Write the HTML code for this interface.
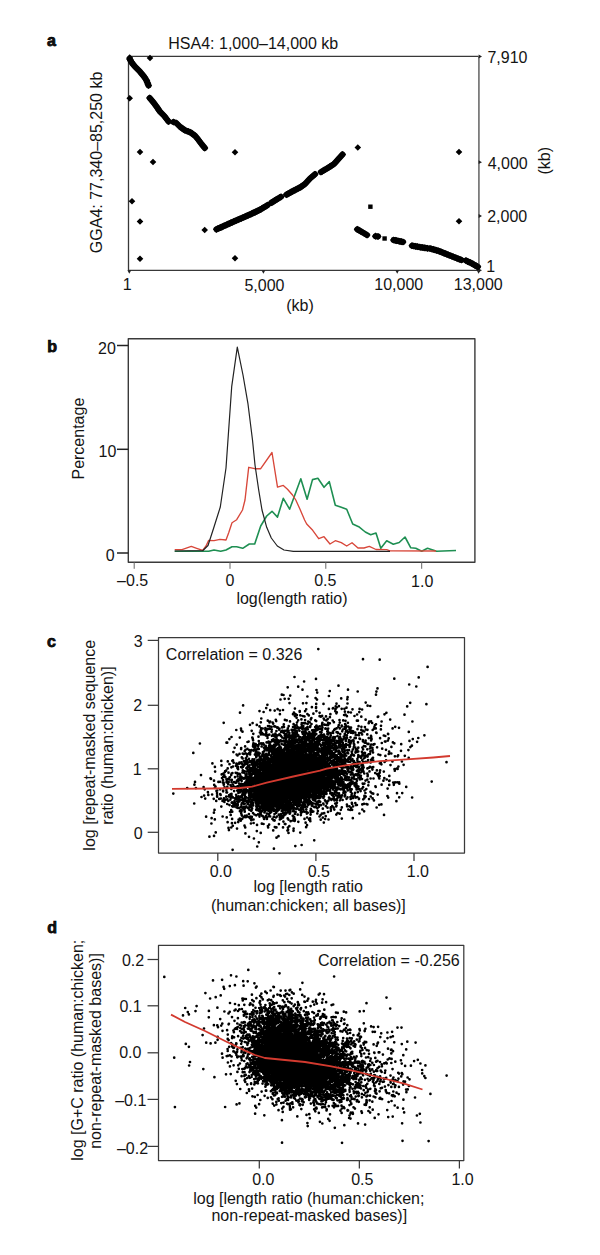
<!DOCTYPE html>
<html><head><meta charset="utf-8"><style>
html,body{margin:0;padding:0;background:#fff;}
svg{display:block}
text{font-family:"Liberation Sans", sans-serif;font-size:16px;fill:#141414}
</style></head><body>
<svg width="600" height="1255" viewBox="0 0 600 1255">
<path d="M478.6 56.4H128.5V270.3H478.6" fill="none" stroke="#383838" stroke-width="1.3" stroke-linejoin="round"/>
<line x1="478.9" y1="56.4" x2="478.9" y2="270.3" stroke="#7c7c7c" stroke-width="1.8"/>
<path d="M478.6 54.6L482 56.5L478.6 58.4z" fill="#222"/>
<path d="M478.6 160.3L482 162.2L478.6 164.1z" fill="#222"/>
<path d="M478.6 214.1L482 216.0L478.6 217.9z" fill="#222"/>
<path d="M478.6 268.4L482 270.3L478.6 272.2z" fill="#222"/>
<path d="M127.4 270.3L129.3 273.8L131.2 270.3z" fill="#222"/>
<path d="M261.5 270.3L263.4 273.8L265.3 270.3z" fill="#222"/>
<path d="M395.3 270.3L397.2 273.8L399.1 270.3z" fill="#222"/>
<path d="M476.7 270.3L478.6 273.8L480.5 270.3z" fill="#222"/>
<path d="M126.4 57.5l3.3 -3.3l3.3 3.3l-3.3 3.3zM146.7 58.0l3.3 -3.3l3.3 3.3l-3.3 3.3zM126.4 98.3l3.3 -3.3l3.3 3.3l-3.3 3.3zM136.7 152.0l3.3 -3.3l3.3 3.3l-3.3 3.3zM149.7 162.0l3.3 -3.3l3.3 3.3l-3.3 3.3zM128.7 201.2l3.3 -3.3l3.3 3.3l-3.3 3.3zM136.7 221.5l3.3 -3.3l3.3 3.3l-3.3 3.3zM136.7 258.7l3.3 -3.3l3.3 3.3l-3.3 3.3zM201.4 230.0l3.3 -3.3l3.3 3.3l-3.3 3.3zM231.7 152.3l3.3 -3.3l3.3 3.3l-3.3 3.3zM231.7 258.3l3.3 -3.3l3.3 3.3l-3.3 3.3zM354.5 147.5l3.3 -3.3l3.3 3.3l-3.3 3.3zM455.7 152.0l3.3 -3.3l3.3 3.3l-3.3 3.3zM455.7 221.3l3.3 -3.3l3.3 3.3l-3.3 3.3zM126.1 59.0l3.6 -3.6l3.6 3.6l-3.6 3.6zM126.9 60.3l3.6 -3.6l3.6 3.6l-3.6 3.6zM127.6 61.7l3.6 -3.6l3.6 3.6l-3.6 3.6zM128.4 63.0l3.6 -3.6l3.6 3.6l-3.6 3.6zM129.4 64.2l3.6 -3.6l3.6 3.6l-3.6 3.6zM130.4 65.5l3.6 -3.6l3.6 3.6l-3.6 3.6zM131.4 66.7l3.6 -3.6l3.6 3.6l-3.6 3.6zM132.7 68.0l3.6 -3.6l3.6 3.6l-3.6 3.6zM133.9 69.2l3.6 -3.6l3.6 3.6l-3.6 3.6zM135.2 70.5l3.6 -3.6l3.6 3.6l-3.6 3.6zM136.4 71.7l3.6 -3.6l3.6 3.6l-3.6 3.6zM137.5 73.0l3.6 -3.6l3.6 3.6l-3.6 3.6zM138.5 74.2l3.6 -3.6l3.6 3.6l-3.6 3.6zM139.5 75.5l3.6 -3.6l3.6 3.6l-3.6 3.6zM140.6 76.7l3.6 -3.6l3.6 3.6l-3.6 3.6zM141.4 78.1l3.6 -3.6l3.6 3.6l-3.6 3.6zM142.3 79.4l3.6 -3.6l3.6 3.6l-3.6 3.6zM143.1 80.8l3.6 -3.6l3.6 3.6l-3.6 3.6zM143.7 82.4l3.6 -3.6l3.6 3.6l-3.6 3.6zM144.3 83.9l3.6 -3.6l3.6 3.6l-3.6 3.6zM144.9 85.5l3.6 -3.6l3.6 3.6l-3.6 3.6zM146.1 98.0l3.6 -3.6l3.6 3.6l-3.6 3.6zM147.1 99.2l3.6 -3.6l3.6 3.6l-3.6 3.6zM148.1 100.3l3.6 -3.6l3.6 3.6l-3.6 3.6zM149.1 101.5l3.6 -3.6l3.6 3.6l-3.6 3.6zM150.1 102.7l3.6 -3.6l3.6 3.6l-3.6 3.6zM151.2 104.2l3.6 -3.6l3.6 3.6l-3.6 3.6zM152.3 105.8l3.6 -3.6l3.6 3.6l-3.6 3.6zM153.4 107.3l3.6 -3.6l3.6 3.6l-3.6 3.6zM154.3 108.6l3.6 -3.6l3.6 3.6l-3.6 3.6zM155.2 110.0l3.6 -3.6l3.6 3.6l-3.6 3.6zM156.1 111.3l3.6 -3.6l3.6 3.6l-3.6 3.6zM157.2 112.5l3.6 -3.6l3.6 3.6l-3.6 3.6zM158.4 113.7l3.6 -3.6l3.6 3.6l-3.6 3.6zM159.6 114.8l3.6 -3.6l3.6 3.6l-3.6 3.6zM160.7 116.0l3.6 -3.6l3.6 3.6l-3.6 3.6zM161.8 117.4l3.6 -3.6l3.6 3.6l-3.6 3.6zM162.8 118.8l3.6 -3.6l3.6 3.6l-3.6 3.6zM163.8 120.1l3.6 -3.6l3.6 3.6l-3.6 3.6zM164.9 121.5l3.6 -3.6l3.6 3.6l-3.6 3.6zM169.9 122.0l3.6 -3.6l3.6 3.6l-3.6 3.6zM172.7 123.0l3.6 -3.6l3.6 3.6l-3.6 3.6zM174.0 124.3l3.6 -3.6l3.6 3.6l-3.6 3.6zM175.4 125.7l3.6 -3.6l3.6 3.6l-3.6 3.6zM176.7 127.0l3.6 -3.6l3.6 3.6l-3.6 3.6zM178.3 128.1l3.6 -3.6l3.6 3.6l-3.6 3.6zM179.8 129.2l3.6 -3.6l3.6 3.6l-3.6 3.6zM181.4 130.3l3.6 -3.6l3.6 3.6l-3.6 3.6zM183.2 131.0l3.6 -3.6l3.6 3.6l-3.6 3.6zM184.9 131.6l3.6 -3.6l3.6 3.6l-3.6 3.6zM186.7 132.3l3.6 -3.6l3.6 3.6l-3.6 3.6zM188.3 133.4l3.6 -3.6l3.6 3.6l-3.6 3.6zM189.8 134.6l3.6 -3.6l3.6 3.6l-3.6 3.6zM191.4 135.7l3.6 -3.6l3.6 3.6l-3.6 3.6zM192.5 137.0l3.6 -3.6l3.6 3.6l-3.6 3.6zM193.6 138.4l3.6 -3.6l3.6 3.6l-3.6 3.6zM194.7 139.7l3.6 -3.6l3.6 3.6l-3.6 3.6zM195.8 141.2l3.6 -3.6l3.6 3.6l-3.6 3.6zM197.0 142.8l3.6 -3.6l3.6 3.6l-3.6 3.6zM198.1 144.3l3.6 -3.6l3.6 3.6l-3.6 3.6zM199.1 145.5l3.6 -3.6l3.6 3.6l-3.6 3.6zM200.2 146.8l3.6 -3.6l3.6 3.6l-3.6 3.6zM201.2 148.0l3.6 -3.6l3.6 3.6l-3.6 3.6zM212.9 229.3l3.6 -3.6l3.6 3.6l-3.6 3.6zM214.3 228.7l3.6 -3.6l3.6 3.6l-3.6 3.6zM215.7 228.0l3.6 -3.6l3.6 3.6l-3.6 3.6zM217.2 227.4l3.6 -3.6l3.6 3.6l-3.6 3.6zM218.6 226.8l3.6 -3.6l3.6 3.6l-3.6 3.6zM220.0 226.1l3.6 -3.6l3.6 3.6l-3.6 3.6zM221.4 225.5l3.6 -3.6l3.6 3.6l-3.6 3.6zM222.8 224.9l3.6 -3.6l3.6 3.6l-3.6 3.6zM224.3 224.2l3.6 -3.6l3.6 3.6l-3.6 3.6zM225.7 223.6l3.6 -3.6l3.6 3.6l-3.6 3.6zM227.1 222.9l3.6 -3.6l3.6 3.6l-3.6 3.6zM228.5 222.3l3.6 -3.6l3.6 3.6l-3.6 3.6zM230.0 221.6l3.6 -3.6l3.6 3.6l-3.6 3.6zM231.4 221.0l3.6 -3.6l3.6 3.6l-3.6 3.6zM233.0 220.3l3.6 -3.6l3.6 3.6l-3.6 3.6zM234.6 219.6l3.6 -3.6l3.6 3.6l-3.6 3.6zM236.2 219.0l3.6 -3.6l3.6 3.6l-3.6 3.6zM237.8 218.3l3.6 -3.6l3.6 3.6l-3.6 3.6zM239.4 217.6l3.6 -3.6l3.6 3.6l-3.6 3.6zM240.8 217.0l3.6 -3.6l3.6 3.6l-3.6 3.6zM242.2 216.4l3.6 -3.6l3.6 3.6l-3.6 3.6zM243.6 215.7l3.6 -3.6l3.6 3.6l-3.6 3.6zM245.0 215.1l3.6 -3.6l3.6 3.6l-3.6 3.6zM246.4 214.5l3.6 -3.6l3.6 3.6l-3.6 3.6zM247.8 213.8l3.6 -3.6l3.6 3.6l-3.6 3.6zM249.3 213.1l3.6 -3.6l3.6 3.6l-3.6 3.6zM250.7 212.4l3.6 -3.6l3.6 3.6l-3.6 3.6zM252.1 211.8l3.6 -3.6l3.6 3.6l-3.6 3.6zM253.5 211.1l3.6 -3.6l3.6 3.6l-3.6 3.6zM255.0 210.4l3.6 -3.6l3.6 3.6l-3.6 3.6zM256.4 209.7l3.6 -3.6l3.6 3.6l-3.6 3.6zM257.9 208.8l3.6 -3.6l3.6 3.6l-3.6 3.6zM259.4 207.9l3.6 -3.6l3.6 3.6l-3.6 3.6zM260.9 207.0l3.6 -3.6l3.6 3.6l-3.6 3.6zM262.4 206.1l3.6 -3.6l3.6 3.6l-3.6 3.6zM263.9 205.2l3.6 -3.6l3.6 3.6l-3.6 3.6zM267.9 202.6l3.6 -3.6l3.6 3.6l-3.6 3.6zM269.3 201.8l3.6 -3.6l3.6 3.6l-3.6 3.6zM270.6 200.9l3.6 -3.6l3.6 3.6l-3.6 3.6zM272.0 200.1l3.6 -3.6l3.6 3.6l-3.6 3.6zM273.3 199.3l3.6 -3.6l3.6 3.6l-3.6 3.6zM274.7 198.5l3.6 -3.6l3.6 3.6l-3.6 3.6zM276.0 197.6l3.6 -3.6l3.6 3.6l-3.6 3.6zM277.4 196.8l3.6 -3.6l3.6 3.6l-3.6 3.6zM282.9 194.6l3.6 -3.6l3.6 3.6l-3.6 3.6zM284.4 193.8l3.6 -3.6l3.6 3.6l-3.6 3.6zM285.9 193.0l3.6 -3.6l3.6 3.6l-3.6 3.6zM287.4 192.1l3.6 -3.6l3.6 3.6l-3.6 3.6zM288.9 191.3l3.6 -3.6l3.6 3.6l-3.6 3.6zM290.4 190.5l3.6 -3.6l3.6 3.6l-3.6 3.6zM291.9 189.8l3.6 -3.6l3.6 3.6l-3.6 3.6zM293.4 189.0l3.6 -3.6l3.6 3.6l-3.6 3.6zM294.9 188.2l3.6 -3.6l3.6 3.6l-3.6 3.6zM296.4 187.5l3.6 -3.6l3.6 3.6l-3.6 3.6zM297.6 186.6l3.6 -3.6l3.6 3.6l-3.6 3.6zM298.9 185.8l3.6 -3.6l3.6 3.6l-3.6 3.6zM300.1 184.9l3.6 -3.6l3.6 3.6l-3.6 3.6zM301.4 184.0l3.6 -3.6l3.6 3.6l-3.6 3.6zM302.6 182.6l3.6 -3.6l3.6 3.6l-3.6 3.6zM303.9 181.2l3.6 -3.6l3.6 3.6l-3.6 3.6zM305.1 179.9l3.6 -3.6l3.6 3.6l-3.6 3.6zM306.4 178.5l3.6 -3.6l3.6 3.6l-3.6 3.6zM307.6 177.4l3.6 -3.6l3.6 3.6l-3.6 3.6zM308.9 176.4l3.6 -3.6l3.6 3.6l-3.6 3.6zM310.1 175.4l3.6 -3.6l3.6 3.6l-3.6 3.6zM311.4 174.3l3.6 -3.6l3.6 3.6l-3.6 3.6zM317.4 172.0l3.6 -3.6l3.6 3.6l-3.6 3.6zM318.9 171.1l3.6 -3.6l3.6 3.6l-3.6 3.6zM320.4 170.2l3.6 -3.6l3.6 3.6l-3.6 3.6zM321.9 169.4l3.6 -3.6l3.6 3.6l-3.6 3.6zM323.4 168.5l3.6 -3.6l3.6 3.6l-3.6 3.6zM324.8 167.6l3.6 -3.6l3.6 3.6l-3.6 3.6zM326.2 166.7l3.6 -3.6l3.6 3.6l-3.6 3.6zM327.6 165.8l3.6 -3.6l3.6 3.6l-3.6 3.6zM329.0 164.9l3.6 -3.6l3.6 3.6l-3.6 3.6zM330.4 164.0l3.6 -3.6l3.6 3.6l-3.6 3.6zM331.4 162.9l3.6 -3.6l3.6 3.6l-3.6 3.6zM332.4 161.8l3.6 -3.6l3.6 3.6l-3.6 3.6zM333.4 160.6l3.6 -3.6l3.6 3.6l-3.6 3.6zM334.4 159.5l3.6 -3.6l3.6 3.6l-3.6 3.6zM335.5 158.2l3.6 -3.6l3.6 3.6l-3.6 3.6zM336.6 157.0l3.6 -3.6l3.6 3.6l-3.6 3.6zM337.8 155.8l3.6 -3.6l3.6 3.6l-3.6 3.6zM338.9 154.5l3.6 -3.6l3.6 3.6l-3.6 3.6zM353.7 229.3l3.6 -3.6l3.6 3.6l-3.6 3.6zM355.3 230.2l3.6 -3.6l3.6 3.6l-3.6 3.6zM356.8 231.1l3.6 -3.6l3.6 3.6l-3.6 3.6zM358.4 232.0l3.6 -3.6l3.6 3.6l-3.6 3.6zM360.1 233.0l3.6 -3.6l3.6 3.6l-3.6 3.6zM361.7 234.0l3.6 -3.6l3.6 3.6l-3.6 3.6zM363.4 235.0l3.6 -3.6l3.6 3.6l-3.6 3.6zM371.9 236.2l3.6 -3.6l3.6 3.6l-3.6 3.6zM374.4 236.5l3.6 -3.6l3.6 3.6l-3.6 3.6zM390.0 240.0l3.6 -3.6l3.6 3.6l-3.6 3.6zM391.6 240.3l3.6 -3.6l3.6 3.6l-3.6 3.6zM393.1 240.7l3.6 -3.6l3.6 3.6l-3.6 3.6zM394.7 241.0l3.6 -3.6l3.6 3.6l-3.6 3.6zM396.3 241.3l3.6 -3.6l3.6 3.6l-3.6 3.6zM397.8 241.7l3.6 -3.6l3.6 3.6l-3.6 3.6zM399.4 242.0l3.6 -3.6l3.6 3.6l-3.6 3.6zM408.4 245.7l3.6 -3.6l3.6 3.6l-3.6 3.6zM410.2 246.0l3.6 -3.6l3.6 3.6l-3.6 3.6zM412.0 246.3l3.6 -3.6l3.6 3.6l-3.6 3.6zM413.8 246.7l3.6 -3.6l3.6 3.6l-3.6 3.6zM415.6 247.0l3.6 -3.6l3.6 3.6l-3.6 3.6zM417.3 247.3l3.6 -3.6l3.6 3.6l-3.6 3.6zM418.9 247.5l3.6 -3.6l3.6 3.6l-3.6 3.6zM420.6 247.8l3.6 -3.6l3.6 3.6l-3.6 3.6zM422.2 248.0l3.6 -3.6l3.6 3.6l-3.6 3.6zM423.9 248.3l3.6 -3.6l3.6 3.6l-3.6 3.6zM426.4 248.5l3.6 -3.6l3.6 3.6l-3.6 3.6zM428.1 249.0l3.6 -3.6l3.6 3.6l-3.6 3.6zM429.7 249.4l3.6 -3.6l3.6 3.6l-3.6 3.6zM431.4 249.9l3.6 -3.6l3.6 3.6l-3.6 3.6zM433.0 250.3l3.6 -3.6l3.6 3.6l-3.6 3.6zM434.7 250.8l3.6 -3.6l3.6 3.6l-3.6 3.6zM436.1 251.4l3.6 -3.6l3.6 3.6l-3.6 3.6zM437.5 251.9l3.6 -3.6l3.6 3.6l-3.6 3.6zM438.9 252.5l3.6 -3.6l3.6 3.6l-3.6 3.6zM440.3 253.1l3.6 -3.6l3.6 3.6l-3.6 3.6zM441.7 253.6l3.6 -3.6l3.6 3.6l-3.6 3.6zM443.1 254.2l3.6 -3.6l3.6 3.6l-3.6 3.6zM444.8 254.9l3.6 -3.6l3.6 3.6l-3.6 3.6zM446.4 255.5l3.6 -3.6l3.6 3.6l-3.6 3.6zM448.1 256.2l3.6 -3.6l3.6 3.6l-3.6 3.6zM449.7 256.8l3.6 -3.6l3.6 3.6l-3.6 3.6zM451.4 257.5l3.6 -3.6l3.6 3.6l-3.6 3.6zM453.0 258.1l3.6 -3.6l3.6 3.6l-3.6 3.6zM454.6 258.8l3.6 -3.6l3.6 3.6l-3.6 3.6zM456.3 259.4l3.6 -3.6l3.6 3.6l-3.6 3.6zM457.9 260.0l3.6 -3.6l3.6 3.6l-3.6 3.6zM462.4 260.6l3.6 -3.6l3.6 3.6l-3.6 3.6zM463.8 261.3l3.6 -3.6l3.6 3.6l-3.6 3.6zM465.2 262.0l3.6 -3.6l3.6 3.6l-3.6 3.6zM466.7 262.6l3.6 -3.6l3.6 3.6l-3.6 3.6zM468.1 263.3l3.6 -3.6l3.6 3.6l-3.6 3.6zM469.6 264.2l3.6 -3.6l3.6 3.6l-3.6 3.6zM471.1 265.1l3.6 -3.6l3.6 3.6l-3.6 3.6zM472.7 265.9l3.6 -3.6l3.6 3.6l-3.6 3.6zM474.2 266.8l3.6 -3.6l3.6 3.6l-3.6 3.6z" fill="#000"/>
<polyline points="129.7,59 132,63 135,66.7 140,71.7 144.2,76.7 146.7,80.8 148.5,85.5" fill="none" stroke="#000" stroke-width="6" stroke-linejoin="round" stroke-linecap="round"/>
<polyline points="149.7,98 153.7,102.7 157,107.3 159.7,111.3 164.3,116 168.5,121.5" fill="none" stroke="#000" stroke-width="6" stroke-linejoin="round" stroke-linecap="round"/>
<polyline points="173.5,122 176.3,123 180.3,127 185,130.3 190.3,132.3 195,135.7 198.3,139.7 201.7,144.3 204.8,148" fill="none" stroke="#000" stroke-width="6" stroke-linejoin="round" stroke-linecap="round"/>
<polyline points="216.5,229.3 225,225.5 235,221 243,217.6 250,214.5 260,209.7 267.5,205.2" fill="none" stroke="#000" stroke-width="6" stroke-linejoin="round" stroke-linecap="round"/>
<polyline points="271.5,202.6 281,196.8" fill="none" stroke="#000" stroke-width="6" stroke-linejoin="round" stroke-linecap="round"/>
<polyline points="286.5,194.6 294,190.5 300,187.5 305,184 310,178.5 315,174.3" fill="none" stroke="#000" stroke-width="6" stroke-linejoin="round" stroke-linecap="round"/>
<polyline points="321,172 327,168.5 334,164 338,159.5 342.5,154.5" fill="none" stroke="#000" stroke-width="6" stroke-linejoin="round" stroke-linecap="round"/>
<polyline points="357.3,229.3 362,232 367,235" fill="none" stroke="#000" stroke-width="6" stroke-linejoin="round" stroke-linecap="round"/>
<polyline points="375.5,236.2 378,236.5" fill="none" stroke="#000" stroke-width="6" stroke-linejoin="round" stroke-linecap="round"/>
<polyline points="393.6,240 403,242" fill="none" stroke="#000" stroke-width="6" stroke-linejoin="round" stroke-linecap="round"/>
<polyline points="412,245.7 419.2,247 427.5,248.3 430,248.5 438.3,250.8 446.7,254.2 455,257.5 461.5,260" fill="none" stroke="#000" stroke-width="6" stroke-linejoin="round" stroke-linecap="round"/>
<polyline points="466,260.6 471.7,263.3 477.8,266.8" fill="none" stroke="#000" stroke-width="6" stroke-linejoin="round" stroke-linecap="round"/>
<rect x="368.2" y="204.5" width="4.4" height="4.4" fill="#000"/>
<rect x="382.40000000000003" y="236.3" width="4.4" height="4.4" fill="#000"/>
<rect stroke-linejoin="round" x="128.3" y="338.7" width="346.59999999999997" height="223.50000000000006" fill="none" stroke="#3a3a3a" stroke-width="1.4"/>
<line x1="117" y1="345.5" x2="128.3" y2="345.5" stroke="#222" stroke-width="1.5"/>
<line x1="117" y1="449.3" x2="128.3" y2="449.3" stroke="#222" stroke-width="1.5"/>
<line x1="117" y1="553" x2="128.3" y2="553" stroke="#222" stroke-width="1.5"/>
<line x1="134.2" y1="562.2" x2="134.2" y2="568.8" stroke="#666" stroke-width="1.0"/>
<line x1="230" y1="562.2" x2="230" y2="568.8" stroke="#666" stroke-width="1.0"/>
<line x1="325.8" y1="562.2" x2="325.8" y2="568.8" stroke="#666" stroke-width="1.0"/>
<line x1="421.7" y1="562.2" x2="421.7" y2="568.8" stroke="#666" stroke-width="1.0"/>
<polyline points="174.7,551.3 208.7,551.3 214.0,550.0 220.7,551.3 226.0,550.0 232.0,546.7 236.7,546.7 242.7,548.3 249.3,544.0 254.7,544.0 260.7,526.0 266.7,516.0 272.0,511.3 277.5,517.1 283.3,498.3 289.6,509.2 300.8,478.8 307.1,499.2 312.5,479.6 317.9,478.3 324.0,487.3 329.3,481.6 335.3,505.3 341.3,507.3 346.7,509.3 352.7,524.0 358.7,526.7 365.3,532.0 370.7,534.7 376.0,533.0 380.8,548.3 386.7,540.8 393.3,544.2 399.2,542.5 405.0,537.0 410.8,547.8 415.8,548.3 421.7,551.2 427.5,548.3 436.7,551.2 456.0,550.5" fill="none" stroke="#1e8f52" stroke-width="1.6" stroke-linejoin="round"/>
<polyline points="174.7,549.6 182.0,549.6 191.3,546.4 196.7,548.3 202.7,550.4 206.0,546.0 208.7,540.4 214.0,540.7 220.0,539.3 226.0,540.0 228.7,532.7 232.0,522.7 236.7,519.7 242.5,510.0 245.0,500.0 248.7,467.3 254.7,468.7 260.7,468.7 272.0,452.5 277.5,487.1 283.3,485.4 287.5,489.2 292.5,495.0 295.8,500.0 300.0,509.2 304.6,520.0 306.7,524.0 312.7,530.3 318.7,538.7 324.0,536.7 330.0,544.0 335.3,540.7 341.3,542.7 346.7,546.0 352.0,542.7 358.0,548.0 364.0,548.0 369.3,546.4 376.0,549.5 386.7,549.7 390.0,550.8 436.0,551.0" fill="none" stroke="#d8473a" stroke-width="1.35" stroke-linejoin="round"/>
<polyline points="174.7,551.0 202.7,550.7 208.0,545.5 214.0,527.0 220.3,507.0 226.0,468.0 231.7,386.7 237.3,347.1 243.0,375.0 247.9,403.3 252.5,440.0 255.0,465.0 258.7,490.0 262.0,510.0 266.7,527.3 271.3,538.0 277.3,546.0 284.0,550.0 293.3,551.3 390.0,551.3" fill="none" stroke="#222" stroke-width="1.2" stroke-linejoin="round"/>
<rect stroke-linejoin="round" x="158.5" y="637.5" width="306.0" height="215.5" fill="none" stroke="#3a3a3a" stroke-width="1.25"/>
<line x1="147.7" y1="640.4" x2="158.5" y2="640.4" stroke="#3a3a3a" stroke-width="1.25"/>
<line x1="147.7" y1="705.3" x2="158.5" y2="705.3" stroke="#3a3a3a" stroke-width="1.25"/>
<line x1="147.7" y1="768.8" x2="158.5" y2="768.8" stroke="#3a3a3a" stroke-width="1.25"/>
<line x1="147.7" y1="832.3" x2="158.5" y2="832.3" stroke="#3a3a3a" stroke-width="1.25"/>
<line x1="217.8" y1="853" x2="217.8" y2="861" stroke="#3a3a3a" stroke-width="1.25"/>
<line x1="315.9" y1="853" x2="315.9" y2="861" stroke="#3a3a3a" stroke-width="1.25"/>
<line x1="414.0" y1="853" x2="414.0" y2="861" stroke="#3a3a3a" stroke-width="1.25"/>
<path d="M318.3 649.1h0m44.7 10.1h0m16.7 0.5h0m47.9 7.2h0m-133.1 10.1h0m21.5 1.9h0m78.3-0.2h0m24.4-1.3h0m-120.5 9.3h0m5.9-5.2h0m34.4 4.2h0m70.7-1.2h0m7.1 2h0m-128.6 0.8h0m14.8 2.4h0m14 0.3h0m0.7 2.6h0m12.6-1.5h0m18.2-1.4h0m9.7 1.8h0m18.7 0.1h0m1.1-3.2h0m-95.7 6.3h0m1.7 0.3h0m1.2 3.8h0m4 0h0m1.5-3.2h0m17.2 0.9h0m8.2 1.6h0m13.3-2.1h0m12.3 2.4h0m6.4-1.2h0m28.4-2.5h0m-108.6 10.1h0m13.1-5.3h0m9 3.6h0m13.5 0.2h0m3.4-0.2h0m9.8 0.8h0m0.8-4.3h0m6.5 4.3h0m13-0.2h0m10.8-4.4h0m0.2 4.2h0m18.2-0.9h0m44.5 0.2h0m16.2 1.4h0m-183.3 1.2h0m23.1 2.7h0m4 2.1h0m4.5 0.4h0m2.9-1.4h0m2.3 1.3h0m3.1-0.5h0m11.9-1.4h0m11.3 0.7h0m5.7-2.1h0m4.1 0.7h0m0.1-0.7h0m12.8 1.7h0m3.9-0.4h0m0.4-0.3h0m2.3 1.2h0m0.2-3h0m1 1h0m2.2-1.2h0m2.8 2.6h0m2.7 0h0m2.1-1.1h0m6 1.6h0m7.1-0.4h0m2.5 0.6h0m5.5-3.8h0m2.6 0.3h0m37 0.4h0m-167.2 6.3h0m19.5-1.6h0m4.1 0.9h0m16.3 2.2h0m13.1 0h0m0.9-1.6h0m1 3.5h0m0.5-2h0m1.5 1h0m2.8-4h0m0 0.7h0m0.6 3.5h0m2.4 0.7h0m1.7 0.5h0m0.1 0h0m0.6-5.3h0m2.3 2.9h0m1.4 1.3h0m4.6-1.7h0m3-2.6h0m3.2 5.1h0m0-3.4h0m1.2 3.9h0m1.3-0.8h0m3.9 0.5h0m4.4-2.2h0m4.9-3h0m1.1 2.1h0m0.4-1h0m7.3 2.7h0m0.5 0.1h0m0.3-3.4h0m0.5 2.9h0m1.5 1.6h0m1.4-4h0m2.6 0.3h0m3.6 3.5h0m2.6-1.5h0m2.2-2.4h0m2 4.6h0m16.5 0.2h0m0.4-0.3h0m6.3-2.3h0m1.9-1.5h0m18.1 1.9h0m-180.8 8.1h0m37.1-0.5h0m0.5-3.8h0m6.5 2.2h0m1.7 1.7h0m0.6-0.9h0m2.5 1.1h0m3.2-2.8h0m0.4 1.3h0m8.7-1.2h0m1.8 0.5h0m3.3 1h0m6.6-3.6h0m0.4 4.7h0m1.2-2.2h0m3.2-0.9h0m3.7 0.7h0m3.1 1.6h0m1.5 0.6h0m1.1-2.9h0m0.6-1.4h0m3.9 2.4h0m0.9 0.7h0m6.2 1.7h0m1.3-4.3h0m0.4 1.1h0m2.2 0.9h0m1.4-1.4h0m0.4 3.8h0m1.8-5.7h0m2.8 3.3h0m1.2 1.7h0m5.6-2.1h0m0.3 2.5h0m3.4-2.2h0m2.3 0.4h0m2.4 2h0m9-2.1h0m1 0h0m7.7-1h0m3.6 2h0m1.9-0.3h0m10.5 0.1h0m8.6-1.9h0m22.2 1.9h0m-171.4 7.2h0m9-3.9h0m2.6-1.7h0m4.2 1.8h0m2.7 1.5h0m1.7 2h0m1.5 0.1h0m2.7-0.4h0m2.6-2h0m1.4 0.1h0m0.4 2.6h0m1.8-2h0m1.6-3.1h0m1.1 2.7h0m1 0.2h0m2 0.7h0m0 0.5h0m0.7-0.1h0m1.5 1.1h0m2.6-1.4h0m1.5-0.9h0m0.2-2.1h0m0.2 2.6h0m3.8 1.3h0m0.9-2.1h0m4.3 0.9h0m0.6-2.9h0m1.2 3.4h0m0.1 0.2h0m0.1-2h0m1.5-0.7h0m0.2 3.1h0m0-0.4h0m0.9-0.6h0m0.4 0.6h0m0.6 0.8h0m1-0.8h0m0.8-0.1h0m1.2-3.1h0m0.1 2.7h0m0.1-4.2h0m0.4 2.7h0m1.1 0.3h0m0.7 2.4h0m0-5.4h0m0.8 0.2h0m0.5-0.1h0m0.3 5.3h0m0.7-0.4h0m0.8-0.1h0m0.5-0.8h0m0-3.2h0m2.5 3.1h0m0.3-1.2h0m1.1-1.9h0m3.7 3h0m0.2 0.3h0m0.5 1.5h0m0.3 0.2h0m0.3-3.5h0m0.1 1.5h0m1.5 0.1h0m1.5-0.7h0m1.2 2.5h0m1.2-3.2h0m0.1 0h0m0-1.5h0m0.4 3.4h0m2.1-2.9h0m0.8 4h0m0.3-0.1h0m0.8-3.6h0m1.1-0.5h0m0.5 0.6h0m0.1 3.4h0m1.6-5.2h0m6.8 5.1h0m1.8-1.8h0m0.4-1.6h0m0.9 3.4h0m2-1.9h0m0-1h0m2.8 3.2h0m0.1-1.9h0m0.5-2.7h0m0.7 1.2h0m0.1 2.5h0m0.1-1.5h0m2.2 0.2h0m1.1 0.8h0m1 0.7h0m0.7-0.3h0m7.6-1.5h0m2.8 0.6h0m3.5 0.3h0m3.8-3.9h0m3.4-0.2h0m1.7 5.8h0m0.6-1.7h0m0.5-1.9h0m0.9 3.2h0m0.2-4.1h0m5 1.5h0m11.6 2.6h0m2.6-1.6h0m3.8 1h0m-162.7 2.2h0m5 0.5h0m1.2 1.2h0m9.2-0.9h0m1.6 3h0m6.6-1.3h0m0.8-2.1h0m0.2 4.1h0m0.1-4h0m0 1.6h0m1.1 0.8h0m0.8 1.4h0m0.8 0.1h0m1.6-5.1h0m0.3 1.1h0m0.6 3.4h0m0.1-0.9h0m0-2.3h0m0.2-1.3h0m1.1-0.1h0m1.7 5.4h0m2.3-2.8h0m0.2-2.2h0m1.2 4.9h0m2.4-0.8h0m1-2.7h0m2.8-1.3h0m0.2 4.6h0m0.6 0.5h0m1-2.8h0m0.4-0.7h0m0.4 0.1h0m0.3-0.6h0m0.2 1.1h0m0.4-0.1h0m0.1-0.9h0m1 2h0m1-2h0m0.2 3.9h0m0 0h0m1-0.4h0m0.1-0.6h0m0.5-3.2h0m1.1 0.6h0m0.1 0.6h0m0 0.5h0m0.7-0.3h0m0.1-1.5h0m0.8 2.5h0m2.2-3.1h0m0.9 2.4h0m0.2 1.5h0m0.4-0.4h0m0.1-0.3h0m0.2 0.7h0m0.3-3.6h0m0.1 4.5h0m0.8-5.1h0m0.5 4h0m0.3-1.7h0m0.1-0.8h0m0.7 2.8h0m0.6-2.8h0m0.1 1.9h0m0.7 1.8h0m0.1 0.2h0m1.7-4.3h0m2.8 1.4h0m0.2-2.9h0m0.3 4.6h0m0.1-0.7h0m0.5 0.2h0m0.1-0.6h0m0.3 1.9h0m0.1-3.1h0m1.1 2.5h0m0.3 0.7h0m0.3-3.1h0m0.1-1.7h0m0.9 2.9h0m1.3-3.5h0m0.2 5.1h0m1.3-2.3h0m0.1 2.5h0m0.4-0.6h0m0.4-0.4h0m1.5 1.1h0m0 0.1h0m0.1 0h0m0.3-1.3h0m0-3.2h0m0.8 1.4h0m0.5 0.5h0m0.2 0.4h0m0.1-2.5h0m0.4 1.7h0m0.1 0h0m0.1 1.3h0m0.1-0.6h0m0.7 1.7h0m0.4-2.9h0m0.1-1.6h0m0 4.6h0m0.7-0.2h0m0.1-4.8h0m0.9-0.2h0m0.1 0.9h0m0.8-0.8h0m0.7-0.2h0m1.2 3.2h0m1.3 0.6h0m0.1-0.4h0m0.4-3.2h0m0.1 0.9h0m2 4.5h0m3.3-3.2h0m0.1 2.5h0m0.3-2.8h0m0.1-1.7h0m0.3 5h0m1.4-1.6h0m1.4 0.5h0m2-1.6h0m0.2 1.3h0m1.1-3.1h0m0.7-0.7h0m1.7 3h0m1.3 0.9h0m0.1-0.6h0m2.2 1.6h0m2-2.8h0m0.6-1.7h0m2 4.3h0m1.1-2.4h0m0.3-0.9h0m1 0h0m0.7 2.2h0m0.1-1h0m1.5-2.7h0m0.6 2.5h0m0.2-2.1h0m0.5 3.2h0m1.2-1.7h0m0.9 2.1h0m0.3-1.7h0m2.1 1.3h0m2.2-3.5h0m1.6 3.8h0m2.2-0.2h0m0-2.9h0m0.8 4.5h0m1.1-3.5h0m1 0.6h0m1.7-2h0m1.4 4.9h0m0.2-4.6h0m5.2 0.2h0m3.5 2.7h0m0.3 0.2h0m4.4-3.5h0m7.1 4.5h0m0.2 0.2h0m20.6-2.2h0m-179.4 7.2h0m2.1-2.1h0m8.3 0.6h0m12.5 0h0m0.4 0.9h0m0 0.3h0m0.4 1.5h0m5.4-3.6h0m7.4-1.2h0m1.4 0.4h0m0.2 2h0m0.9-2.9h0m3.5 0.8h0m0.1 4.4h0m1-4.7h0m0.1 4.7h0m0.3-0.9h0m0.3 0.1h0m0 0.5h0m0.6-3.7h0m1 0.6h0m0.9 0.5h0m0 2.4h0m0.1-2.2h0m0.3 1.3h0m0-2h0m0.1-1.5h0m1.3 5h0m0.7-5.2h0m1.7 5.6h0m0.3-0.4h0m0.3-4.4h0m1.1 1.5h0m1.8 1h0m0.6 2.6h0m0.3-5.5h0m0.2 1.4h0m0.9-1.9h0m0.2 0.1h0m0.1 3.8h0m0.1 1.7h0m0.8-4h0m0.7 0.3h0m0.7-1.7h0m0.4 1.2h0m0.1-1h0m0.1 0.6h0m0 1.4h0m0.2 1.9h0m0.3-0.7h0m0.3-2.7h0m0.5-0.3h0m0.4 2.5h0m1.1-2.4h0m0.2 3.5h0m0.2 1.1h0m0-0.5h0m0.1-4.4h0m0.2 2.4h0m0.4-1.7h0m0.7 1.4h0m0 0.4h0m0.2-1.4h0m0.3 4h0m0.2-3.7h0m0.3 0.8h0m0.1 2.3h0m0.3-4.9h0m0.7 2.1h0m0.2-0.4h0m0 3.4h0m0.8-0.6h0m0.4 0.9h0m0.1 0.5h0m0.5-4.8h0m0.5-0.7h0m0.5 3.9h0m0.5-2.5h0m0 1.8h0m0.1 1.1h0m0-0.5h0m0.2-2h0m0.1 3h0m0 0.4h0m0.4-3.5h0m1.4 2.9h0m0.3-0.9h0m0.4 1.8h0m0.4-3.5h0m0.4 0.8h0m1.1-2.9h0m0.1 3.5h0m0.3-3.4h0m0.4 2.5h0m0.2-2.4h0m0.1 4.9h0m0.4 0.5h0m0.5-0.2h0m0.2-3.3h0m0 1.9h0m0.7 0.1h0m0.2-1h0m0.7 0.8h0m0.2-3.7h0m0-0.3h0m0.2 4.7h0m0.2-2.4h0m0.1 3h0m0.3-0.5h0m0.3-0.7h0m0.2 0h0m0.1-2.5h0m0.2-0.2h0m0.9 4.3h0m0.3-3.7h0m0.3-2h0m0.3 3.1h0m0-2.8h0m0.2 1.2h0m0.2 4.2h0m0.1-4.3h0m0.3-0.9h0m0.3 1h0m0.1 2.4h0m0 0.8h0m0-4.7h0m0.6 2.5h0m0.8 2.9h0m0.3-4.7h0m0.5 2.8h0m0.1-3.6h0m1.9 4.6h0m0.3-1.8h0m0.5 1.2h0m0.6-0.8h0m0.1-0.6h0m0.2-1.4h0m0.2-0.2h0m0.2 2.6h0m0.3 0.6h0m0.5-0.1h0m0.5-2h0m0.1-1h0m0.2-1h0m0.3 1.5h0m0.3 0h0m0.4 3h0m0.4-4.6h0m0.3 1.8h0m1.1 3.2h0m0.1-4h0m0.3 0.1h0m0-1h0m0.4 3.3h0m0 0.7h0m0.1 0.2h0m0.7 0.5h0m0.2-3.4h0m0.4 4h0m0-3.3h0m0.3 2.3h0m0.6-1.9h0m0.2 1.8h0m0.2-2.4h0m0.1 3.4h0m0.7-2.5h0m0.1-0.3h0m0 3.2h0m0.9-3h0m0.6 2h0m0.2-0.4h0m0.9-2.3h0m0.2 2.4h0m0.2-3.9h0m0.2 4.3h0m1.9 0.3h0m0-1.9h0m0.3 1.1h0m0.2-2.3h0m0.3 3.7h0m0.1-0.1h0m0.6-1.3h0m0.5-1.6h0m0.2-0.7h0m1.5 3.8h0m0.9-4.9h0m1.2 4.8h0m0.3-2.6h0m0.1 2.7h0m0.9-0.7h0m0-3.4h0m0.2 2.4h0m0.1 0h0m0.2 1h0m0.5-1.7h0m0.2 1.1h0m2.2-0.3h0m0.4-2.6h0m1 0.9h0m0.1-2.5h0m0.9 5.9h0m0.2-1.7h0m0.9-3.9h0m0.1 2.4h0m1.9 2.2h0m1.6-2.7h0m0.4 3.5h0m1.8-0.3h0m0.6-0.3h0m0.3 0.8h0m1.1-3.1h0m1-2.9h0m0.1 3.1h0m0.9-3h0m2.3 0.1h0m0.5 3.4h0m0.5 0.3h0m2.9 1.1h0m2.7 0.7h0m3.1-2.6h0m2.3 0.6h0m0-2.8h0m0.1 4.6h0m0.2-3.5h0m0.3 2.1h0m8.5-0.9h0m3.7-2.7h0m1.5 0.5h0m2.6 4.6h0m0.8-2.2h0m20.8 2.5h0m3.3-1.8h0m5.5-1.1h0m6.1-2.7h0m-224.5 8.2h0m26.6-0.8h0m0.7 0h0m9.5 1.9h0m8.4 1.8h0m2.4-4.4h0m1.1-0.4h0m4.4 4.6h0m0.2-1.3h0m0.2-1.6h0m0.1 3.6h0m0.2-0.8h0m1.1-1.9h0m0.9 0h0m0.5 1h0m0.6-0.2h0m1.4 1.4h0m0.3-1.3h0m0.3-4h0m0.5 2.6h0m1.8-0.3h0m0.5 3.1h0m0-3h0m0.3 0.5h0m1.2-0.6h0m0.3 0.5h0m0.3 0.7h0m2 1.3h0m0.9-3.5h0m1.1-0.1h0m0.7 0.2h0m0.2-0.9h0m0.5 5.3h0m0-1.4h0m0.3-2.2h0m0.4-1h0m0 2.3h0m0.5-2.2h0m0.9 4.4h0m0.1 0.2h0m0.6-1.1h0m0.1-4.7h0m0.4 5.8h0m1.3-6h0m0.4 4.6h0m0.2-1h0m0.3 0.6h0m0.1-3.8h0m0.1 0.7h0m0 2.5h0m0.6 1.5h0m0-2.1h0m0.4-0.1h0m0.1 1.3h0m0.2-3.4h0m0.1 0.4h0m0 0.9h0m0.1 0.9h0m0.8 0.5h0m0.2-1.8h0m1 0.2h0m0.4 1.7h0m0.5-2.6h0m0 0.2h0m0.2 4.6h0m0.6-5.6h0m0.1 5.4h0m0.1-5.3h0m1-0.1h0m0.4 2.8h0m1-2.8h0m0.8 3.4h0m0.4-3.1h0m1.3 2.6h0m0 1.7h0m0.3-3.4h0m0.1 3.1h0m0.3-3.3h0m0.6 2.8h0m0.1-3h0m0 0.2h0m0.4 3.1h0m0.5 0.4h0m0.7-1h0m0.2 2.2h0m0.1-5.5h0m0.1 2.4h0m0.4 3.1h0m0.1 0.1h0m0.1-4.6h0m0.1-0.6h0m0.3 0.5h0m0.3 0.9h0m0.2-2.1h0m0.1 4.6h0m0.3 0.9h0m0.2-0.8h0m0.4-3.8h0m0.1 1.6h0m0.9 0.7h0m0.5 1.7h0m0.3-4.8h0m0.3 2.2h0m0.1 1.1h0m0.7 1.3h0m0.3-3.1h0m0.2 2.7h0m0.5 1h0m0.1-0.1h0m0.2-4.2h0m0.2 1h0m0.3-1.7h0m0.6 0.6h0m0 0.1h0m0.1 4.6h0m0.5-1.3h0m0.2 1.1h0m0.9-1.3h0m0.5-2.2h0m0.6 2.2h0m0-0.5h0m1-3.1h0m0.3 0.5h0m0-0.2h0m0.4 3h0m0.3 0.7h0m0.6-2.5h0m0 1.9h0m0.1-1.6h0m0.2-0.9h0m0 2.6h0m0.3-1.5h0m0.1-0.8h0m0 1.8h0m0.4-3.2h0m0.1 0.5h0m0 4.8h0m0-1.1h0m0.1-4h0m0.6 1.6h0m0.6-1.4h0m0.1-0.3h0m0.4 2.8h0m0-1.2h0m0.3-0.5h0m0 1.4h0m0.2-1.7h0m0.1 0.7h0m0.4 1.5h0m0.3 0.7h0m0.3-2.5h0m0.1 0.8h0m0.7 1.1h0m0-0.2h0m0 0.6h0m0.3 0.1h0m0.2-0.1h0m0-0.6h0m0.1 2.6h0m0.1-2.1h0m0.2 2h0m0.5-1.7h0m0.1-1.2h0m0.2 2.1h0m0.4-1.8h0m0.1 2.7h0m0.3-4.4h0m0.7 3.2h0m0.7-2h0m0-1.2h0m0.3 3.2h0m0.2-1.7h0m0.1 2.8h0m0.2-3h0m0.3 0.9h0m0.1-3.5h0m0.3 1.7h0m0.1 0.2h0m0.4 2.6h0m0.7-1.4h0m0.4 1.2h0m0.8-0.8h0m0.1 1.5h0m0.1-3.4h0m0.2 0.4h0m0.1 2.4h0m0.3-2.8h0m0.3-0.5h0m0.1 1.6h0m0-1.9h0m0.6 2.1h0m0.3 2.1h0m0.5 0.6h0m0.1-0.5h0m0.1-3.8h0m0-1.2h0m0.2 4h0m0.1-2.5h0m0.1-1.8h0m0.1 0.3h0m0 3.7h0m1.4-1.4h0m0.1-2.6h0m1.2 4.7h0m0.3-0.5h0m1.5-1.1h0m0.1-1.4h0m0 1.4h0m0.1-1.3h0m0.3 1.5h0m0.4 1.4h0m0.1-2.4h0m0.5 2.1h0m0.2-2.5h0m0.7-0.5h0m0.1 3.9h0m0.1-0.6h0m0.1-1.6h0m0.9-2.1h0m0.6 4.8h0m0-4.2h0m0.2 1.3h0m0.6-0.1h0m0.1 0.1h0m0.3 1.8h0m0.7-4.7h0m0.1 5.4h0m0-5.2h0m0.2 1h0m0.2 2.1h0m1.1 0.1h0m0.3-3.1h0m0.7 4.4h0m0-2.5h0m0.1-1.3h0m0.5 4h0m1.2-1h0m0.1-0.1h0m0.5-1.3h0m0.3 1.3h0m0.8-2h0m0.6 2.6h0m0.2-2.1h0m0.1 3.6h0m0.6-1.1h0m0.2-4.3h0m1.4 1.2h0m0.7 0.1h0m0.5 2.4h0m0.6-0.5h0m0 1h0m0.2 0.4h0m0-4.8h0m0.3 0.9h0m0.5 2.6h0m1 0.8h0m0.3-4.4h0m0.2 4h0m0.5-2.4h0m0.5 2.9h0m0.7-0.6h0m1.1 1.3h0m0.7-1.4h0m0.2-1.1h0m0.7 0.8h0m2-2.7h0m0 0.1h0m0.1 3.1h0m1.2 1h0m0.2-2.4h0m0.7-1.2h0m2.6-1.3h0m0.3 2.3h0m0.4 1.2h0m0-0.5h0m3.8-2.1h0m4.9-1h0m1 4.7h0m0.7-3.4h0m0.8 3.8h0m0.2-3.7h0m1.8 1.1h0m1.1 0.1h0m1.9 2.4h0m0.8-1.8h0m2.2 0.2h0m1.1-0.6h0m7.3-1.1h0m3.1-1.5h0m0.6 0.1h0m5.9 5.3h0m1.5-4.5h0m1.4 0.9h0m6.9 0.9h0m10.7 1.5h0m5.2-3.9h0m-223.8 11.1h0m40.1-0.8h0m1.2-4.3h0m6.5 1.3h0m0.1-1.1h0m3.5 3.2h0m0.8-1.4h0m1.9-0.9h0m1.9 1.3h0m1.1 1.8h0m1.2-1.8h0m2.1 0.4h0m0.6-1.1h0m1.1-2.3h0m0.4 5.5h0m0.3-1.2h0m0.3-0.2h0m0.2-1.8h0m1.4-0.6h0m0.6 3.6h0m0.2-3.4h0m4.1 3.1h0m1.1-4.5h0m0.2 3.7h0m0.2-2.8h0m0.4-1.3h0m0.5-0.1h0m0.6 0.2h0m0 2.1h0m0.9 0.8h0m0.5-2h0m0.4-0.3h0m0.9 1.1h0m0.1 1.6h0m0.2 2.3h0m0.5-4.3h0m0.5-0.3h0m0.5 2.4h0m0.2-0.5h0m0-2.2h0m1 0h0m0.1 4h0m0.1-4h0m0 2.4h0m0.1-2h0m0.4 2.3h0m0.2 0.5h0m0.1 1.4h0m0-0.1h0m0.7-2.1h0m0.3 2.3h0m0-1.8h0m0.1 1.4h0m0.2-4h0m0 2.4h0m0.2 0h0m0 0.1h0m0.2-1.1h0m0.2 0.2h0m0.1 1.4h0m0-4.2h0m0.4 4.9h0m0.7 0.8h0m0.8-0.8h0m0.2-3h0m0.1 2.4h0m0.2-1.4h0m0.3-0.3h0m0.1 3h0m0.1-2.9h0m0.3-1.7h0m0 3.7h0m0-2.2h0m0.1 2.4h0m0-2.2h0m0.3-0.3h0m0.3 0.4h0m0.2-2.3h0m0 5.2h0m0.1-1.1h0m0.4 0h0m0.4-0.8h0m0-3.9h0m0.3 1.8h0m0.3 3.9h0m0.1-4.5h0m0.5 1.4h0m0.1 2.6h0m0-4.4h0m0-0.3h0m0.4 5h0m0.2-0.7h0m0.5-0.8h0m0.8 0.8h0m0 0.6h0m0.4-2.7h0m0.2-0.2h0m0.6 0h0m0 0.7h0m0.6 2.5h0m0.2-4.7h0m0 0.7h0m0.7-0.1h0m0.1-1.7h0m0 2.1h0m0.1-0.9h0m0 1.4h0m0.2 3h0m0.2-4.5h0m0.1 0.4h0m0.5 3.4h0m0.5-3.2h0m0 1.8h0m0.1-1.6h0m0.8-0.1h0m0.1 1.6h0m0.1 1.6h0m0.4-4.8h0m0.1 2.5h0m0.2 0.8h0m0.1 0.6h0m0.3 0.7h0m0.3-1.9h0m0.3-2.7h0m0.9 5.4h0m0.2-2.1h0m0.3-1.1h0m0.1 0.2h0m0.5 1.3h0m0.2-2.1h0m0.1 2h0m0-2.5h0m0.2 2h0m0-0.2h0m0.2-0.6h0m0.3-1.2h0m0.2 1.4h0m0.3-1.8h0m0.2 4.7h0m0.2-0.8h0m0.1-0.9h0m0.3-2.9h0m0.3-0.6h0m0.1-0.2h0m0.3 4.8h0m0.1-3.4h0m0.1-1.2h0m0 1.3h0m0.2 3.1h0m0.2 0.3h0m0.3 0.8h0m0-0.5h0m0.3-4.1h0m0.5 4.2h0m0-1.7h0m0.1-1.8h0m0.1 2.6h0m0.4 0.3h0m0.1-2.7h0m0.1 0.4h0m0.5-0.8h0m0.1 3.4h0m0.2-1.5h0m0.1 1.2h0m0.1-3.4h0m0.3 0.1h0m0.2-1.6h0m0.1 3.9h0m0.4-2.7h0m0 3.6h0m0.2-2.1h0m0.1 2.4h0m0.1-3.7h0m0.2-1.3h0m0.1 3.4h0m0.1-2.7h0m0.3 0.5h0m0.4-1h0m0 3.3h0m0.1 2.3h0m0-1.4h0m0-1.6h0m0.1 0.4h0m1.2 2h0m0.5-2.2h0m0.1-2.1h0m0 3.2h0m0.4-2.8h0m0.1 0.2h0m0 1.6h0m0.3 0.2h0m0.6-3.2h0m0.4 0.3h0m0.2 0.6h0m0.1 4.2h0m0.1-5.3h0m0.4 5.9h0m0-1.2h0m0.1-2.6h0m0 2.3h0m0.5 0.1h0m0.2 0h0m0.5-1.2h0m0.5 0.1h0m0.2-2.2h0m0.2-0.8h0m0.1 2.3h0m0.4-2.6h0m0.1 2.6h0m0.1 1h0m0.5 1h0m0-2.9h0m0.1 1.1h0m0.5 2h0m0.1-1.2h0m0.3-3.3h0m0.1 1h0m0 4.4h0m0.1-1.5h0m0.1 1.1h0m0.2-0.4h0m0.1-1.6h0m0.6 0.5h0m0-0.4h0m0.1 2.3h0m0.5-3h0m0.5-2h0m0.3-0.1h0m0.1 1.2h0m0.7 2.6h0m0.3-2h0m0.4 3.3h0m0-5.5h0m0.4 2.8h0m0.1-2h0m0.3-0.6h0m0.8 1.2h0m0.2 0.1h0m0.2-1.5h0m0.4 1.5h0m0 0.8h0m0.5 0.9h0m0.1-3.1h0m0.1 1.2h0m0.2 2.5h0m0.4-1.1h0m0.3 2.5h0m0.3 0h0m0.2-2.1h0m0-1.5h0m0.2 2.7h0m0.1 0.2h0m0.2-0.5h0m0-1.2h0m0.1-1.4h0m0.1 2.7h0m0.1-1.3h0m0.5 0.6h0m0.5-0.3h0m0.1 0.3h0m0.1 0.2h0m0.3 0.1h0m0.3-0.1h0m0.3 1.4h0m0.1 0.6h0m0.1-4.9h0m0.3 1.1h0m0 2.6h0m0.2 1h0m0.5-0.5h0m0.2 0.6h0m0-2.4h0m0.6-3.2h0m0.5 5.6h0m0-3.4h0m0.1 1.2h0m0-2.4h0m0.1 0.1h0m0 2.8h0m0.2-0.3h0m0 0.2h0m0-1.6h0m0.1 2.3h0m0.3-3.5h0m0.8 3.6h0m0.2-0.9h0m0.1-1.5h0m0-0.2h0m0.3-1.1h0m0 3.9h0m0.1-4.1h0m0.4 4.4h0m0.1-3.9h0m0.6 3.8h0m0.2-4.9h0m0 3.7h0m0.4-0.4h0m0.1 1.4h0m0.1 0.8h0m0.5-5h0m0.1 2.2h0m0.2 1.5h0m0.2-4.2h0m0.1 5.5h0m0.4-1.2h0m0.1-4.3h0m0.1 3.9h0m0.2-2.7h0m0.1 3.4h0m0-2h0m0.8 1.7h0m0.2-3.6h0m0 2.8h0m0.3-2.8h0m0.3 3.7h0m0.1-4.7h0m0.5 0.6h0m0.3 0.1h0m0.2 0h0m0.8 1.9h0m0.1 3.4h0m0.1-4.6h0m0 0.5h0m0.1-0.6h0m0.1-0.7h0m0.8 0.3h0m0.5-0.4h0m0.2 4.2h0m0.4-2h0m0.6-2.6h0m0.3 1.1h0m0.7-0.6h0m0.3 0h0m0.1 3.8h0m0.5-4h0m0.3 3.1h0m0.3 1.7h0m0.2-0.2h0m0.3-0.1h0m0.4 0.9h0m0.2-5.3h0m1.7 2.2h0m0.1-1h0m0.4 2.7h0m0.6-4h0m0.1 4.7h0m0.2 0h0m0.4-3.9h0m0.6 4.4h0m0.1-3h0m0.7 1.1h0m0.7-3.5h0m1.6 5.4h0m0-2.6h0m0.3 2.8h0m1.3-2.6h0m0.6-3.2h0m2.1 4.8h0m0.3-0.1h0m0.8-2.3h0m1-2.2h0m1.4 0.1h0m0.3 5.3h0m0.2-1.2h0m0.2-2.5h0m0.9 2.3h0m0.4-1.6h0m0.1 2.3h0m1-0.4h0m0-3.8h0m3.6 4.1h0m0.5-4.2h0m0.7 1.7h0m1.5 3.5h0m2.7-3.5h0m2.7-0.8h0m0.4 2.9h0m2-3.6h0m0.2 2.1h0m0.4 2.5h0m4.1-5.1h0m5.1 1.4h0m3.8 1.1h0m3.1 1.7h0m11.9-0.7h0m7.4-0.7h0m2-3h0m-173.8 7.5h0m0.9 0.8h0m2-1.5h0m2.3 3.5h0m0.8 1h0m0.1-4.8h0m1 0.4h0m2-0.6h0m0.1 4.9h0m1.2-2h0m0.3-1.9h0m1.6-1.1h0m0 5.5h0m1-5h0m0.2-0.2h0m0 0.9h0m4.8 0h0m0 0.1h0m0.7-0.8h0m0.7 2.6h0m0 0.8h0m0.1-3.5h0m0.3 2.3h0m0.2-2h0m0.1-0.7h0m0.7 1.4h0m0.6-1.3h0m0.7 0.5h0m0.5 2.6h0m0.2-3.1h0m0.3 3.1h0m0 0.6h0m0.7 1.2h0m1.5-2.2h0m0.2-1.7h0m1.5 0h0m0.1 2.8h0m0-0.2h0m0-2h0m0.2 3h0m1.4 0.8h0m0.1-2.2h0m0.1 1.9h0m0.2-1.1h0m0.2-3.3h0m0 1.2h0m0.2-1.1h0m0.4 1.7h0m0.3 3h0m0.6-1.4h0m0.1-2.1h0m0.5-0.4h0m0.1 3.9h0m0.4-4.4h0m1.5 3.9h0m0.5-2.6h0m0.1 3.1h0m0.5-4h0m0.4 2.6h0m0.6-0.6h0m0.2 0.7h0m0-0.3h0m0.3-3.5h0m0.3-0.8h0m0.4 5.2h0m0.1-1.4h0m0.1 2h0m0-4.2h0m0.1 3.1h0m0.2 0.5h0m0 0.2h0m0.5-1.4h0m0.1 0.9h0m0.3-3.2h0m0.3-0.3h0m0.1-0.2h0m0.1 1.8h0m0.2 2h0m0.6-1.8h0m0.1 1.8h0m0 0.9h0m0.1-4.5h0m0-1h0m0.1 3.2h0m0.4-0.2h0m0.1 0.4h0m0.6-0.8h0m0.3-2.2h0m0.2 1.2h0m0.1 2.6h0m0.5-1.8h0m0.1-2.7h0m0.1 2.3h0m0.1 3h0m0.1-1.7h0m0.3 2h0m0.4-0.8h0m0.2-1.4h0m0.1 0.9h0m0.1-2.4h0m0.1 1.8h0m0.2-0.8h0m0.3-2.2h0m0.1 3.1h0m0.1 0h0m0 0.2h0m0.3 1.5h0m0.1-1.9h0m0.2-0.6h0m0 2.4h0m0.1 0.5h0m0-4.9h0m0.2 2h0m0.1-1.1h0m0-2h0m0.1 3.3h0m0.2-2h0m0.3-0.8h0m0.2 1.1h0m0.1 2.8h0m0 1.4h0m0.1-0.5h0m0.2-1.5h0m0 0.9h0m0.2-1.6h0m0.1-0.1h0m0.1-0.2h0m0.4 2.6h0m0.1-4.3h0m0.2-0.7h0m0.1 3.4h0m0.2 1.9h0m0-0.1h0m0.3-1.4h0m0-1h0m0.1-3h0m0.2 5.7h0m0-3.2h0m0.2-2.6h0m0.5 1.9h0m0 2.3h0m0.1 1h0m0.1-3.7h0m0.1 1.3h0m0.3 0.2h0m0 2.9h0m0.1-5.1h0m0.5 3h0m0-3.7h0m0.1 4.5h0m0.1-0.2h0m0.2-4.5h0m0.1 0.7h0m0.1 4.7h0m0.1-2.3h0m0.1-2.9h0m0.1 3.1h0m0.1-2.1h0m0.1 4.3h0m0-0.2h0m0-4.5h0m0.3 3.7h0m0.3-1.6h0m0.2 1.2h0m0-3.8h0m0.2 0.4h0m0-0.2h0m0.2 0h0m0 3.9h0m0.3 0.1h0m0.3 0.8h0m0.2-5h0m0.2 5.3h0m0.5-3.9h0m0.1-0.9h0m0 2.3h0m0-0.3h0m0.1 1.4h0m0.1-2.2h0m0-0.6h0m0.1-1.2h0m0 0.6h0m0.4-0.1h0m0.1 5.2h0m0.7-2h0m0.2-1.5h0m0 2.2h0m0.1-2.5h0m0.1 0.6h0m0.2-0.3h0m0.3 2.1h0m0.1-2h0m0.2-0.6h0m0.2-0.3h0m0 3.4h0m0.1-0.1h0m0-2.2h0m0.1 2.8h0m0.1-2.3h0m0.2 0.2h0m0.1-0.3h0m0-0.9h0m0.1 3.6h0m0-3.1h0m0.1 0.3h0m0-2.3h0m0.1 1.2h0m0.2 1h0m0 1.5h0m0.1 0.8h0m0.5-2.3h0m0.2 1.5h0m0.5-0.9h0m0.3-1.9h0m0.4 1.9h0m0.1-0.9h0m0.1 0.9h0m0.1-3.3h0m0.2 5.1h0m0.1-0.3h0m0.1 0.9h0m0.1-5.1h0m0.1 5.1h0m0 0.1h0m0.3-4.5h0m0.2 2.2h0m0 2.2h0m0.1-5.8h0m0 5.7h0m0.1-0.5h0m0.5-3.3h0m0.3 1.3h0m0-1.5h0m0.3 3.3h0m0.1-1.1h0m0.4 0.5h0m0.1-3.3h0m0.3 2.2h0m0-2.4h0m0 0.2h0m0.4 3.1h0m0.1 1.3h0m0.1-2.9h0m0 2.9h0m0-1.9h0m0.2-0.7h0m0 1.8h0m0.4-2.5h0m0.2 2.3h0m0-4.3h0m0.3 4.1h0m0.1-0.7h0m0-3.2h0m0.1 2.9h0m0.1 2.1h0m0.1-3.7h0m0.1 2h0m0-0.3h0m0.1-0.4h0m0.1 0.4h0m0-3.3h0m0.2 1.6h0m0.7 1.7h0m0.1 1.2h0m0.3-1.5h0m0 0.7h0m0.2-0.9h0m0.1 2.3h0m0.7-1.1h0m0-0.1h0m0.2-2.5h0m0.5 1.5h0m0.1 0.6h0m0.1-3.2h0m0 1h0m0.1 0.1h0m0.4-0.2h0m0.1 4.2h0m0.3-3.7h0m0.1 0.5h0m0 0.1h0m0.4 3.2h0m0.2-3.6h0m0.5 0.9h0m0 0.3h0m0.2-0.4h0m0.6 1.9h0m0.1-1.6h0m0.1-2.4h0m0 2.7h0m0.1 1.3h0m0.2-3.3h0m0.2 1.8h0m0.1 1.2h0m0.1-1h0m0.5-2.9h0m0.4 0.8h0m0 0.4h0m0 4h0m0.1-0.8h0m0.1-4.5h0m0.3 4.1h0m0.5-3.2h0m0.2 0.5h0m0 0.9h0m0.3 0.4h0m0.4 1.5h0m0.1 0.1h0m0.4-2h0m0.1 1.9h0m0-2.5h0m0.3-0.2h0m0.2-0.2h0m0.1-1.2h0m0.1-0.3h0m0.1 1.9h0m0.1 0h0m0.6 3.2h0m0.1-1.7h0m0.1 0.4h0m0.2-3.9h0m0.1 5.3h0m0.1-0.7h0m0.2-3.1h0m0 2.1h0m0.2-0.5h0m0.2-2.4h0m0.1 1.1h0m0 1.5h0m0.1 2.3h0m0.2-3h0m0.3-2.7h0m0.4 0.5h0m0.1 0.7h0m0.1 3.2h0m0.4 0.3h0m0-4.2h0m0 0.1h0m0.6 0.7h0m0.2 4.5h0m0.2-0.6h0m0.3-2.7h0m0.1 3.1h0m0.1-2.6h0m0.1 0.3h0m0.6 1.1h0m0.1-0.3h0m0 0.1h0m0.3 1.6h0m0.3-2.4h0m0.3-0.4h0m0.1 1.2h0m0.1-0.1h0m0.2 0.2h0m0.1 0h0m0.1 0.5h0m0.3-3.8h0m0.1 2.7h0m0.1-0.6h0m0.3-1h0m0.2 1.1h0m0 1.6h0m0.1-4h0m0.1 1.6h0m0.6 3.3h0m0-1.2h0m0-1.3h0m0.4-2.6h0m0-0.6h0m0 2.2h0m0.2-0.4h0m0.1-1.3h0m0 0.5h0m0.6 2.9h0m0.1-1.5h0m0.8 3.3h0m0.2-0.2h0m0.2-4.5h0m0.5 3.6h0m0.3-3.4h0m0.3 1h0m0.1 2.7h0m0.1-0.3h0m0.7-4.2h0m0.1 0.1h0m0.2 5.3h0m1.2-5.6h0m0.2 4.6h0m0.1-0.9h0m0.1-2.8h0m0 2.9h0m0.3-4h0m0 0.7h0m0.1 2.2h0m0.1 2.2h0m0.2-3.7h0m0.7 1.9h0m0.2 0.2h0m0-2.2h0m0.1 1.5h0m0.1 1.2h0m0.3 0.5h0m0.1-3.3h0m0.2 0h0m0 0.1h0m0.4-1.1h0m0.2 1h0m0.5 0.8h0m0-1.8h0m0 0.7h0m0.6 2.8h0m0 0.4h0m0-3.4h0m0.1 3h0m0.2 0.7h0m0.5 0.9h0m0-3.3h0m0.1 0.7h0m0.1 1.5h0m0.4-1.2h0m0-1h0m1.1 3.8h0m0.2-1.3h0m0.1-1.9h0m0.2 2.4h0m0.8-0.1h0m0.1-0.8h0m0 0.2h0m0.6-3.7h0m0.2 3.8h0m0 1.4h0m0.7-0.8h0m0.5-3.8h0m0.5 1.7h0m0.3-1.9h0m0-0.1h0m0.2 3.3h0m0.2-2.1h0m0 0.7h0m0.2 1.4h0m0.1 0.1h0m0.6-2.5h0m1.4 1.4h0m0.5-0.9h0m0.5 2.1h0m0.1-4h0m0.1 1.6h0m0.5-1.3h0m0.1-0.3h0m0.9 2.1h0m2-2.3h0m0.5 4.3h0m0 0h0m0.5-0.2h0m1.5-0.6h0m0.3-1.4h0m1-1.3h0m1.6 1.3h0m0.1-0.4h0m0.3 0.6h0m3.4 3.3h0m0.8-1.9h0m0.1-1.8h0m1.7 1.3h0m1 1.3h0m0.7-1.9h0m0.8-1.9h0m0.1 0.6h0m0.8-0.9h0m0.4 4.6h0m0.4-2.5h0m0.8-2.7h0m0.1 4.3h0m0.9-1.8h0m1.6 1h0m0.7-2.1h0m0.8-0.5h0m0.9-0.1h0m2.1 4.8h0m0.9-0.9h0m5.4-3.3h0m1.9 0.6h0m5.1 0.8h0m3.4-2h0m0.8-0.6h0m1.7 0.2h0m3.6 2.8h0m2.7 0h0m0.5-0.9h0m6.7 0.4h0m3.9 2.1h0m-196.3 5.5h0m8.9-2.5h0m6.5 0.5h0m1.7 2.8h0m2.8-3.4h0m0.7-0.5h0m0.7 2.4h0m2.7 1h0m1.2 0.4h0m1.8-1.4h0m0.1 0.9h0m1.9-1.3h0m0.3 1h0m0.7 1.2h0m1.5-3.3h0m0.7 1.5h0m0.1 1.7h0m0.6-3.4h0m0.1 0.5h0m0.3 0.1h0m0.3 1.5h0m0.3-1.5h0m0.2-1.1h0m0.6 3.6h0m0.2-3.7h0m1.1 2.1h0m1.8-1.5h0m0.4 1.1h0m1-1.1h0m0.3 3.6h0m0.1-1.4h0m0.3-2.2h0m0.1 3.1h0m0.1-4.7h0m0.4 0.7h0m0.2 3.6h0m0.4 0.2h0m0.4 0.1h0m0-3.9h0m0.1 2.7h0m0.2-3h0m0.1-0.4h0m0 0.8h0m0.2 1.3h0m0.1 2.6h0m0 0h0m0.4-0.7h0m0.1 1.1h0m0.2-0.7h0m0-0.9h0m1-0.4h0m0 0.6h0m0.8-2h0m0.1 2.8h0m0.2-3.9h0m0.6 4.2h0m0-2.9h0m1-1.7h0m0.2 1.9h0m0.1-2.2h0m0.4 2.1h0m0 1.3h0m0.2 0h0m0.2-2.7h0m1.2 4.6h0m0.2-5.3h0m0.5 1.4h0m0-0.3h0m0.1 2.5h0m0.4-1.3h0m0.1-1.9h0m0.1 2.4h0m0.2 2.5h0m0.2-1.8h0m0.2-2.9h0m0.2 2.8h0m0.2 1.8h0m0-0.5h0m0.4 0.8h0m0-2.1h0m0.1-1.7h0m0.2 2.6h0m0-3.3h0m0.1-0.2h0m0.1 3.9h0m0.4-3.2h0m0.2 3.7h0m0.1 0h0m0.1-5.4h0m0 0.5h0m0.1 5h0m0.6-0.3h0m0.3-2.4h0m0.5 0h0m0.4 1.1h0m0.1 0.8h0m0.2-3.7h0m0.1 3.7h0m0.2-0.5h0m0.1-3.6h0m0 1.9h0m0.1 1.2h0m0.9-2.4h0m0-1h0m0.3 0.6h0m0.2 4.8h0m0-1.8h0m0.1 0.1h0m0 1.7h0m0 0.1h0m0.3-4.6h0m0.1 3.2h0m0.2-4.3h0m0.1 3.4h0m0 1.6h0m0.4-4.8h0m0 2h0m0.5-0.8h0m0.2-1.2h0m0.5 0.9h0m0.3 4.2h0m0.1-4.8h0m0.2 2.5h0m0.3-0.5h0m0.2-0.7h0m0 2.9h0m0.4-0.1h0m0-3.5h0m0.1 2.4h0m0.2-1.5h0m0-1.1h0m0.3 2.6h0m0-0.4h0m0.2-3h0m0.1 2.7h0m0.1 3h0m0-5.7h0m0.1 0.1h0m0 2.7h0m0.1-2.3h0m0 5h0m0.1-1.3h0m0.1-0.9h0m0.1-1.5h0m0.3-1.5h0m0.1 2.6h0m0.3-1.1h0m0.1 1h0m0-2.1h0m0.1 0.8h0m0.1 4.1h0m0.1-3.5h0m0 1.4h0m0.1-0.3h0m0.2-2.8h0m0.1 2.5h0m0.5-1.9h0m0.2 1.1h0m0-1.1h0m0.3 1.5h0m0.1-1.9h0m0.2 0.9h0m0.4 2.6h0m0.2-3h0m0.1 2.7h0m0-0.9h0m0.1 1.4h0m0.2-1.9h0m0.1-2.2h0m0.2 1.2h0m0 0.6h0m0.1-1.3h0m0.1 3.3h0m0.1-4.3h0m0.1 1h0m0.1 4.8h0m0-4.5h0m0.4-0.9h0m0 2.5h0m0.1-1.9h0m0.2 0.8h0m0.2 0.6h0m0-1.9h0m0.1 4.8h0m0.1-1.1h0m0.2 1.1h0m0.2-4.2h0m0.1 2.7h0m0.1 1h0m0.2-0.5h0m0-1.5h0m0.2 2.8h0m0.1-5.2h0m0.1 2.2h0m0.4 3.2h0m0.3-1.8h0m0.3-0.7h0m0 0.8h0m0 0h0m0.2-3.2h0m0.1 4.3h0m0.1-0.6h0m0.1-0.5h0m0.1 0.8h0m0.1 0.9h0m0 0.1h0m0.3-1.3h0m0 1.2h0m0.5-3.5h0m0 0.9h0m0.2 1.9h0m0-2.8h0m0 1.3h0m0.2-2.5h0m0 1.9h0m0.4-1.3h0m0.1 1.4h0m0.3-1.3h0m0.1-1h0m0.2 1.1h0m0.2 1.7h0m0-0.3h0m0.2 0.7h0m0.2-0.9h0m0 2.5h0m0.2-4.6h0m0.1 2.4h0m0 1.7h0m0.2-0.5h0m0.1-0.6h0m0-1.4h0m0.2-1.9h0m0.1 0.8h0m0.1 0h0m0 3.2h0m0.1-3h0m0 3.8h0m0.1-3.3h0m0.3 1.5h0m0-2.1h0m0.2 0.4h0m0-0.7h0m0.1 4h0m0-3.5h0m0.1-0.3h0m0 3.5h0m0.2-2.7h0m0.1 2.8h0m0.3-4.7h0m0.6 0h0m0.1 0.5h0m0.1-0.7h0m0.3 0.5h0m0.3 0.2h0m0.1 3.5h0m0-2.3h0m0.1 2.3h0m0.1 0h0m0.3-3.5h0m0.1 3.3h0m0 0.7h0m0.1-2.2h0m0-1.9h0m0 4.6h0m0-3.8h0m0.1 3.3h0m0.5-0.7h0m0-0.6h0m0.1-1.9h0m0.2 0.3h0m0.1 3.4h0m0.1-3.2h0m0.1 0.3h0m0-0.2h0m0 1.3h0m0.3-1.2h0m0 0.2h0m0.2 3.1h0m0.4-4.2h0m0 4.3h0m0.5-2.3h0m0.1-0.7h0m0 1.4h0m0.2-3.9h0m0.1 4.1h0m0.1-2.5h0m0.1 2.3h0m0.1-2.7h0m0 3h0m0-2.4h0m0.1-0.8h0m0 2.4h0m0 1.7h0m0.2-3h0m0-1.2h0m0.1 4.3h0m0.3 0.4h0m0-3.7h0m0.2 0.2h0m0.1-1.5h0m0 0.7h0m0 3h0m0-0.1h0m0.1-0.7h0m0.1-3.7h0m0.4 4h0m0.1 0.1h0m0.3-2.9h0m0.1-0.5h0m0 0.6h0m0.1 0h0m0 1.4h0m0.4 0.5h0m0.2 1.3h0m0.2-0.9h0m0.1-0.3h0m0.2 2.2h0m0.1-2.3h0m0.4-0.6h0m0.1 2.3h0m0.1-3.4h0m0.1 3.5h0m0.2-0.3h0m0 0.6h0m0.3-4h0m0.1 2.8h0m0.2-0.6h0m0.1-1.3h0m0 0h0m0.1 0.5h0m0.1 0.9h0m0.2 0.9h0m0.2-2.2h0m0.1-2h0m0 4.4h0m0.2-2.6h0m0.1-1.8h0m0.7 3.3h0m0.1-3.2h0m0 2.9h0m0.2-2.4h0m0 2.3h0m0-2.9h0m0.1 0.7h0m0.2-1.1h0m0.3 0.4h0m0.1 2.2h0m0 3.3h0m0.1-2.6h0m0 0.6h0m0.3-0.1h0m0 0.1h0m0.4-0.4h0m0.4-1.7h0m0.1 2.5h0m0.2-3.2h0m0.1 0.8h0m0.3 3.7h0m0.2-5h0m0 2.3h0m0.1 2.7h0m0.1-2.4h0m0.2 0.3h0m0 2.5h0m0.1-3.7h0m0-1.6h0m0 0.7h0m0-0.3h0m0.1 3.5h0m0.1-4.1h0m0.1-0.2h0m0.1 0.4h0m0.4 1.3h0m0.1 3.3h0m0.3-0.1h0m0-3.7h0m0 2.1h0m0.2 1.4h0m0.1-1.3h0m0 0.6h0m0.2-0.2h0m0-3.4h0m0.3 3h0m0.3-1.1h0m0 0.4h0m0 2.6h0m0.4-2.9h0m0 1.4h0m0.6-1.3h0m0 0.5h0m0-1.4h0m0 0.5h0m0.2-0.1h0m0.1 1.5h0m0-3.4h0m0 0.7h0m0.2 3.1h0m0.1-2.8h0m0.3 2.9h0m0-0.2h0m0.2-0.4h0m0.2 2.1h0m0.1-0.3h0m0.3-1.2h0m0.1-4.3h0m0 0.7h0m0.2 0.7h0m0.3 3.8h0m0-1.4h0m0 0.3h0m0.3-1.1h0m0.1-0.8h0m0.2-0.5h0m0.1-0.8h0m0.1 0.3h0m0.2 2.8h0m0.3 1.3h0m0-3.7h0m0.1 2h0m0.1-3.2h0m0 1.8h0m0.6 3.3h0m0.1-0.2h0m0.3-2.1h0m0.1-2.7h0m0.3 3.5h0m0.1 0.8h0m0.3-3h0m0 2.8h0m0.1-2.4h0m0.2 2.8h0m0.2-1.7h0m0.1-3.1h0m0.3 0.4h0m0.1 4.4h0m0.1 0.6h0m0.1-4.1h0m0.3 2.6h0m0.3 1.2h0m0.8-2h0m0-1.2h0m0.1 0.9h0m0.3-0.4h0m0.1 0.8h0m0.2-0.7h0m0.2 1.1h0m0 0h0m0.1-2h0m0 2.5h0m0.2-2.2h0m0.1 1.7h0m0 0.6h0m0 0.6h0m0.3-4.2h0m0.2 3.8h0m0.3 0.8h0m0-1.2h0m0.3-0.9h0m0.1-2.9h0m0.1 5h0m0.4-3.2h0m0.1-0.1h0m0.1 2.2h0m0.5-1.6h0m0.2 1.3h0m0.1 0h0m0.1-3.9h0m0.2 0.2h0m0 1h0m0-0.3h0m0.3 0.8h0m0.3 2.5h0m0.1 1.7h0m0.4-4.7h0m0 2.8h0m0-3.6h0m0.4 3h0m0.2-1.8h0m0.1 1.8h0m0.3-2.3h0m0.4 1h0m0.2 0.9h0m0.1 0h0m0.1-1.8h0m0-0.5h0m0.2-0.8h0m0 5.4h0m0.3-0.1h0m0-0.2h0m0-2.3h0m0.1 2.2h0m0-2.9h0m0.1-1.6h0m0.1 2.7h0m0.1-2.4h0m0.1 0.2h0m0.1 1.5h0m0.1-1.8h0m0.2 0.9h0m0.4-0.8h0m0 3.3h0m0.1-1.5h0m1 1h0m0-0.4h0m0.3 0.3h0m0.3-1h0m0.1 2.7h0m0.3-0.4h0m0.1-1.4h0m0.3-2.6h0m0 4.4h0m0.1-3.2h0m0.6 4h0m0.4-1.7h0m0.4-3.9h0m0.5 0h0m0.3 3.7h0m0.4-2.5h0m0.1 0.9h0m0.3 1.4h0m0.4-1.2h0m0.5 0.4h0m0.3 2.3h0m0-0.2h0m0.1-2.1h0m0.1-1.1h0m0.2 2.3h0m0.8 0.6h0m0.2-3.5h0m0.4 1.3h0m0-0.4h0m0.5 1.3h0m0.3 0.8h0m0-3.9h0m0.5 5h0m0-1.6h0m0.9-1.1h0m0.6 1.1h0m0.4-1.1h0m0.2 0.2h0m0.1-1.8h0m0 0.4h0m0.3-0.3h0m0.4 4.5h0m0.4-1.4h0m0.1-2.6h0m0.1 3.8h0m1.4-3.8h0m0.3 1.6h0m0.1-0.9h0m0.1-1.9h0m0.3 5.4h0m0.1-3.4h0m0.5 3.1h0m0.4-1.8h0m0.5-3.4h0m0.3 1.3h0m0.1-0.8h0m0.4 3.2h0m0.2-1.5h0m0.2 0.3h0m0.1 2.2h0m0.1 0.3h0m0.2-4.9h0m0.8 4h0m0.4-4.4h0m0.1 3.1h0m0.1-2.3h0m0.4 1.8h0m0.6 3.1h0m0.5-4.8h0m1 0.2h0m0.4 1.5h0m0.1-2.8h0m1.9 2.9h0m0.2-2.4h0m0.9 0.9h0m1.1-1.2h0m0.3 4.9h0m0.6-2.8h0m0.7-0.1h0m0.2 1.6h0m1.1 0.2h0m0.2 1.7h0m1.9-3.9h0m0.5 1.7h0m0.3 0.9h0m0 0.7h0m1.2-1h0m0.2-1.1h0m2.6-1.7h0m1.2 1.6h0m2.4 0h0m1.8 0h0m0.5-1.9h0m2.5 2.4h0m0.5-2.6h0m2.1 0.6h0m6.6 2.9h0m1-1h0m0.6 2h0m3.2-2.3h0m1.5-1.6h0m6.3 1.1h0m9.5 0h0m1.7 3.3h0m42.9-2.6h0m-231.6 4.7h0m6.6-1.5h0m4.6 5.3h0m1.6-2.3h0m3.7-1.1h0m1.6-0.8h0m3-0.7h0m1.4 2.3h0m0.6-1.2h0m0.1 2.3h0m3-2.1h0m1 0.5h0m0-0.3h0m0.7 3.1h0m0.1-3.5h0m0.3 3.9h0m1.1-5.5h0m2.1 2.9h0m0.8-0.9h0m0.2 1.7h0m0.1 0.2h0m0.6-3h0m0.5 3.6h0m0.2 0.4h0m0.4-3.4h0m0.1 3.8h0m0.2-5.3h0m0.3 4h0m0 0.9h0m0.3-1.2h0m0 0h0m0.7-0.2h0m0.6-0.8h0m0.1 2.9h0m0.7-0.4h0m0.1-1.6h0m0.1-0.7h0m0.5 0.8h0m0.1-3.4h0m0.7 0.1h0m0 3.8h0m0-3.1h0m0.5 2.9h0m0 0.7h0m0.2-3.5h0m0.2-1.1h0m0.1 5.2h0m0.1-3.4h0m0 1.6h0m0.1-1.3h0m0.1 2.8h0m0.1-3.9h0m0 0.9h0m0.5 3.1h0m0.5-4.9h0m0.2 5.2h0m0.1-2h0m0.5-3.3h0m1.1 4.4h0m0.2-3h0m0 3.6h0m0.6 0.1h0m0.8-0.2h0m0.1-4.1h0m0.2 2.8h0m0.2-0.8h0m0.2-3h0m0.1 1.7h0m0.3 3.4h0m0-3.8h0m0.2-0.7h0m0.3 4.2h0m0.2-1.1h0m0 0.4h0m0.1-0.5h0m0.3-1.9h0m0.1-1.2h0m0 3.7h0m0 0.5h0m0.1-3.4h0m0.1 0.3h0m0.1-1.7h0m0.2 3.5h0m0.1 1.4h0m0-1.8h0m0.1-0.3h0m0.2 1.8h0m0-4.5h0m0.1 1.1h0m0.1 3.3h0m0.4-3.2h0m0 3.5h0m0.5-4.9h0m0 0.7h0m0.1 4.6h0m0.2-0.4h0m0.2-4.8h0m0 3.8h0m0.1 1.6h0m0 0.1h0m0.2-3.2h0m0-1.1h0m0-1.2h0m0.2 5.8h0m0.4-3.5h0m0 1.8h0m0.2 0.4h0m0.5-3.7h0m0.2 4.7h0m0-5h0m0.2 4.4h0m0.1-0.4h0m0.5-1.9h0m0.1 1.4h0m0.1-3h0m0.2 1.1h0m0 0.2h0m0.2-0.9h0m0.1 1h0m0.3-1.1h0m0.1 0h0m0.1 0.8h0m0.5 1h0m0.3 1.2h0m0.3-3.2h0m0.3 3.6h0m0.1-0.5h0m0.3-3.9h0m0.2 1.3h0m0.1 0.2h0m0.3-1.3h0m0.5 3.3h0m0-2.2h0m0-1.1h0m0 2.1h0m0.1 0.5h0m0 2.6h0m0.2 0h0m0-3h0m0 2.2h0m0-3h0m0.2 3.1h0m0.3-1.3h0m0 1h0m0.2-2.1h0m0.1 2.2h0m0-0.8h0m0.1-0.5h0m0.1-3.3h0m0.2 5.3h0m0.3-0.8h0m0.1-3.5h0m0.4 2.1h0m0.3 2.3h0m0.1-0.5h0m0-1.9h0m0 0.9h0m0.1-2.8h0m0.1 0.9h0m0-1.5h0m0 2.3h0m0.2 2.5h0m0.2-2.5h0m0.2 0.7h0m0.1-2.9h0m0.1 3h0m0.2-2.5h0m0.2-0.3h0m0-0.9h0m0.1 0h0m0 1h0m0.1 2h0m0.1-2.6h0m0.1 4.7h0m0.1-1h0m0.1-3.2h0m0.2 0.9h0m0-0.4h0m0.3 2h0m0 1.3h0m0.4 0.5h0m0.1-0.8h0m0.1-1h0m0.2-2.8h0m0.1 4h0m0-0.7h0m0 0.7h0m0.1 0h0m0.1-3.4h0m0.3 1.5h0m0-0.9h0m0.1-1.6h0m0.2 1.3h0m0.1 2.3h0m0.1-2.5h0m0.1-0.9h0m0.2-0.1h0m0.2 4.1h0m0.1 1h0m0.2-4.5h0m0-0.5h0m0.1 5.3h0m0.1-4.3h0m0.1 2.3h0m0 0.4h0m0.1-3.1h0m0-0.3h0m0.2 1.3h0m0.2-1.9h0m0.1 0.7h0m0-1h0m0.1 4h0m0.1-3.8h0m0 3.1h0m0.1 2.5h0m0.2-3.9h0m0.4 1.4h0m0-2h0m0 4h0m0.1-5.2h0m0 3.2h0m0.1-3.2h0m0.7 5.4h0m0-4.5h0m0.4 4.2h0m0.1-0.5h0m0 1.2h0m0-4.1h0m0.3 3.7h0m0-4.4h0m0.2 2.5h0m0-2.6h0m0.1 0.6h0m0.2 2h0m0-0.5h0m0 1.4h0m0.2-4.2h0m0 2.5h0m0 0.4h0m0.1 0.5h0m0.1 0h0m0 2.2h0m0.2-0.1h0m0.1-4.7h0m0.1 4.8h0m0.1-1.7h0m0-3.8h0m0.1 4.9h0m0-4.3h0m0 3.5h0m0.1 1.4h0m0.1-5.9h0m0.1 1h0m0.3 3h0m0-4h0m0.1 4.2h0m0.1-3.6h0m0.1 2.1h0m0.1-1.7h0m0-0.1h0m0.2 0.9h0m0 2.8h0m0.3-1.7h0m0-0.1h0m0-0.2h0m0.1 2.8h0m0-0.3h0m0.1-4.7h0m0 0.3h0m0 0.9h0m0.1 1.4h0m0 2.2h0m0 0.7h0m0-1.8h0m0.1-3.6h0m0 3.3h0m0.1-3.4h0m0.2 2h0m0 2.7h0m0.1-5.1h0m0 3.8h0m0-3.6h0m0 3.4h0m0.2-0.6h0m0.2-0.1h0m0.1 0.7h0m0.1-3h0m0.2 3.9h0m0.1 1.4h0m0-5.9h0m0 0.5h0m0.2 1.3h0m0.1 0.2h0m0 2.3h0m0.2 0.9h0m0.1-2h0m0-2.3h0m0.1 0.3h0m0.4 3.6h0m0.1-0.1h0m0-2.6h0m0.1 2.1h0m0.1-0.5h0m0-2.3h0m0 1.2h0m0.1-1.9h0m0.1 0h0m0.2 0h0m0 2.1h0m0-1.2h0m0.1 0.4h0m0-1.4h0m0.1 5h0m0-3.1h0m0.3-0.1h0m0 1.1h0m0 0.4h0m0-0.7h0m0.1 2.7h0m0.2-5.1h0m0.1 0.1h0m0 0.7h0m0.1 2.5h0m0-0.2h0m0.1-0.6h0m0.1-3.2h0m0 5.4h0m0.2-3.5h0m0.1 3.3h0m0.1-4.3h0m0.2 4.8h0m0.2-3.3h0m0-1.2h0m0.1 1.5h0m0.1 2.5h0m0.1-2.1h0m0.2-0.2h0m0.4 0.4h0m0 2.4h0m0.1-0.4h0m0.1-4.5h0m0.1 0h0m0 2.2h0m0 1.5h0m0.3 0h0m0.1-2h0m0.3-0.5h0m0.2-1.2h0m0.1 0.2h0m0.1 4.7h0m0-3h0m0 0.6h0m0.1-0.5h0m0.1-2.6h0m0 4.4h0m0.1-1h0m0.1 0.3h0m0.1-1.1h0m0 0.2h0m0.1 2.2h0m0 0.6h0m0.1-3.7h0m0 1.8h0m0.1-0.5h0m0.2-0.8h0m0.2 1.2h0m0.2-1.1h0m0-1.6h0m0.1 3.5h0m0.1-1.7h0m0.3-1.3h0m0 2.1h0m0.2-2.9h0m0.2 4.9h0m0-5.3h0m0.1 4.9h0m0.1-3.3h0m0-1.6h0m0 1.2h0m0-0.6h0m0.3 3.1h0m0.1-2.3h0m0 2.5h0m0.1-3.6h0m0.2 1.8h0m0.1 1.6h0m0-3.2h0m0 1.2h0m0.1 0.6h0m0-1.5h0m0 2.1h0m0.1-0.2h0m0 0.5h0m0.2-1.8h0m0.1 2.5h0m0.1-2.3h0m0.2 1h0m0-1.4h0m0 0h0m0.1 0.2h0m0.1 0.6h0m0.1 3.4h0m0-3.9h0m0.1 2.7h0m0.2-2.4h0m0.2-0.5h0m0.2 0.1h0m0.3 2.9h0m0.1-1.4h0m0.2-1.7h0m0 3.9h0m0.1-1.1h0m0 1.4h0m0-0.7h0m0-0.8h0m0.1-0.1h0m0-2.5h0m0.3 2.8h0m0.1-3.3h0m0 1.9h0m0.1-0.1h0m0.3-3h0m0.1 3.7h0m0 0.2h0m0.5-1.1h0m0 2.6h0m0.1-0.1h0m0.1-3.5h0m0.3-0.1h0m0.1 4h0m0-0.5h0m0-3.9h0m0.1 4.5h0m0-2.9h0m0.1-2.8h0m0.3 1.9h0m0.2-0.2h0m0.1-0.2h0m0 3h0m0.2 0.8h0m0.3-4.8h0m0.1 4.3h0m0-0.4h0m0.1-3.1h0m0.1 2.6h0m0-3.1h0m0.1 2.8h0m0.6-2.9h0m0 2.3h0m0.1 0.3h0m0.1 1h0m0.1 0.3h0m0.2-2.1h0m0-0.4h0m0.4-2.1h0m0 2.5h0m0.1 0.6h0m0-2.7h0m0.3 3.7h0m0.1-3.3h0m0.1 2.6h0m0.1 2.2h0m0.1 0h0m0.2-4.2h0m0 4.3h0m0.1-3h0m0.5 0.8h0m0.2 0.7h0m0-1.2h0m0-2.6h0m0.1 1.3h0m0 1.3h0m0.1 1.4h0m0.1-3.7h0m0 1.1h0m0 3.9h0m0-3.9h0m0.2 0.2h0m0.1-1.1h0m0.3 3.2h0m0.1-4.3h0m0.2 0.2h0m0.4 3.1h0m0-2.2h0m0-0.2h0m0.2 1.6h0m0.1 0.1h0m0 0.2h0m0.4 0.2h0m0.1-1.5h0m0.5-0.3h0m0.2 3.8h0m0.2-0.6h0m0.3 0.2h0m0-1.9h0m0.1-0.8h0m0.2 0.4h0m0-0.3h0m0.1 0.9h0m0.3 1.5h0m0.1-4.2h0m0.1 1h0m0.2 1.1h0m0-0.7h0m0.1-0.9h0m0 3.9h0m0.2-0.7h0m0.2 0.8h0m0.1-3.4h0m0.1-1h0m0.1 0.7h0m0 0.1h0m0.2 0.2h0m0.1-0.9h0m0 1.9h0m0.3 0.6h0m0.2-1.4h0m0.7-1.4h0m0.2 3.8h0m0.3-0.8h0m0-1.4h0m0-0.6h0m0.1 4.5h0m0-4.4h0m0.2 2h0m0.1 1.7h0m0.1-3.6h0m0.5-1h0m0 4.5h0m0.1-0.3h0m0.4-0.1h0m0.4-2.5h0m0.1-0.2h0m0.1 2.3h0m0.2-1.1h0m0.2-0.8h0m0.1 1.2h0m0.1 2.4h0m0.2-1.5h0m0.1-2.8h0m0-0.5h0m0 1.3h0m0.1 3.2h0m0-3.6h0m0.1 0.3h0m0 2.1h0m0.2 0.2h0m0.1-3.9h0m0.6 2.7h0m0.2-1.3h0m0.1 1.8h0m0-3.4h0m0.2 2.6h0m0 1.5h0m0.1 0.7h0m0-2.7h0m0-1.5h0m0.1 0.7h0m0.5 3.9h0m0-3.1h0m0.1 0.2h0m0-0.5h0m0 0.5h0m0.2 1.6h0m0.1-3.5h0m0.1-0.6h0m0 5.6h0m0.4-4h0m0 2.9h0m0-3.6h0m0 3h0m0 1.6h0m0.2-4.3h0m0.3 0.4h0m0-0.6h0m0 4.6h0m0.2-4.3h0m0.3 2.8h0m0.1 1.6h0m0-4.6h0m0.1 2h0m0.1-1.9h0m0.3 3.3h0m0.1 0.8h0m0.1-0.5h0m0-4.4h0m0.1 2.8h0m0.2-1.9h0m0.5-1.1h0m0 4.3h0m0.1 1.2h0m0.1-1.1h0m0.2-1.2h0m0.1 0.8h0m0.3-3.7h0m0.2 4.3h0m0.1-4.9h0m0.2 4.4h0m0.2-3.3h0m0.1 3.3h0m0.2 0.7h0m0.1-3h0m0.1 3.8h0m0.2-3.8h0m0.1 2.5h0m0-4h0m0.3 2.1h0m0.2-2h0m0.5 1.3h0m0 1.5h0m0-1h0m0.1 1.5h0m0.2-3.6h0m0 1.6h0m0.2-0.4h0m0 0.5h0m0.1-0.1h0m0.6 2.5h0m0.2-0.3h0m0-1.6h0m0.1-1.3h0m0.1 1.3h0m0.2-1h0m0.4 1.7h0m0.1-1.2h0m0.2 2.2h0m0.5-3.9h0m0.2 4.9h0m0.4 0.2h0m0.1-2.2h0m0-1.2h0m0.4 1.1h0m0.2-1.8h0m0.7 3h0m0-1.4h0m0.4 2.2h0m0.6-1.7h0m0.1 1.2h0m0.2 1.2h0m0-1.6h0m0.1 0.2h0m0.4 0h0m0.3-0.2h0m0.7 1.1h0m0-4.1h0m0.2 2.2h0m0.2 1.3h0m0.1-3h0m0.3 1.7h0m0.3-0.8h0m1.3 2.8h0m0.2-0.2h0m0.2-1.8h0m0.2-2.8h0m0.4 1h0m0 2.2h0m0.2 0.5h0m2.1 1.6h0m0.4-0.3h0m0.4-4.1h0m0.4-0.6h0m0 1h0m1.5 1.7h0m0.3-1.9h0m0.5 4.1h0m0.9-0.1h0m0.1-3.3h0m1.9-0.3h0m1.8 2h0m0-1.4h0m0.4-0.7h0m0.2 2.1h0m0.2 1.6h0m2-2.6h0m0.2-1.5h0m0.5-0.6h0m0.4 3h0m0.3-1.9h0m1.3 2.9h0m0-2.9h0m0.2-0.4h0m0.1 2.6h0m1.3-3.8h0m1.7 1.5h0m0.6 3.8h0m0.1-4.7h0m0.1-0.3h0m0.6 4.4h0m0.8-2.6h0m0.8-0.9h0m0.2 3.2h0m1-0.7h0m1-4.2h0m0.7 2.4h0m0.7 1.3h0m0 1.5h0m0.1-4.9h0m0.6 2h0m3.8 1h0m1.6-0.7h0m1-0.8h0m1.6 0.7h0m0.8 2h0m0.8-2.5h0m3.7 3.3h0m3.2 0h0m10.4-5.3h0m4 4.1h0m0.3 1.5h0m2-2.2h0m0.8 0.4h0m0.8-2.4h0m-197.4 8.6h0m14.1-3.5h0m6.6 2.8h0m1.7-0.7h0m1 1.6h0m0.5-3.2h0m0.3-1.1h0m3.3 1.7h0m2.7 2.4h0m0.4-1.6h0m0.8-0.4h0m3.3-0.3h0m1.6 0.3h0m0.3 1.2h0m0 2h0m1.9-2.5h0m0.5 0.6h0m0.3 1.6h0m2.1-3.5h0m1.9-1.1h0m0 1.4h0m1.4 2.1h0m0.2 2.1h0m0.1-0.7h0m0.5-0.2h0m0.1-4.7h0m0.1 2.7h0m0.3 2.4h0m1.4-5h0m0.8 0.2h0m0 5.1h0m0.1-2.2h0m0-1.2h0m0.1-1.7h0m0.5 5.2h0m0.3-4.3h0m1 3.1h0m0.4-0.4h0m0.2-1.1h0m0-3.2h0m0.2 3h0m0.3-0.5h0m0.1 0.5h0m0.6-2.6h0m0-0.2h0m0.4 2.4h0m0.1-2.3h0m0.5 0.7h0m0.9 2.5h0m0.1-1.6h0m0.1 1.1h0m0.1 1.9h0m0-0.8h0m0 1h0m0.2-0.4h0m0-0.8h0m0.7-0.6h0m0.2-1.9h0m0.2 0.1h0m0 2.2h0m0-3.4h0m0 1.8h0m0.2 2.9h0m0.2-2.6h0m0.2 0.7h0m0.4 2.6h0m0 0h0m0.6-4.4h0m0.4 3.8h0m0-2.3h0m0.1-0.2h0m0.3 1.3h0m0.1 0.9h0m0.5-2.1h0m0.2-2.4h0m0.1 4.9h0m0-4.3h0m0.1 4.8h0m0.2-2.8h0m0.3-0.8h0m0.5 2.6h0m0.1-1.8h0m0.2 1.4h0m0 1.7h0m0.2-3.7h0m0.1 3h0m0.1 0.3h0m0.5-0.2h0m0.3 0.2h0m0-0.2h0m0 0.5h0m0.2-3.7h0m0.2 2.8h0m0-4.7h0m0.4 4.6h0m0.1 0.3h0m0.1-2h0m0-1.8h0m0 2.4h0m0 0.5h0m0.2-4h0m0 1.6h0m0.1 0.7h0m0 2.6h0m0.2-0.9h0m0.2-2.7h0m0.1-1.2h0m0.7 2.9h0m0.1-2.8h0m0 4.8h0m0.2-4.4h0m0 2.1h0m0.1-1.3h0m0.1 3.1h0m0.2-3.7h0m0.1 3.1h0m0.2-2.8h0m0 2.6h0m0 1.9h0m0-2h0m0.2-2.1h0m0.1-0.4h0m0 0.1h0m0.1 3.7h0m0.1-1h0m0.1 1.8h0m0.5-2.3h0m0.1 1.5h0m0.5 0.1h0m0.1 0.1h0m0.1-4.6h0m0.1 4.3h0m0.1 0.5h0m0-3.8h0m0 4.2h0m0.2-3.2h0m0.1 2.4h0m0.1-0.9h0m0 0.8h0m0.1-1.6h0m0 0.2h0m0.7-2.8h0m0.2 4.4h0m0.2-2.5h0m0.6 3.1h0m0.1-5.9h0m0 5.2h0m0.2 0.2h0m0.1-0.6h0m0.2-3.5h0m0.2 3.6h0m0.2 0.1h0m0.5-2.1h0m0.1 0.4h0m0-2.7h0m0.1-0.4h0m0.1 0.6h0m0.2 2.8h0m0.1 2.3h0m0-4.5h0m0.1 2.1h0m0 1h0m0.3-2.6h0m0 3.2h0m0.1-0.6h0m0.1 0.9h0m0.1-0.6h0m0-2.5h0m0 1.9h0m0.1-1.7h0m0.1 1.8h0m0.1-1.4h0m0.1 2.8h0m0.1-3h0m0 1.1h0m0.2-3.5h0m0 1.9h0m0 2.1h0m0.1-1.7h0m0.4-0.5h0m0.1-0.8h0m0 4h0m0.1-4.2h0m0.1 3.9h0m0.3 0.3h0m0-3.7h0m0.1-0.1h0m0.1 2.6h0m0-2.2h0m0 4h0m0-3.6h0m0 1.3h0m0.1 0.2h0m0.2-1.3h0m0 0.1h0m0.2 2h0m0.1-3.7h0m0.1 3.8h0m0.1-1.3h0m0-1.9h0m0.3 3.2h0m0.1-4.3h0m0.1 1.8h0m0-2h0m0 1.4h0m0 2.7h0m0.1-2.9h0m0.2 0.3h0m0-0.8h0m0.1 3.3h0m0 1h0m0-4.9h0m0.1 2.8h0m0.2 0.5h0m0-1.5h0m0.2 1.7h0m0.1-2.6h0m0 1.7h0m0-1.2h0m0.2-0.2h0m0-1.3h0m0.3 4.5h0m0 0.5h0m0.1-4.8h0m0.1 1.4h0m0 0.9h0m0.2-2.2h0m0.2 2.5h0m0-2.3h0m0.1 3.2h0m0.2 1h0m0-2h0m0.1 2.1h0m0.2-3.6h0m0.2 3h0m0.1-2.5h0m0 1.8h0m0.1 0.1h0m0 1h0m0.1-4.8h0m0.1 1h0m0.1 2.4h0m0.1-1.8h0m0.1 4h0m0-2.1h0m0-2h0m0.1 3.7h0m0.2-0.1h0m0-0.2h0m0.1-3.2h0m0.1 1h0m0.2-2.1h0m0.1 4.2h0m0.3 0.5h0m0 0h0m0.2-0.5h0m0 0.1h0m0.1-0.9h0m0 0.4h0m0.1-3.3h0m0 1.8h0m0.1-0.7h0m0.1 0.2h0m0.1-1.2h0m0.1-0.5h0m0 3.7h0m0.4-1.2h0m0.2-2.6h0m0.2 5.1h0m0.1-1.3h0m0.1-1.3h0m0 2h0m0.1-3.6h0m0.1-1.3h0m0.1 3.1h0m0 0.3h0m0.1-2.8h0m0.1-0.4h0m0 0.6h0m0 3.5h0m0.2-1.1h0m0 1.2h0m0-1.2h0m0.1 1.2h0m0 1.1h0m0.1-1.1h0m0.2-1.6h0m0-2.2h0m0.1 1.4h0m0.1 3.2h0m0.1-1.1h0m0 1.2h0m0.1-3.2h0m0.2 0h0m0 2.5h0m0.2-1h0m0.1-1.3h0m0-2.5h0m0 3.8h0m0.2-0.4h0m0-2.2h0m0.1 0.5h0m0 3.4h0m0.1-1.6h0m0-3h0m0 1h0m0.1 4.4h0m0-0.1h0m0-4.9h0m0.1 4h0m0-1.7h0m0.1-1.5h0m0.1 4h0m0.3-3.9h0m0.1 1.6h0m0.1-2.4h0m0 3.4h0m0.2-0.2h0m0.1-1.7h0m0 2h0m0 0.5h0m0-2.9h0m0.1 3.3h0m0-1.5h0m0.2-2.8h0m0.3 4.3h0m0.1-3.4h0m0 1.4h0m0 0.6h0m0-2.3h0m0.1 3.5h0m0.1-2.4h0m0-2.4h0m0.1 2.2h0m0 3.3h0m0.4-5.4h0m0.1 1.3h0m0.2 1.2h0m0.1 0.7h0m0-1.7h0m0.1 1.2h0m0.1-2.9h0m0.2 1h0m0.1 3.4h0m0.1-0.9h0m0.1 1.6h0m0-5.3h0m0.2 4.9h0m0.3-4.1h0m0 2.4h0m0.2 0.4h0m0.1-1.8h0m0.1 1.7h0m0-1.4h0m0 0.5h0m0.1 3.2h0m0.1-5.2h0m0 1h0m0 2.4h0m0 0.2h0m0.2 1.3h0m0.2-2.1h0m0.1-1.8h0m0.1 2.2h0m0-0.5h0m0.1 1.3h0m0.1-2.8h0m0 1.1h0m0.2-0.5h0m0.1 0.3h0m0.1 1.5h0m0-1.1h0m0.3-0.5h0m0.1-0.5h0m0 1.2h0m0.4 2.5h0m0-5h0m0.1 1.3h0m0 3.1h0m0.1-1.8h0m0 0.1h0m0.1-1.9h0m0 2.8h0m0.1 0.9h0m0-3.2h0m0.1 2.9h0m0.3-4.4h0m0 0.8h0m0-0.3h0m0.1 3.6h0m0.1 0.1h0m0.1-2h0m0.3-1.3h0m0.1 0.4h0m0.1 3.8h0m0.5-4.3h0m0-0.6h0m0-0.3h0m0.3 2.9h0m0 0h0m0.1 2.3h0m0.1-3.7h0m0 0.3h0m0.1-1.3h0m0.1-1h0m0 0.5h0m0.1 1.8h0m0 1.2h0m0 2.1h0m0.1-4.3h0m0.1 1.3h0m0.1-0.6h0m0.1-1.4h0m0 4.7h0m0.1-1.2h0m0.5 1.7h0m0-0.4h0m0.1-2.8h0m0.1 1.5h0m0 0.3h0m0 0.4h0m0.3 0.5h0m0.1-1.5h0m0.2-2.8h0m0 1.4h0m0.2 2.7h0m0-1.9h0m0.1-2.6h0m0 4.7h0m0 0h0m0-4.3h0m0.2 0.8h0m0.1 3.8h0m0.2-1.6h0m0.1-0.7h0m0-0.7h0m0 2.3h0m0-2.1h0m0.1 0.4h0m0.1 1.9h0m0.2-2.8h0m0.2 2.9h0m0.3-2.5h0m0.1 2.3h0m0-2.2h0m0.1-1.8h0m0 4.5h0m0-4.1h0m0.2 4.5h0m0.1-2.3h0m0.1-2.5h0m0.1 0h0m0 2.8h0m0-1h0m0.1-1.7h0m0 0.9h0m0.1 2.6h0m0.5 0.2h0m0.5 0.9h0m0.1-2.1h0m0.2-3.3h0m0 1.1h0m0.3 2.4h0m0 1.2h0m0-1.1h0m0.1-0.2h0m0-1.5h0m0 1.1h0m0-0.2h0m0.1 1h0m0-0.2h0m0.1-0.6h0m0 0.7h0m0.1-3h0m0.3 4h0m0-3.4h0m0.3-1.3h0m0.1-0.2h0m0.3 0.6h0m0.1 2.1h0m0 0.6h0m0.3-3.4h0m0.1 3h0m0 0.8h0m0.2 1.9h0m0.1-5.1h0m0.1 2.4h0m0.1-2.2h0m0.1 1.1h0m0.1 0.9h0m0.1-2.1h0m0.1 0.4h0m0.2 3.4h0m0.1-1.1h0m0-1.7h0m0 0.1h0m0 1.3h0m0.1 0.5h0m0-2.9h0m0 4.4h0m0.1-1.8h0m0-2.7h0m0.1 2.6h0m0.1 1.2h0m0.3-3.7h0m0 4.8h0m0-4.5h0m0.3 3.1h0m0 0.4h0m0.1-3.8h0m0.2 3.1h0m0.2-3.2h0m0.3 2.3h0m0-0.1h0m0-2.3h0m0.2 4.9h0m0-3.3h0m0.1-1.2h0m0-0.4h0m0.2 4.8h0m0-0.9h0m0.1-0.2h0m0-0.5h0m0.2 0.2h0m0 0.9h0m0.3-2.4h0m0.4 0.7h0m0 1.4h0m0-3.9h0m0.1 2.8h0m0.1-1.2h0m0.4 1.9h0m0-3.3h0m0.2 2.5h0m0 0.9h0m0-0.8h0m0.4-1h0m0.3-1.5h0m0 3.7h0m0.1 0.9h0m0.1-0.8h0m0.2 0.9h0m0.1-0.4h0m0.1-4.3h0m0.3 2.9h0m0-1.4h0m0.3 0.9h0m0 0.7h0m0.1-2.7h0m0-0.1h0m0.1 2.4h0m0-3.5h0m0.4 1.7h0m0.1-0.8h0m0.2 0.7h0m0.1-1.4h0m0.1 1.5h0m0.1 2.1h0m0.1-2.2h0m0.1-1.1h0m0.2 2.2h0m0 2h0m0.2-0.7h0m0.1-1.2h0m0-3h0m0 0h0m0.5 1.7h0m0 3.2h0m0-3.8h0m0.1 4.7h0m0.1-3.1h0m0.1 2.4h0m0.2-0.6h0m0 0.7h0m0.3-4.4h0m0.1 3.9h0m0.4-1.6h0m0.2-1h0m0.1 0.2h0m0.1 1.7h0m0.1-0.7h0m0.1 1.6h0m0.3-1.4h0m0-1.1h0m0.4-1.6h0m0.1 4.1h0m0-4h0m0.3 2.2h0m0.2-1.2h0m0.1 0.3h0m0 3.6h0m0.3-1h0m0-0.2h0m0.1-0.9h0m0.3-1.8h0m0.1 0.6h0m0.2-1.5h0m0 4.1h0m0.1 0.6h0m0.1-0.6h0m0-1.3h0m0.4-2.8h0m0.1 0h0m0-0.6h0m0.1 3.5h0m0.3-3h0m0 2.7h0m0.1-1.5h0m0-1.2h0m0 4.4h0m0.4-2.2h0m0 1.1h0m0.1 1.3h0m0.8-1.3h0m0.1 0.5h0m0-3.7h0m0.1 1.9h0m0-1.9h0m0.2 1.9h0m0 2.8h0m0.2-5.3h0m0.2 2.6h0m0.1 1.9h0m0.2-1.4h0m0.4-1h0m0.1 1.8h0m0 1.2h0m0-0.1h0m0.3-3.7h0m0.2 1.8h0m0 0.8h0m0.1-1h0m0.1-3h0m0.2 3.1h0m0.2-2.8h0m0 2.3h0m0.2 2.6h0m0.3-5.3h0m0.4 4h0m0-2.3h0m0.1 2.4h0m0.3-2.5h0m0.2 3.6h0m0.1-5.3h0m0.2 1.6h0m0 2.4h0m0 1.2h0m0-3.5h0m0.2 1.2h0m0.1-2.8h0m0.1 4.8h0m0.1-4.8h0m0.1 2.9h0m0 2.4h0m0-2.3h0m0.1-2.8h0m0 0.5h0m0.1 0.2h0m0.1 2h0m0.1 0.3h0m0.1-1h0m0.1 1h0m0 0.3h0m0.1-3h0m0.7 2.4h0m0.1 0.6h0m0.2-0.4h0m0.1-3.4h0m0.3 0.2h0m0.2 0.6h0m0.2 1.1h0m0-0.6h0m0 3.2h0m0.2-1.9h0m0.3-1.9h0m0.1 1.8h0m0.1 2.5h0m0-3.9h0m0.2 2.1h0m0.1-1.2h0m0.6 3.6h0m0.2-3.1h0m0.2-1.9h0m0 1.4h0m0.1 2.2h0m0.5-2.7h0m0-1h0m0 2.2h0m0.1-2h0m0.2 0.6h0m0.1 1.3h0m0.4 3.2h0m0-4.9h0m0.3 2.8h0m0.6 0.3h0m0.1-1.8h0m0.2 3.1h0m0.3 0.2h0m0.2-3.4h0m0.2 2.4h0m0.6-0.4h0m0-0.8h0m0.3 0h0m0.2-0.6h0m0.2-1.2h0m0.2 0h0m0-0.7h0m0.2 2h0m0.5 1.1h0m0.3 1.7h0m0.5-1.7h0m0.3-1.6h0m0.1-1.2h0m0.1 2.5h0m0.1 1.4h0m0.1 0.4h0m0-0.7h0m0.3-1.2h0m0.2 2.2h0m0-0.2h0m0.1-2.8h0m0.5-2.2h0m0.2 2h0m0.1 3.1h0m0-2.9h0m0.5 2.9h0m0.2-1.1h0m0.2-0.4h0m0-2.4h0m1.1 1.4h0m0.1-1.2h0m0.2 2h0m0.2 0h0m0.2-0.3h0m0-3.6h0m0.5 2.9h0m0.1 0.1h0m0.3-2.8h0m1.1 1h0m0.8 1.8h0m0.2-0.5h0m0.8 1.7h0m0.3-3.1h0m0.6 0.6h0m0.1 2.7h0m0.2 1.5h0m0.4-5.6h0m0.4 1.4h0m0.3-0.4h0m0.1 0h0m0.6 4.1h0m0.2-2.6h0m2-1.7h0m1.6-0.2h0m0.1 2.7h0m0.3-3.1h0m0.7 1.2h0m0.9 0.6h0m0.1 1.2h0m1.3 2.2h0m1.2-2h0m0.4-0.1h0m0.7 0h0m0.7 0.6h0m0.8-1.3h0m1.3-1.9h0m0.1 2.9h0m1.5-2.4h0m0.2 3.3h0m1-4.4h0m1.6 0.3h0m0.8 1.8h0m3 0h0m0.3 2.7h0m0.1-1.1h0m1.8-3.7h0m5.7 1.7h0m2 1.1h0m1.1 1.6h0m0.7-2h0m0.7-1.1h0m0 3.3h0m4.1-4.4h0m5.5 4.3h0m-194.3 6h0m15.5-3.5h0m0.5 0.5h0m3 1.8h0m4.4 1.2h0m1.6-0.1h0m2-3.8h0m0.8 4.6h0m0.2-5.4h0m0 3h0m0.6 2.5h0m1.8-5.5h0m1.1 5.1h0m0-2.8h0m0.2 1.9h0m1.1-2.2h0m0.9 2.8h0m0.4-2.4h0m0.4-2h0m0.3-0.3h0m1.7 3.1h0m0.1 1.8h0m0.2-2.3h0m2.3 2.1h0m0.9-4.8h0m0.3 5.5h0m1-0.1h0m0.6-2.1h0m0.6 0.7h0m0.6-1.3h0m0.3-0.8h0m0 1.8h0m0.2-0.1h0m1.4-3h0m0 1.7h0m0.6-0.3h0m0.4 0.7h0m0.1 0.3h0m0.5 0.9h0m0-0.3h0m0-3.6h0m0.2 1h0m0.5-0.1h0m1.6 0.6h0m0.5-0.9h0m1 4.6h0m0.2-4.3h0m0.9 2.6h0m0.2-1.3h0m0.2 1.7h0m0-1.1h0m0.1-2.7h0m0.2 1.1h0m0.3 3.5h0m0.8-0.3h0m0.2 1.4h0m0-2.1h0m0.2-2.7h0m0 0.9h0m0.2 1.1h0m0 0h0m0.4-0.8h0m0.3-1.8h0m0.3 3.6h0m0.7-2.6h0m0.2 1.5h0m0.1-0.6h0m0.2 3.3h0m0.4-2.2h0m0.1-0.2h0m0-2.7h0m0.4 3.3h0m0.5-3h0m0.1 2.5h0m0.1 0.6h0m0.3-0.6h0m0.1 1.7h0m0.5-4.3h0m0.3 1.3h0m0.2 1.9h0m0.1-1.8h0m0.3 1.7h0m0.4-0.2h0m0.1-2.4h0m0.2 3.4h0m0 0.8h0m0.1-2.3h0m0-2h0m0.3 1.8h0m0.1-0.7h0m0 0.9h0m0.1 1.4h0m0.1 0.2h0m0.1 0.3h0m0.2-0.7h0m0.2-1.5h0m0.1-1.7h0m0.2 1.6h0m0 2.3h0m0.1-1.2h0m0.3-0.8h0m0.1-1.4h0m0.1 3.2h0m0.2-3.5h0m0.8 1.4h0m0.2-0.9h0m0.2-0.4h0m0 2h0m0.1 1.4h0m0.5-1.8h0m0-0.6h0m0 0.6h0m0.1 2.3h0m0-0.7h0m0.1 0.7h0m0.3-0.1h0m0.2-0.6h0m0.2 1.1h0m0.2-3h0m0.1 0.2h0m0.2 1h0m0.2-2.6h0m0.1-0.7h0m0-0.2h0m0.3 4.5h0m0-1.6h0m0.2 0.9h0m0.1-0.8h0m0 2.2h0m0.1-4h0m0.3 1.6h0m0.2-0.3h0m0.1-1.7h0m0.1-0.1h0m0 1.3h0m0.1 2.1h0m0.1-2h0m0.2-0.5h0m0 3.3h0m0-1.3h0m0.1-2.4h0m0 0.3h0m0.1 0.6h0m0-2.2h0m0.1 5.2h0m0-1.9h0m0 0.3h0m0 1.8h0m0-4.7h0m0.3 2.9h0m0.2-0.5h0m0.1-1.6h0m0.3 3.9h0m0.1-5.8h0m0 4h0m0 1.9h0m0.1-0.2h0m0.2-3.7h0m0.1 0.3h0m0 3.2h0m0 0.4h0m0.2-3h0m0.1 1.2h0m0.2-1.1h0m0.2-2.4h0m0 3.3h0m0.1-1.5h0m0 0.1h0m0.2 2.6h0m0.1-4.9h0m0.1 1.9h0m0.2-1.8h0m0.3 2.3h0m0.2 0.6h0m0.3-1.5h0m0.1 2h0m0-3.6h0m0.1 0.6h0m0.3 1.2h0m0.1 3.4h0m0 0h0m0.1-3.4h0m0 2h0m0.1-0.3h0m0.1-2.8h0m0 3.2h0m0.2-3h0m0 0.3h0m0.1 1.6h0m0.1-2.9h0m0.1 0.4h0m0 2.1h0m0.1 0.1h0m0-2.1h0m0 4.6h0m0.1-1.9h0m0.2-3.1h0m0.2 1.4h0m0 1.6h0m0 1.3h0m0.4-3.3h0m0-1h0m0 2.3h0m0.2 3.2h0m0.1-4.6h0m0 0.6h0m0.1 3h0m0.1 0.7h0m0.1-5h0m0 4.3h0m0-3.5h0m0.1 4.3h0m0.2-4.3h0m0.1-0.3h0m0.2-0.8h0m0.1 3.1h0m0.1 2.4h0m0.1-1.2h0m0.2-4h0m0.1-0.2h0m0 1.3h0m0.1 3.8h0m0-1.1h0m0.1 1.4h0m0-4.4h0m0.1 4h0m0.2-1.6h0m0 0.9h0m0-2.2h0m0 2.5h0m0.1 1h0m0.1-3.5h0m0 1.3h0m0-1.7h0m0-0.4h0m0.1 1.6h0m0-2.2h0m0.2 1h0m0.1-1.1h0m0.2 3.5h0m0.2-3.8h0m0 5.4h0m0-1.9h0m0-1.4h0m0 2.5h0m0.1-1.3h0m0.1 2h0m0.2-0.2h0m0.2-1.8h0m0.1-0.5h0m0.2-2.7h0m0.2 2.4h0m0 0.8h0m0.1-2.1h0m0.1-0.3h0m0 3.3h0m0-0.1h0m0 1h0m0-1.4h0m0.2 1.6h0m0-2.2h0m0.1 0.1h0m0-3.5h0m0 5.6h0m0-0.6h0m0.1-3.6h0m0.1 2.8h0m0.3 1.4h0m0.1-5.1h0m0 4.8h0m0.1-4.8h0m0 3.6h0m0.1-2.7h0m0 2.7h0m0.1-2.1h0m0.1 1.9h0m0.1-4h0m0-0.1h0m0 2.6h0m0.2-0.1h0m0-2.2h0m0.1 4.1h0m0.1 1.5h0m0-2.7h0m0.1-1.9h0m0.2 2.1h0m0.1 1.4h0m0.1-2.4h0m0-0.6h0m0 0.5h0m0.2 1.9h0m0.2-0.4h0m0-0.2h0m0.1 1.6h0m0-2.7h0m0.1-1.7h0m0 2.3h0m0.2-2.3h0m0 2.1h0m0-0.2h0m0.2-1.7h0m0.1 4h0m0-2.7h0m0.1 3.7h0m0.1-4.7h0m0.1 1h0m0.1-1.8h0m0.2 0.8h0m0 1.2h0m0-2h0m0 4h0m0.1-3h0m0 2.8h0m0 0.6h0m0.1-3.4h0m0 3.5h0m0.1 0.1h0m0-2.8h0m0.1 0.8h0m0.1-0.7h0m0-1.6h0m0 0.7h0m0.1 2.5h0m0.1-2h0m0 0h0m0 0.7h0m0.1 0.1h0m0 2h0m0.1-0.8h0m0 0.6h0m0-0.5h0m0.2 0.4h0m0.1-0.1h0m0-3.7h0m0.1 5.1h0m0-1.9h0m0-2.7h0m0 3.2h0m0.1 0.8h0m0-2.1h0m0.1-0.8h0m0 2h0m0.3-1.6h0m0.1-2.5h0m0 4.6h0m0.1-4.8h0m0 3.4h0m0-2.3h0m0 1.6h0m0 1.1h0m0.2-3.5h0m0.2 0.6h0m0 1.7h0m0.2 2.4h0m0-2.4h0m0 0.1h0m0.1 0.7h0m0.1 0.2h0m0-2.2h0m0 1.4h0m0 0.3h0m0.1 0.7h0m0-2.6h0m0.3 3h0m0-3.6h0m0.1 0.8h0m0 3.6h0m0-4.4h0m0.1 5.2h0m0-4.3h0m0.1-1h0m0.1 4.8h0m0-2.4h0m0-0.2h0m0 2.8h0m0.1-3.9h0m0.1 2.7h0m0.2 0.7h0m0-3.7h0m0 2.7h0m0.2-2h0m0-1.3h0m0.1 2.4h0m0.2-0.1h0m0.1 1.3h0m0-0.1h0m0 1.4h0m0.1-2.2h0m0 2.4h0m0.1-2.3h0m0.1 2.4h0m0-4.4h0m0.1-1h0m0.1 4.4h0m0-2.5h0m0.1-1.6h0m0.1 2h0m0.2 1.9h0m0-1.1h0m0.1 0.6h0m0 1.2h0m0.1 0.2h0m0-3.9h0m0.1-0.6h0m0 0.8h0m0.1 2.8h0m0-4.3h0m0 2.4h0m0.1-0.7h0m0-1.4h0m0.1 4.7h0m0-2.5h0m0.1-0.5h0m0.1-1.5h0m0-0.4h0m0 1.7h0m0.2 2.4h0m0-1.7h0m0.2-1.9h0m0.1 1.5h0m0 3.5h0m0.1-1.9h0m0.1-2.1h0m0-0.5h0m0.1 4h0m0-4.7h0m0 5.1h0m0-1.5h0m0.2 1.3h0m0-0.7h0m0.1-1.2h0m0 0.3h0m0.1-2.9h0m0-0.9h0m0 4.8h0m0-2.2h0m0.1-0.2h0m0.1 0.5h0m0 1h0m0.1 1.5h0m0.1-0.3h0m0-1.4h0m0-2.7h0m0.2 0.6h0m0 1.7h0m0-2.7h0m0 3.9h0m0-3.8h0m0.1 1h0m0 0.4h0m0 2.1h0m0-0.1h0m0-2.9h0m0.1 2.8h0m0-1.5h0m0-1.8h0m0 4.6h0m0.1-3.1h0m0-1.9h0m0 0.6h0m0.1 1.6h0m0-1.4h0m0.1 3.3h0m0.1-3.1h0m0.3 3.7h0m0-1.3h0m0.1 0h0m0 0.5h0m0.1 1.1h0m0.1-3.9h0m0 1.2h0m0.1-0.7h0m0.1 0.7h0m0.1 0.9h0m0.1 2.2h0m0-2.2h0m0.1-1.6h0m0.1 3.3h0m0-5.5h0m0.3 4.7h0m0 0.8h0m0-2.6h0m0.1 2.8h0m0.1-1.4h0m0.1-3.3h0m0 2.5h0m0.2-0.7h0m0.1-0.6h0m0-1.7h0m0 1.5h0m0.1 1.5h0m0 0.4h0m0.1 0.5h0m0-1.5h0m0-0.7h0m0 0.4h0m0 3.1h0m0.1-0.3h0m0.1-4h0m0-0.9h0m0.1 1.9h0m0.1 0.8h0m0-1.3h0m0-1.1h0m0.1 0.4h0m0 2.7h0m0.2 0.9h0m0-0.7h0m0.1-3.2h0m0.1 1.8h0m0-0.2h0m0-0.9h0m0.2 0.1h0m0.2 0.9h0m0.1 0.4h0m0.1-2.5h0m0 5.3h0m0.1-2.1h0m0.1-2.7h0m0 1h0m0-1.7h0m0 2.7h0m0-1.9h0m0.1 4.5h0m0-1.5h0m0-3.8h0m0.1 0.9h0m0-0.6h0m0.1 1.6h0m0.1 0.3h0m0.1-2.1h0m0-0.4h0m0.1 0.1h0m0 3.4h0m0.1-1.5h0m0.1-0.3h0m0 2.4h0m0-1.5h0m0.1 2.7h0m0-1.1h0m0.1 1.1h0m0-2.1h0m0.1-2.9h0m0.2 3.6h0m0-2.2h0m0.1 0h0m0.1-0.7h0m0.1 4h0m0.1 0.8h0m0.1-3.2h0m0.2 1.3h0m0-2.3h0m0.1 2.5h0m0-1.3h0m0 1.4h0m0.2-1.2h0m0 2.6h0m0-2.1h0m0.2-1.1h0m0.2 2.2h0m0.1-0.9h0m0.1-3.4h0m0 4.2h0m0.3 0.1h0m0.2-2.9h0m0.1 1.7h0m0-1.4h0m0 0h0m0.1 1.6h0m0 1.9h0m0 0.1h0m0-4.3h0m0.1 3.1h0m0-3.4h0m0 1.4h0m0.1 1.3h0m0 0.7h0m0.1-2.9h0m0.1 1.8h0m0-2.7h0m0-0.3h0m0.1 4.8h0m0.1 0.5h0m0-4.6h0m0.1 0.5h0m0 2.3h0m0-0.8h0m0.1-1.9h0m0.1 3.8h0m0-1.3h0m0.1 0h0m0-2h0m0 0.3h0m0 1.1h0m0.1 1.4h0m0.1-4.4h0m0 5.1h0m0-4.2h0m0 1.9h0m0-2.3h0m0 5.4h0m0-2.6h0m0.1 0.8h0m0 0.9h0m0.1-3.1h0m0.1 3.4h0m0.1-2.4h0m0.1-1.4h0m0 3.4h0m0.1-0.5h0m0.2-3.8h0m0 3.5h0m0-3h0m0.1 0.1h0m0.1-0.7h0m0.1 4.4h0m0-0.5h0m0-1.9h0m0.1 1.1h0m0-1h0m0-2.1h0m0.1 2.4h0m0 0.2h0m0.1 2.6h0m0.1-5.6h0m0.2 4.6h0m0 0.3h0m0-4.5h0m0.2 2.8h0m0 1.3h0m0.1 1.1h0m0.1-4.2h0m0.1-0.2h0m0 4.5h0m0.1-0.2h0m0.1-4.7h0m0.1 3h0m0.1-0.5h0m0.1-1.5h0m0.1-0.5h0m0 1.2h0m0-2h0m0 3.9h0m0.1-3.2h0m0 1.1h0m0 2.8h0m0.1-1.5h0m0-1h0m0-1.8h0m0.1 1.8h0m0-1.5h0m0 1.9h0m0-2.2h0m0.1 3.8h0m0-3.5h0m0.2 2.3h0m0.3-2.4h0m0 1.6h0m0 2.1h0m0.2-4.8h0m0.1 1.4h0m0.1 3.1h0m0.1-4h0m0 3.8h0m0-0.2h0m0.1-2.5h0m0.1 2.7h0m0-2.3h0m0.2 2.8h0m0.1 0h0m0.1-0.3h0m0-0.6h0m0.1-1h0m0-2.5h0m0.1 1h0m0-0.1h0m0 2h0m0-0.5h0m0-2.5h0m0.2 0.3h0m0.1 2h0m0 2.5h0m0-0.3h0m0.1-3.6h0m0.1 4.5h0m0.1-4.7h0m0-0.2h0m0.1 4.2h0m0.1-0.1h0m0-1h0m0-2.3h0m0.1-1.3h0m0.1 5.2h0m0-5.1h0m0 2.8h0m0.1 0.2h0m0-2.4h0m0 0.2h0m0.1-0.2h0m0-0.2h0m0 1.8h0m0.2-2.1h0m0 1.4h0m0-0.2h0m0 4.1h0m0.2-5h0m0.1 4.9h0m0-5h0m0 0.3h0m0.1 2.4h0m0.1 2.5h0m0-1.2h0m0 0.2h0m0.1-2.5h0m0.1-1.2h0m0 2.5h0m0-1.5h0m0-2h0m0.1 5h0m0-1.5h0m0.1 0.5h0m0-0.5h0m0.1-0.1h0m0.4-1.8h0m0.3 1.9h0m0.2-2.8h0m0 0.3h0m0.1 2h0m0-2.1h0m0.1 1.7h0m0 1.7h0m0.1-4.1h0m0.1 1.4h0m0-0.6h0m0 2.5h0m0.1-0.9h0m0.1 1.5h0m0 0.9h0m0.1-1.8h0m0.1-1.6h0m0 0.7h0m0.1 3.5h0m0.1-4.8h0m0.1 2.2h0m0.1 0.1h0m0 1.1h0m0-0.1h0m0-0.7h0m0.1 1h0m0 0.3h0m0.1-0.9h0m0.2-2.6h0m0.1 1.3h0m0.1 2.9h0m0-0.1h0m0.3-1.9h0m0-3.6h0m0 0.8h0m0.4 4.2h0m0-2h0m0.1-0.4h0m0.1 1.2h0m0-0.1h0m0-3.8h0m0.1 2.2h0m0 3.2h0m0.2-1.4h0m0-1.7h0m0-1.6h0m0.5 2.1h0m0 1.5h0m0-4.4h0m0.6 1.2h0m0 0.9h0m0.1 3.7h0m0-3.3h0m0.1-1.2h0m0 2.4h0m0-0.2h0m0.1 1h0m0.2-3.9h0m0.1 4.4h0m0-3.5h0m0-0.8h0m0.1 5h0m0.1-1h0m0-3.7h0m0.4 4.1h0m0.1-3.7h0m0.1 2h0m0.1 0.4h0m0 1.1h0m0.1-3.3h0m0.2 3.7h0m0-2.5h0m0 1.1h0m0-3.7h0m0.2 4.5h0m0 0.5h0m0.1-3.1h0m0.1 1.2h0m0.3 1.3h0m0.1-1h0m0-1.9h0m0 2.9h0m0.2 0.1h0m0-2.4h0m0.2 1.4h0m0-3.1h0m0.1 0.5h0m0.6-0.7h0m0 2.6h0m0.1-2h0m0 3.6h0m0-0.2h0m0.1-3.9h0m0 0.7h0m0 1.1h0m0.1-2.3h0m0.1 4.3h0m0.2 0.3h0m0.2-3.1h0m0 3.4h0m0.1 0.1h0m0.1-4.4h0m0.1 3.9h0m0 0.9h0m0.1-4.4h0m0.1 1.9h0m0 1.1h0m0-4h0m0.1 3.8h0m0.2-1.6h0m0 0.1h0m0.2 0.4h0m0 1.6h0m0.4-1.8h0m0 1.1h0m0.3 0h0m0.1-0.9h0m0-0.9h0m0.5 3.9h0m0.2-2h0m0.2 0.1h0m0.1 2h0m0.2-4.1h0m0-1.1h0m0.3 0.5h0m0.2-0.1h0m0-0.3h0m0.1 0.8h0m0-1.3h0m0.1 4.8h0m0-4h0m0.1 1h0m0.1 0.3h0m0.1 2.6h0m0-0.4h0m0 1.3h0m0.1-0.7h0m0-4.3h0m0.1 0.1h0m0.1 0.5h0m0.2 0.9h0m0 0.6h0m0.1-1.8h0m0 2.4h0m0.1 2.4h0m0.1-3.2h0m0.3-1.6h0m0.2 2.4h0m0 2.2h0m0.1-2.1h0m0.1 1.2h0m0.1-1.7h0m0 0.8h0m0-1.6h0m0.1 1.8h0m0-2.6h0m0.1 3.4h0m0-4.1h0m0.1-0.2h0m0.2 2.3h0m0.4-0.6h0m0.1 3h0m0.3-0.6h0m0.4-3.3h0m0.2 3.1h0m0.3-4.3h0m0 5.4h0m0.4-3.7h0m0.2 0.3h0m0.2 1.4h0m0 0h0m0.1 1.8h0m0.2-2.4h0m0.1-0.1h0m0-0.4h0m0.3 3.1h0m0-4.2h0m0.4 1.9h0m0.3 1.4h0m0 1.2h0m0.5-3.2h0m0.1 3.2h0m0.1-5.3h0m0.1 1.2h0m0.3-0.6h0m0.3 1.4h0m0-0.5h0m0-1h0m0 1.3h0m0.1 0.2h0m0 2.3h0m0-1.1h0m0.1-2.1h0m0.1-1.5h0m0 5h0m0.1-0.6h0m0.1 0.3h0m0.1-4h0m0.1 1.3h0m0.5 2.6h0m0-0.6h0m0.3-0.1h0m0.2-1.7h0m0-1.6h0m0.2 0.1h0m0.2 1.5h0m0 2.4h0m0.1-1.4h0m0.2-0.6h0m0 2.5h0m0.2-1.2h0m0 0.2h0m0.4-2.9h0m0.2 0.2h0m0.4-1h0m0 5.3h0m0.2-2.7h0m0.1-0.9h0m0.4 0h0m0.6-0.2h0m0.1 2.5h0m0.3-3.3h0m0.3 0.6h0m0.2 3.3h0m0-2.3h0m0.3-1.9h0m0.2 1.7h0m0.1-2.7h0m0.1 4.7h0m0.1-0.2h0m0.1-0.1h0m0.1-1.8h0m0 2h0m0.1-4.3h0m0.1 1h0m0.1-0.6h0m0 5.2h0m0.1-0.3h0m0-0.7h0m0-3.9h0m0.2 2.9h0m0.1-2.3h0m0.1 1.5h0m0.3 0h0m0.1-1.9h0m0.4 0.2h0m0.1-1.3h0m0.3 1.1h0m0.1 3.4h0m0-0.6h0m0.3-0.2h0m0.3 2h0m0.3-0.2h0m0.3-5.5h0m0.1 4.6h0m1.3 0.3h0m0.1-4.1h0m0.3 2h0m0.2-2.2h0m0.1 2.1h0m0.2-2.5h0m0.6 2.3h0m0.6 2.7h0m0.3-1.6h0m0.1-1.8h0m0.4 0.1h0m0.8 0.9h0m0.1-0.4h0m0.3-1h0m0 3.7h0m0.1-1.3h0m0-2.1h0m0.7 3.4h0m0.2-0.5h0m0.3-2.8h0m0.2 2.7h0m0.1 1.3h0m0.1-1.5h0m0.2-4h0m0.6 0.3h0m0 4.2h0m0.1-3.4h0m0.2 0.4h0m0.1 1.2h0m0.2 2.1h0m0.1-2.4h0m0.5-0.1h0m0.7 2.5h0m1.4-3h0m0.2 0.5h0m0.2 0h0m0.3-2.6h0m0.8 0.7h0m0.5 2.3h0m1.7-2.3h0m0 2.3h0m0.1-1.2h0m0.2-1.6h0m1.3 5.3h0m0.6-2.4h0m0.8-1.7h0m0.2-1h0m0.1 1.1h0m0.7 3h0m1.1-4h0m0.6 1.4h0m1.1 3.9h0m1.1-3.5h0m0.4 1.4h0m1.5-3.4h0m1.3 1.8h0m0.2 0.3h0m0-2.1h0m0.7 0h0m1.4 1.6h0m3.5 1.6h0m1.8-1h0m1.3 2.6h0m2-3.7h0m2.9 0h0m5.5-0.7h0m0.3 0.7h0m4.1 2.2h0m0.9-2.6h0m2.4 1.4h0m2.5 1.4h0m0.3-0.2h0m3.7 1.9h0m1.9-0.2h0m2.2-0.1h0m1.8 0h0m32.6-0.7h0m-244.5 6.4h0m7.2-3.3h0m1.5 3.4h0m7.7-0.9h0m10.6-2.3h0m0.7 2.9h0m0.6-1.1h0m8.2-1.9h0m0.1-0.5h0m0.8 3h0m2.7-0.4h0m0.9-2.8h0m2.4 1.3h0m0.9 1.8h0m1.4-2.6h0m0.7 1.7h0m1.8 0.7h0m0.3 0.5h0m1.7-1.1h0m0.4 0h0m0.5 2.2h0m0.8-5h0m0.6 1.1h0m0.2 4.2h0m0.2-1.5h0m0.4-3.3h0m0.4 2.2h0m0.3 1h0m0.1 1.3h0m0.4-4.5h0m0.9 1.9h0m0 0.2h0m0.4 0.2h0m0.1 0.9h0m0-3h0m0 2.8h0m0.3-1.2h0m0.1 2.3h0m0-4.1h0m0.1 3.1h0m0.2 0h0m1-2.6h0m0.1-0.9h0m0.1 4.5h0m0.1-2.7h0m0.4-2.3h0m0.5 4.6h0m0.4-1.9h0m0.4-1.6h0m0.3 0.5h0m0-1.2h0m0.6 2h0m0.3 0.1h0m0-1.9h0m0.1 0.2h0m0.1 2.2h0m0.2-0.3h0m0.5-2.1h0m0.2 0h0m0.1 1h0m0 0.8h0m0.1 2h0m0.1-0.6h0m0.4 0.8h0m0.3-4h0m0 0.3h0m0.2 2h0m0.1 0.2h0m0.1 1.6h0m0.1-1.9h0m0.4-2.6h0m0.1 2h0m0.5-0.3h0m0.1-0.6h0m0 1.3h0m0.2 3.2h0m0.5-4.7h0m0 2.4h0m0.3 2.1h0m0-3.7h0m0.1 1.2h0m0 0.7h0m0.2-2.6h0m0.3 3.1h0m0.1-0.8h0m0.1 0.3h0m0.7 1.1h0m0-1.2h0m0.4 0.2h0m0.2-3.5h0m0.2 0h0m0.2 0h0m0 2.5h0m0.1 2.6h0m0.1-1.1h0m0.3 0h0m0.4-1.5h0m0.1 2.4h0m0.1-4.4h0m0.1 3.2h0m0.4-4.1h0m0.2 5.4h0m0.2-3.2h0m0-0.4h0m0 2.4h0m0.1-1.2h0m0.1 0.6h0m0.1 1.6h0m0-3.4h0m0 0.8h0m0.1-0.2h0m0.3 2.8h0m0-4.4h0m0.3 1.3h0m0.1 1.4h0m0.2-1.2h0m0.1-0.1h0m0.2-0.4h0m0.1-0.6h0m0 1.3h0m0.6 2.2h0m0.1-1.4h0m0.1-2.7h0m0 4.6h0m0.1-1.9h0m0-2.1h0m0.1 0.1h0m0.1-1.3h0m0.1 2.2h0m0.2 1.2h0m0.1 0.6h0m0-2.3h0m0.1 2.6h0m0-4.1h0m0 5h0m0.1-2.6h0m0.1 2.3h0m0.1-2.9h0m0.2 2.9h0m0.2-4.4h0m0.1 0.5h0m0.1 0.2h0m0 4.1h0m0-4.7h0m0 1.4h0m0.1 1.8h0m0.1 0.1h0m0.2-3.4h0m0.1 4.6h0m0-5h0m0.1 3.6h0m0 1.2h0m0.2-1.1h0m0.3 1.2h0m0.2-2h0m0.1 1.6h0m0-3.5h0m0.1 0.7h0m0.2 1.5h0m0 1.3h0m0.3-1.1h0m0-0.3h0m0-2.9h0m0.1-0.3h0m0.1 5.6h0m0.4-3.4h0m0 3.2h0m0.2-2.4h0m0 1.5h0m0.3-4.4h0m0 4.6h0m0.1 1.1h0m0.2-0.3h0m0.1-4.9h0m0.1 3h0m0.1-3.5h0m0.1 3.2h0m0-0.2h0m0.2 1.2h0m0-2.3h0m0.2-0.6h0m0 4.4h0m0.1-4.1h0m0-1h0m0.1 2.4h0m0-1.9h0m0.1-1.3h0m0.1 2.8h0m0.2-0.6h0m0.1-0.5h0m0.4 1.5h0m0.4 1.1h0m0-3h0m0.1-1h0m0 1.1h0m0.3 0.5h0m0.6 0.4h0m0-1.1h0m0 1.6h0m0.1-0.2h0m0.1 1.7h0m0.1-0.8h0m0.1-3h0m0.1 2.4h0m0.1-1.7h0m0 2.8h0m0-0.4h0m0.2 1.6h0m0.2-3.1h0m0.2 1.4h0m0 0.9h0m0.2-1.3h0m0.3 1.4h0m0.2-3.6h0m0 2.3h0m0.2 1h0m0-2.3h0m0.1 0.9h0m0.1-2.5h0m0-0.2h0m0.2 2.7h0m0.1-0.6h0m0.1-2.1h0m0.4 1.2h0m0 2.4h0m0.1 0.9h0m0.1 0.4h0m0 0.3h0m0.1-2h0m0 1.4h0m0.1 0.5h0m0-2.9h0m0 0.1h0m0.1 0.5h0m0 1.1h0m0-2.2h0m0.2-0.5h0m0 3h0m0.2-1h0m0.1-1h0m0.1-0.1h0m0.2 1h0m0-2.2h0m0.1 1.1h0m0.1 0h0m0.1 0.1h0m0-0.3h0m0 3.6h0m0.1-3.8h0m0 3.2h0m0 0h0m0.1-2.9h0m0 0.7h0m0.1-2h0m0.1 1.6h0m0.1-0.8h0m0 3.3h0m0.1-0.2h0m0 0.1h0m0.2-2.2h0m0-2.6h0m0 3.9h0m0.1-1.5h0m0.1 2.3h0m0.1-1.9h0m0.1 1.1h0m0.1-2.9h0m0 2.6h0m0.1-3.3h0m0.1 3.4h0m0 0.4h0m0.1-2.6h0m0 2.5h0m0.1-2.6h0m0.1-1h0m0.1 5.2h0m0-2.1h0m0.1-0.1h0m0.1-1.2h0m0 3.3h0m0-2.1h0m0.5 0.9h0m0-2.8h0m0.1 1.3h0m0.1 0.2h0m0.1 1.5h0m0-1.1h0m0.2 0.8h0m0 1.4h0m0.1-0.2h0m0-2.2h0m0-1.2h0m0.1 0.7h0m0.1-1.2h0m0 0.2h0m0.1-0.9h0m0.3 4h0m0 0.2h0m0.1-1.2h0m0.1-2.3h0m0-1h0m0.1 1.4h0m0.1-0.4h0m0.1 2h0m0.1 1h0m0-0.5h0m0 1.3h0m0.1-3.4h0m0.2 2.6h0m0-2.5h0m0-0.8h0m0 1.4h0m0.1 2.1h0m0.1 0.7h0m0.3-4.2h0m0 2.9h0m0.1-2.9h0m0 0.3h0m0-1.4h0m0.1 3.4h0m0.1 1.2h0m0-1.4h0m0.1 0h0m0 0.3h0m0.2 2h0m0.1-3.1h0m0.2 1h0m0 1.9h0m0.1-4.3h0m0-0.1h0m0.4 1.7h0m0-2.6h0m0.4 0.4h0m0.1 4.7h0m0-1.9h0m0.1 2.5h0m0-5.1h0m0.1-0.2h0m0 1.8h0m0 3.1h0m0-4.2h0m0.1 3.6h0m0.1-3.4h0m0.1 1.9h0m0.1 0.4h0m0-1.9h0m0 3h0m0.1-0.9h0m0.1 0.4h0m0-3.5h0m0.1 3.8h0m0.2 1h0m0.1-2.6h0m0 2.9h0m0.1-3h0m0-2.5h0m0 1.3h0m0.1 3.2h0m0-3.1h0m0.1 3.6h0m0.1-2.7h0m0.2 1.4h0m0-0.7h0m0.1-0.6h0m0.1 3h0m0-1.5h0m0.1-0.8h0m0.1-3.2h0m0 1.9h0m0 1.2h0m0-1.2h0m0.1 2.3h0m0.1-3.9h0m0.1 3.3h0m0 1.2h0m0.1-3.1h0m0 2h0m0-0.9h0m0.1-2.6h0m0-0.4h0m0 1.9h0m0.1-1.1h0m0.3 0.1h0m0 2.2h0m0-0.9h0m0.2-1.6h0m0.1 3.2h0m0 1.8h0m0-5.3h0m0.1 2.7h0m0 2.8h0m0.1-3.7h0m0-1.6h0m0.1 2.1h0m0.1 0.3h0m0 2.8h0m0-1.2h0m0.1 0.8h0m0-3.7h0m0.1 1.3h0m0-1.6h0m0 1.1h0m0.1 2.4h0m0-3.5h0m0.1-1.3h0m0.1 3.5h0m0-0.2h0m0.1-0.7h0m0 1.1h0m0.1-1.1h0m0-2.6h0m0.2 5.9h0m0.2-0.6h0m0.1-4.9h0m0.3 2.8h0m0.1 0.8h0m0-3.3h0m0.1 1.8h0m0.2 1.2h0m0.1 1.3h0m0-1.6h0m0.1-1.8h0m0 2.8h0m0.1 0h0m0.1 0h0m0-0.6h0m0.2 0.9h0m0-3.7h0m0.1 1.8h0m0.1 0.3h0m0-0.3h0m0.1-0.1h0m0 0.6h0m0 1h0m0-2h0m0.1-1.5h0m0 0.7h0m0.1-0.2h0m0 4.4h0m0.1-5.6h0m0 0.9h0m0.1 3.2h0m0.1-1h0m0 2.3h0m0-1h0m0.2 1.2h0m0.1-1.4h0m0-2.1h0m0 1.2h0m0 2.4h0m0.1-3.7h0m0 2.2h0m0-1.6h0m0.2 0.9h0m0-1.1h0m0 1.1h0m0.2-0.8h0m0.1-1h0m0.1 3.6h0m0-2.5h0m0.1-0.9h0m0-1.6h0m0.1 4.9h0m0.1-1.4h0m0 1.4h0m0.1-4.1h0m0.1 4.3h0m0-4.2h0m0 0.4h0m0.1 3.6h0m0.1 0.3h0m0.2-4.7h0m0.2 3.3h0m0-1h0m0 0.9h0m0.1-0.9h0m0.1-1h0m0.1 2.4h0m0-3.6h0m0.1 0.8h0m0-1.4h0m0.1 1.7h0m0-1.1h0m0.1 1h0m0.1-1.7h0m0.1 3h0m0 0.9h0m0-1.1h0m0-1.7h0m0.1 4.4h0m0.2-3.4h0m0-1.4h0m0 0.6h0m0.1 1.7h0m0 0.7h0m0-3.4h0m0 2.9h0m0.1 2.2h0m0-0.3h0m0.1-5.3h0m0.1 4.9h0m0-2.8h0m0.1 2.5h0m0.1-1.6h0m0.4-0.5h0m0.1-1.5h0m0.4 4.4h0m0.1 0.4h0m0-4h0m0.1 2.1h0m0.1-0.4h0m0.1-2.3h0m0.1 0.4h0m0.1-0.5h0m0 3.7h0m0.1-2.7h0m0 0.1h0m0 0h0m0 1.6h0m0.1 0.1h0m0.2-2.4h0m0.1-1.4h0m0 0.6h0m0.1 1.1h0m0.1-0.7h0m0 1.8h0m0 2.4h0m0.1-4.6h0m0 4.2h0m0.1-3.8h0m0.1-0.9h0m0 5.5h0m0.1-1.3h0m0-3.3h0m0.1 4.7h0m0-5.3h0m0 0.4h0m0 3.2h0m0.1-2.6h0m0 1.4h0m0.2 2.4h0m0.1-0.6h0m0-0.7h0m0-0.8h0m0.1-0.8h0m0-0.9h0m0.1 2.7h0m0.1-2.9h0m0 1.1h0m0-0.8h0m0.3 2.8h0m0.1-4.4h0m0.1 4.2h0m0.3-1.3h0m0.3-0.1h0m0.1 0.2h0m0 2h0m0.2-5.1h0m0 0.8h0m0.1 0.3h0m0.1 0.9h0m0-1.9h0m0 2h0m0.1 3.2h0m0-2.2h0m0 0h0m0.2-1.8h0m0.3-0.7h0m0.1 3h0m0-1.5h0m0-0.3h0m0.1 1.9h0m0.1-1.5h0m0 3.6h0m0-5.8h0m0 5.1h0m0.2-4.2h0m0.1 1h0m0.1 1.8h0m0 0h0m0-1.2h0m0.2 0.9h0m0-1.4h0m0.1 1.8h0m0-3.5h0m0 2.4h0m0.1 0.4h0m0-1.4h0m0.1-0.7h0m0.1 0.6h0m0.1 1.6h0m0-2.1h0m0.3 4.2h0m0.1-4.8h0m0.1 0.5h0m0 0.1h0m0 0.2h0m0 2.5h0m0-3.5h0m0.1 4.9h0m0.1-0.2h0m0.1-3.8h0m0 0.8h0m0.1 1.2h0m0-1.7h0m0.1-1.1h0m0 0.1h0m0 0.3h0m0.1 0.7h0m0.1 2.5h0m0.1 0.2h0m0-0.7h0m0.1 0.7h0m0.2-2.2h0m0-2.1h0m0.2 1.5h0m0.1 1.7h0m0.1 1.9h0m0-2.2h0m0-0.8h0m0.1 1.1h0m0 0.6h0m0.1-2.5h0m0 4h0m0.1-0.8h0m0.2-2.9h0m0 0.7h0m0-1.3h0m0.2 2.1h0m0 2.3h0m0.1 0.1h0m0.1-3.1h0m0 2h0m0.1-4.3h0m0 0.9h0m0.1-0.5h0m0.6 0.4h0m0.1 1.3h0m0.1-1.6h0m0 4h0m0.1 0.2h0m0.2-3.3h0m0.1 0.2h0m0.1-0.9h0m0.2 4.3h0m0.3-0.2h0m0.1-1.7h0m0.1-2.6h0m0 0.6h0m0 0.3h0m0.1 0.7h0m0.1 3.2h0m0 0.4h0m0.1-3h0m0.1 2.5h0m0.1-1.7h0m0.3 1.6h0m0-5.1h0m0.1 4.7h0m0 0.6h0m0.1-4.7h0m0.1 2.9h0m0.2-3.6h0m0.3 4h0m0.2-0.9h0m0.1-0.6h0m0 0h0m0.4 0.6h0m0 1.4h0m0.3-1.6h0m0.1 0.5h0m0-1h0m0.2 1.7h0m0.1 1.9h0m0.1-1.1h0m0.1-0.7h0m0-2.9h0m0.1 3.7h0m0.1-1.5h0m0-0.1h0m0.2-1.2h0m0.1 1.2h0m0.1 1.4h0m0.2 1h0m0-0.7h0m0-3.6h0m0.1-0.5h0m0.1 4h0m0.1-0.4h0m0.1-3.3h0m0 0.9h0m0.1 0.4h0m0 2.3h0m0.1-1.6h0m0.2-1.5h0m0.1-0.8h0m0.2-0.9h0m0.6 2h0m0-1.7h0m0.1 1.2h0m0.2 0.1h0m0.2 1.5h0m0 0.3h0m0-2.1h0m0 0.9h0m0.3 1.8h0m0.1 1.6h0m0.1-1.3h0m0-3h0m0.2-1h0m0.1 4.3h0m0-3.2h0m0.2 1h0m0.1 0.4h0m0.1-1.1h0m0.2 3.2h0m0-3.6h0m0.3 0.8h0m0.3 1.8h0m0.3-3.6h0m0.5 1.4h0m0.1 0.6h0m0-2.3h0m0 1h0m0.3 1.9h0m0.1-1.2h0m0.1-1.6h0m0.1 0.7h0m0 4h0m0.1-0.6h0m0.1-2.5h0m0.1 2.6h0m0.2-1.1h0m0 0.6h0m0.1-2.4h0m0-1h0m0.2 5h0m0.5-1.6h0m0.1-3.6h0m0.3 0.1h0m0.5 4.4h0m0-4.1h0m0 2h0m0.4 0.1h0m0.1 0h0m0.2 2h0m0.1 1.1h0m0.2-4.8h0m0 0.4h0m0.2 2.8h0m0.1-0.4h0m0.4-0.6h0m0.1-3.2h0m0.1 2.3h0m0.1 2.4h0m0-2h0m0.1 1.9h0m0.2 0.3h0m0.1-4.8h0m0.1 5.7h0m0-3.9h0m0.1-1.1h0m0 2h0m0.1-2.7h0m0.3 2.8h0m0-1.8h0m0.2 2.7h0m0 0.4h0m0 0.3h0m0.2-2.1h0m0.2-1.7h0m0.1-0.3h0m0.1 3.4h0m0.2-0.6h0m0.1 1.1h0m0-2.5h0m0.1 1.7h0m0.1-2.2h0m0.2-1h0m0.2 5.5h0m0.1-2h0m0.1 1.6h0m0-0.4h0m0.1-4.3h0m0.2 5.2h0m0-3.3h0m0.1-0.5h0m0-1.8h0m0.1-0.2h0m0.1 3.4h0m0.1-1.2h0m0.1 0h0m0.1 3.2h0m0.1-2.1h0m0.1 2h0m0.1-3.2h0m0 0.9h0m0-0.4h0m0.1-2.5h0m0.1 2.3h0m0.5 0.1h0m0.3-1.1h0m0.1 3.3h0m0.2 0.7h0m0.1-4.1h0m0.3 3.8h0m0-4.3h0m0-0.8h0m0.1 0.4h0m0.2 2.3h0m0.4-1.8h0m0.1 2.5h0m0.2 0.3h0m0.1-2.7h0m0 0.9h0m0.1-1.5h0m0.2 0.9h0m0.2 1.3h0m0.4-2.4h0m0.2 4.2h0m0-3.6h0m0 1.7h0m0.4 0.9h0m0.3-1.9h0m0.2-1.3h0m0 0.2h0m0 4.6h0m0.1-2.6h0m0.1 3.3h0m0.2-5.5h0m0.1 1.9h0m0.5 0.7h0m0-2.9h0m0.1 1.1h0m0.2 1h0m0.2 2.7h0m0.1-1.2h0m0.1-0.1h0m0 0.1h0m0-2.3h0m0.2 2.4h0m0.2-0.7h0m0.1 0.9h0m0.6-3h0m0.1 3.3h0m0.2-2.6h0m0.3 0.8h0m0 1.3h0m0.5-1h0m0 0.1h0m0 0.1h0m0.1 0.3h0m0.2-1.2h0m0.2-1.3h0m0.2 1h0m0.4 3h0m0.1-1.9h0m0.1-0.1h0m0.5-2.7h0m0.1 2.9h0m0.3 1.5h0m0.1-0.1h0m0.2-0.1h0m0.2 0.8h0m0.1-0.2h0m0.2-3h0m0.6 3.4h0m0.7-5h0m0.4 3.1h0m0.3-2h0m0.1 3.7h0m0.1-1h0m0.1-2.8h0m0.1 2.8h0m0.1-0.4h0m0.1 1.1h0m0.5 0.3h0m0.4 0.8h0m0.3-0.8h0m0.3-0.3h0m0.7-0.3h0m0.4-3.5h0m0.4 4.3h0m0.5-2.9h0m0.1-0.5h0m0 0.5h0m0.3-2h0m0.2 5.2h0m0.4-5.6h0m0.9 0.9h0m0.1 1.8h0m0.4-1.6h0m0.2-0.6h0m0.1 5.3h0m1.3-4h0m0.2 0.7h0m0.1 1.5h0m0.2-3.1h0m0.3 0.1h0m0.2 1.7h0m0.3 2.9h0m0-2h0m0.6 1.3h0m0.4-3.2h0m0.7 1.3h0m0.2-0.8h0m0.6 1.9h0m0.4-1.5h0m0.1 3h0m0.9-3.2h0m0.1-1.1h0m0.8 2.7h0m0.2-2.6h0m0.2-0.8h0m0.6 1.8h0m0.1 0.8h0m0.1 2.3h0m0.8-3.9h0m0.7-1.5h0m0.6 0.5h0m2 0.1h0m0.5 1.9h0m0.6-1.2h0m0.2 0h0m0 0.3h0m0.5 2.6h0m0.1-2.8h0m0.3 2.6h0m0.1-1.4h0m0-2.3h0m0.5 2.2h0m0.4 3.1h0m0.1-2h0m1 0h0m3.6 1.9h0m0.7-5h0m0.3 0.4h0m0.1 3.2h0m1.3-3.6h0m3.9 1.7h0m7.1 1h0m0.3 0.7h0m5.9-2.3h0m6 3.9h0m1.6-3.7h0m4.6-0.1h0m5.5-1.1h0m6.9 3.2h0m-232.9 6.7h0m31.4-4.3h0m3.2 2.9h0m0.4 2.7h0m3.8-0.4h0m4.4-3.6h0m0.5 2.1h0m0.2-2.5h0m2.9-1.2h0m0.1 4.8h0m0.4 0.8h0m2.5-3.6h0m0-0.8h0m3.3-0.4h0m0.1 2.3h0m0.5 0h0m3.1 2.2h0m1.2-5.5h0m0.1 5.1h0m0.1-0.3h0m2.6-2.8h0m2 3.7h0m1.1-4.3h0m0.4 0.6h0m0.1-0.1h0m0.7 1.9h0m0.1-2.2h0m0.3 1.9h0m0.1-1.3h0m0.3-0.7h0m1 1.6h0m0.3-0.1h0m0.6-2.5h0m0.2 1.2h0m1 3.5h0m0.2 0.6h0m0.2-4.3h0m0.3 0.8h0m0.2 1.4h0m0.5-2.1h0m0.3 3.1h0m0.4-1.7h0m1-2.2h0m0 3.5h0m0.2-0.6h0m0.2-1.6h0m1-1.2h0m0.4 1.4h0m1.3 0.4h0m0.1-1.4h0m0.2 2.9h0m0-2.2h0m0.2 0.3h0m0.2 2.7h0m0.2-0.7h0m0.1-3.4h0m0.1-0.1h0m0.5 2.3h0m0.1 2.2h0m0-4.1h0m0.3 2.7h0m0.1-3.6h0m0 4.9h0m0.1-2.9h0m0.1 0.7h0m0.4 1h0m0.2-1.2h0m0.1 1.2h0m0-3.6h0m0.4 5.1h0m0.1-5.3h0m0 5.4h0m0.7-0.4h0m0.1 0.6h0m0.1 0h0m0.5-3.6h0m0.1 3.7h0m0.3-0.2h0m0.2-0.7h0m0-2.7h0m0.3-1.7h0m0 3.5h0m0 0.1h0m0.4 1.6h0m0.6-2.4h0m0.2-2.5h0m0.1 1.1h0m0.2-0.9h0m0 2.9h0m0.2-3.4h0m0.1 3.4h0m0.4-3.5h0m0.2 4.9h0m0.8-0.6h0m0.1 1h0m0-5.6h0m0 5.1h0m0.2-2.8h0m0.6 1.4h0m0.5 1.4h0m0.1 0.2h0m0.3-3.1h0m0.1-2.5h0m0.2 2.3h0m0-2.1h0m0 0.4h0m0.1-0.2h0m0 0.7h0m0.2 2.3h0m0-2.3h0m0.3 2.9h0m0.2-3.3h0m0.1 1.4h0m0 1.5h0m0.1 0.7h0m0-0.5h0m0.1-1.9h0m0.2 0.2h0m0.1 0.2h0m0.2-1.5h0m0.1-0.1h0m0 0.8h0m0.2 4.2h0m0-2.2h0m0.5-0.6h0m0 1.5h0m0-0.2h0m0-3.1h0m0.3 4.1h0m0.1 0.4h0m0-0.7h0m0.2-4.6h0m0.1 2h0m0.1 0.2h0m0.2 2.4h0m0.2-4.6h0m0.4 5.1h0m0.2-1h0m0.1-1.4h0m0.5 1.3h0m0.2-1.9h0m0.2 2.5h0m0.2-1h0m0.1-3.4h0m0.4 0.9h0m0.1-0.1h0m0.2 1.7h0m0.2 0.9h0m0-1.6h0m0.1-0.1h0m0 1.4h0m0.1 1.1h0m0.1-0.1h0m0 1.2h0m0-4.1h0m0.4 3.5h0m0.1-0.3h0m0.3-3.1h0m0.2 3.2h0m0 1h0m0-3.9h0m0-1.1h0m0.4-0.4h0m0.1 2.9h0m0.1-2.5h0m0.7 2.5h0m0.2-1.3h0m0 1.1h0m0.1 1.9h0m0-0.1h0m0 0.6h0m0.1-1.2h0m0-3.4h0m0.1 3.9h0m0-4.1h0m0 3h0m0-1.5h0m0.1-1h0m0-0.5h0m0-0.9h0m0.1 3.3h0m0-2.2h0m0.1 1.8h0m0-1h0m0.2 2.8h0m0-0.8h0m0.2-1.5h0m0.1-1.4h0m0.3 3h0m0-3.7h0m0.2 3h0m0.1 2.3h0m0-2.1h0m0-3.3h0m0.1 4.3h0m0.2-2.1h0m0-1.4h0m0.1-0.2h0m0 1.1h0m0-0.3h0m0.1-0.3h0m0.2 0.2h0m0.2 0.1h0m0.1 2.3h0m0.1-0.9h0m0-2h0m0.1 3.9h0m0.1 0.2h0m0.1-3.8h0m0.2 2.9h0m0 1.6h0m0-0.3h0m0.3-4.3h0m0-0.8h0m0.5 2.4h0m0.1 0.3h0m0 1.2h0m0.1-1.3h0m0-3h0m0 2.2h0m0-2.2h0m0.2 3.4h0m0-1.2h0m0.1 3.5h0m0-1.6h0m0.1-2.8h0m0-0.9h0m0.3 0.6h0m0-1h0m0 5.2h0m0 0.7h0m0.1-1.1h0m0.1-4.5h0m0.1 1h0m0.1-1.1h0m0.1 5h0m0-0.3h0m0.1-4.1h0m0 2.9h0m0-0.4h0m0.1-2.8h0m0 2h0m0-2h0m0.1 2.7h0m0.1 1.4h0m0.3-3.3h0m0 0.2h0m0 3.6h0m0.2 0.2h0m0-0.5h0m0-4.6h0m0.1 3.2h0m0.1-0.9h0m0 2.1h0m0.2-2.2h0m0 2.9h0m0.1-3.5h0m0-0.7h0m0 4.4h0m0-3.8h0m0.3 2.4h0m0.1-3.5h0m0.1 2.1h0m0.1 1.7h0m0.2 0.4h0m0.3-2.9h0m0.2 3.6h0m0.3-0.1h0m0.1-0.1h0m0.2-3.3h0m0.1 1.4h0m0.1-3.3h0m0 3h0m0.1 0.1h0m0-2.6h0m0.1 1.6h0m0.1 2.2h0m0.1 0.5h0m0 0.1h0m0-3.7h0m0.1 3.2h0m0-3.4h0m0.1 2.5h0m0.2-0.9h0m0.1 2h0m0.1-3h0m0 1.4h0m0.1-0.2h0m0-1.7h0m0.1 4.3h0m0.1-3.8h0m0.2-0.4h0m0.3 2.9h0m0.3-2.4h0m0 0.8h0m0.1-1.1h0m0.1 0.6h0m0-1.8h0m0.1 0.7h0m0 0.9h0m0-0.4h0m0.1-1.4h0m0 1.9h0m0.1 2.8h0m0-2.5h0m0 2h0m0.3 1.6h0m0.2-4.4h0m0.1-0.3h0m0.1 2.2h0m0.1 0.8h0m0.1-2.3h0m0 3.3h0m0-4.5h0m0.2 5h0m0-0.7h0m0.2-4.2h0m0.2 1.5h0m0-1h0m0.1 0.9h0m0 2.1h0m0.1-2.6h0m0.1-1.5h0m0.1 1.2h0m0.1 3.1h0m0-2.1h0m0-1.8h0m0.1-0.2h0m0.1 1.7h0m0 0.5h0m0.1-2.4h0m0.1 3.2h0m0 0.6h0m0.1-2.3h0m0 1.2h0m0.1-2.6h0m0.2 2.8h0m0.2-0.1h0m0 2.6h0m0.1-4.5h0m0 0.6h0m0.1-1.7h0m0 1h0m0.1 0.5h0m0.1-0.5h0m0.1-0.5h0m0.1 4.1h0m0.4-2h0m0 0.1h0m0.2-0.9h0m0.1 2.5h0m0.1-1.4h0m0.1-2.6h0m0 5.5h0m0.1-1.9h0m0.1-0.8h0m0-1.4h0m0 2.5h0m0.1 0.6h0m0.1 0.6h0m0-5.2h0m0.3 0.6h0m0.1 3.1h0m0.1-3.7h0m0 1.4h0m0.1 3.5h0m0-4.4h0m0.1-0.5h0m0.1 3.2h0m0 0.4h0m0 1.9h0m0.2-2.3h0m0-1.8h0m0.3 0.2h0m0.2 3.3h0m0.2-3h0m0.1 1h0m0.1 0.4h0m0.1-1.8h0m0 0.2h0m0.1-0.5h0m0 1.4h0m0 0.5h0m0-0.7h0m0.1 0.4h0m0.1 2.9h0m0-4.2h0m0.1 3.1h0m0.2-3.8h0m0 1h0m0.1 2.3h0m0.4-1.6h0m0.1-0.4h0m0.1 1.2h0m0.1 0.9h0m0 1.4h0m0-1.1h0m0.1-2.8h0m0.5-1.2h0m0 4.8h0m0.1-4.5h0m0.1 4.8h0m0.1-5.7h0m0.2 2.1h0m0.1 2.9h0m0.1-4.3h0m0.1 0h0m0.3-0.2h0m0 2.4h0m0.2 1.7h0m0.3 0.5h0m0.3-4.3h0m0 2.8h0m0-0.1h0m0.1-1.3h0m0-1.5h0m0.1 2.8h0m0.1-2.1h0m0 2.3h0m0.1 1.6h0m0 0.5h0m0.2-0.8h0m0.1-5.1h0m0 4.6h0m0.2-2.7h0m0-1.4h0m0 3.4h0m0-3.2h0m0.1 3.8h0m0.2-3.9h0m0 2.1h0m0-0.6h0m0 1h0m0.1-2.5h0m0.3 1.2h0m0.1 0.2h0m0 3.3h0m0.1 0.2h0m0.1-4.6h0m0.1 1.3h0m0.1 3h0m0.1-3.5h0m0 2.4h0m0.1-4h0m0.1 1.6h0m0 0.1h0m0 3.7h0m0.2-4.9h0m0.1 4.9h0m0.1-3.1h0m0.1-0.1h0m0.1 3.2h0m0.1 0.4h0m0-0.7h0m0-2.1h0m0.3 0.7h0m0.1-2.3h0m0 1.1h0m0-1.2h0m0 3.4h0m0.3-4.6h0m0.3 1.4h0m0.2 3.6h0m0-0.3h0m0.1-3.6h0m0 3.3h0m0.1-3.5h0m0 3.6h0m0.2-3h0m0 1.6h0m0.1 0.8h0m0-2h0m0.1-1.5h0m0 3.2h0m0.1-1.5h0m0.3-1.1h0m0 1.6h0m0.1 2.9h0m0.1-0.9h0m0-4.1h0m0.1 0.5h0m0 1h0m0.2 2.5h0m0.1-2.6h0m0.2 1h0m0.1 0.4h0m0.1 2.2h0m0.5-4h0m0.1 1.4h0m0.1-2.7h0m0.2 4h0m0.5-1.3h0m0.1 2.8h0m0.2-3.8h0m0.2 2.2h0m0 0.9h0m0.1-4h0m0.1 4.2h0m0.2-2.6h0m0-0.4h0m0.1 0h0m0.1-2.2h0m0 5.4h0m0.1-3.9h0m0.1 0.8h0m0.1-0.3h0m0.2 1.9h0m0.1-3.9h0m0.2 2.4h0m0-2.4h0m0.1 3.2h0m0 0.9h0m0 0h0m0.1 0.4h0m0.1-3.3h0m0 0.6h0m0.1-1.3h0m0.3 1.8h0m0.1 3.1h0m0-0.6h0m0-0.4h0m0.1-3.1h0m0.2 1.6h0m0.2-0.7h0m0 3.4h0m0.1-0.7h0m0.1-3.2h0m0 1.6h0m0.4-3.1h0m0.1 2.9h0m0.2 0.8h0m0.1 1.3h0m0-2.7h0m0.1 0.4h0m0.1 0.6h0m0-2.5h0m0.2 4.3h0m0-3.6h0m0.1-1.1h0m0.1 1.2h0m0.1-0.8h0m0.1 1.1h0m0.1 2.7h0m0-5h0m0.1 1.9h0m0.1-0.7h0m0 1h0m0.2 2h0m0.2-3.6h0m0.2 1.3h0m0.1 1.7h0m0.2-3.5h0m0.2 2.4h0m0.2-1.3h0m0.2 2.9h0m0-2.8h0m0.1-0.1h0m0.1 2.6h0m0.1-0.4h0m0.6-1.5h0m0-1.7h0m0.1 4.7h0m0.3 0.4h0m0.1 0.3h0m0.1-4.2h0m0 1.8h0m0.1 1.8h0m0 0.7h0m0-3.5h0m0.1 3h0m0.1-1.5h0m0.2-2h0m0.1 1.5h0m0.1-2.3h0m0.2 4.6h0m0.1-4.9h0m0.1-0.2h0m0.4 0.7h0m0.3-1.1h0m0 0.4h0m0 2.2h0m0.1-1.5h0m0 2.4h0m0-0.7h0m0 0h0m0.1-0.6h0m0.2 1.7h0m0.2-2.5h0m0.2 0h0m0.3-1.2h0m0 1.6h0m0.3 4h0m0.1-2.8h0m0.1-2.5h0m0-0.4h0m0.1 1.2h0m0.2 0h0m0 4h0m0.2-4h0m1.3 4h0m0-3.3h0m0.1 0.4h0m0.2 3.3h0m0-3.1h0m0.2 0.9h0m0.1-2.2h0m0.8 3.5h0m0.1-3.4h0m0.1 1.6h0m0.1 2.2h0m0.2-2.4h0m0.3-1.3h0m0.2 1.9h0m0.4-0.8h0m0 2h0m0.1-3.8h0m0.1 4.1h0m0.1-3.4h0m1 0.2h0m0.1-0.1h0m0 1h0m0.1 0.5h0m0.2 0.9h0m0.4-3.5h0m0.9 4h0m0.1 0h0m0.1-0.7h0m0-3.7h0m0.1 4.7h0m0.5-3h0m0.4 0h0m0.1 1.6h0m0.2 0.5h0m0.4-2h0m0.6 1.6h0m0.3-2.2h0m0.2-1.2h0m0 3.8h0m0.1-2.4h0m0-0.9h0m0 4.6h0m0.1-0.9h0m0-3.4h0m0.4 2.1h0m0.8 1.8h0m0.1-0.8h0m0.6 0.8h0m0.1-2.5h0m0.9 3.3h0m0-4.8h0m0.1 3.2h0m0 0.8h0m0.2-1h0m0.1-3.6h0m0.1 2.7h0m0.4 0.9h0m0.1-0.9h0m0.4 1.8h0m0.6-0.7h0m0.2 0.8h0m0.4-3h0m0-0.5h0m1-0.5h0m0.2 0.7h0m1.5-0.3h0m0.3 0.1h0m0.1 0.1h0m0.1 1.1h0m0.2 1.9h0m1.1 0.4h0m0.4 1h0m0.4-1.6h0m0.5 1.1h0m0-0.6h0m0.1-4.3h0m1.7 4.3h0m0.3-2.6h0m0.1 0.8h0m1.4-1.6h0m0.7 2.5h0m0.5-3.3h0m0.1-0.4h0m0.5 4.5h0m0.3-0.1h0m0.6-0.2h0m1-4.1h0m0.4 0.1h0m1.5-0.1h0m1.5 3.7h0m0.3-1.9h0m0.4-0.4h0m0.2 1.2h0m0.3 0.5h0m0.4-0.5h0m0.5 0.6h0m2.2-2h0m2.1-0.8h0m0.8 2.2h0m0.2-0.9h0m0.9-1.6h0m0.3 4.2h0m3-0.6h0m1.6-3.4h0m1.2 2.6h0m1.2-2.9h0m0.6 0.1h0m1 1.8h0m3.9-0.6h0m0.9 2.5h0m0.9-3.9h0m4.2 2.7h0m1.1 1.3h0m1.6 0.6h0m4.5 0.9h0m19.3-1.4h0m5.2-0.1h0m-200.7 3.9h0m2.6-1.4h0m1.1 3h0m8.5 0.2h0m2.5 2.1h0m0.9-4.2h0m0-1.6h0m2.1 3.8h0m1.7-0.3h0m1.6 2.4h0m0.8-0.8h0m0.6-1.8h0m0.8 1.8h0m0.1-0.2h0m0.3 0h0m0.8-0.5h0m0.3-2.8h0m1.2 2.7h0m0.9 1.6h0m0.5-4.6h0m0.2-0.2h0m0.2-1h0m1.2 4.4h0m0.1-2.4h0m0.6-0.1h0m0.2 0.4h0m0.2-1.9h0m1.3 1.8h0m2.1 1h0m1.1 0.5h0m0.4-2.4h0m1 1.3h0m0.8 1.5h0m0.1 1.5h0m0.3-4.5h0m0.1 2h0m0.9 1.4h0m0.8-2.8h0m0.6-0.5h0m0.3 3.7h0m0.1-2.7h0m0.7 0.3h0m0.1-1.5h0m0.5 2.5h0m0.2 1.1h0m0.5-0.5h0m0.3 1.7h0m1.2-5.7h0m0.2 1.9h0m0.2 1.3h0m0.1 0.7h0m0.1-1.2h0m0.6 2.9h0m0.1-3.3h0m0.2 0h0m2 0.4h0m0.1 1.5h0m0.3 0.6h0m0.3-4.3h0m0.7 0.4h0m0.6 1.3h0m0.5-1.3h0m0.1 3.2h0m0.4-0.1h0m0.2-3.7h0m0.4 5.1h0m0.4-4.8h0m0.1 0.9h0m0.4 3.7h0m0.1-1.5h0m0.3 0.8h0m0.6-2.1h0m0.2 1.2h0m0.7 0.4h0m0.1-0.5h0m0.4 1.6h0m0-0.8h0m0.3-2.5h0m0.3-0.6h0m0.3 1.4h0m0.8 1.4h0m0.4-1.9h0m0-1.7h0m0.4-0.6h0m0.1 2.7h0m0.1 0h0m0.1 2h0m0-3.1h0m0.1 0.3h0m0.5 2.5h0m0.3-3.5h0m0.7 2.9h0m0.3-0.7h0m0 1.5h0m0.1-2.2h0m0.1-1.6h0m0.2 1.9h0m0-2.7h0m0.1 0.5h0m0.1 4.9h0m0.2-1.1h0m0.1 0.6h0m0-1.2h0m0.2-0.6h0m0 0.4h0m0.1-0.5h0m0-1.1h0m0.1-1.4h0m0 1.6h0m0.2-1.5h0m0.1 3.5h0m0.3 0.4h0m0.1-3.2h0m0.1-1.1h0m0 1.9h0m0-0.9h0m0.1 0h0m0.2-0.9h0m0 2.4h0m0.2-2.8h0m0.1 1.7h0m0 3h0m0-3h0m0.3 1h0m0.2-0.9h0m0.5 1.9h0m0.4 0.1h0m0.2-1.3h0m0 1.9h0m0.2-2.1h0m0.5-1.4h0m0.1 2.4h0m0.1 0h0m0.1 0.7h0m0-1.5h0m0.4 0.4h0m0.1-2.4h0m0.3 1.5h0m0.2 0.1h0m0 0.2h0m0.1 0.6h0m0.4 0.1h0m0.1-0.4h0m0 0.4h0m0.1-1.2h0m0-1.6h0m0.2 4.6h0m0-2.1h0m0.1 1.9h0m0.2-0.8h0m0.3-0.9h0m0.1-2.3h0m0.2 2.9h0m0 0.1h0m0.4-1.1h0m0.1 3.5h0m0.1-5.3h0m0.1 0.9h0m0.2 0h0m0.4-1.3h0m0 4.2h0m0.2-1.6h0m0.1-2.7h0m0 4.7h0m0.2-3.5h0m0.1-0.4h0m0.2 0.9h0m0.1 3.3h0m0.7-2h0m0.1-0.8h0m0.1 0h0m0.1 2.5h0m0-1.4h0m0.2-2.7h0m0.3 4.4h0m0.1-5h0m0.1 1.7h0m0 1.1h0m0.1 1.2h0m0.2-2.1h0m0.3-1.5h0m0.5 0.7h0m0.2-0.5h0m0.2 4.7h0m0-1.1h0m0-1.4h0m0.1-2.5h0m0-0.3h0m0.1 1.1h0m0 4.5h0m0.3-0.2h0m0.2 0.2h0m0-2.7h0m0.2-0.1h0m0.3 0.1h0m0 0.6h0m0.2 2h0m0.3-3.5h0m0.1 0h0m0.3-1h0m0 1h0m0.1-1.7h0m0.2 3.8h0m0.4-2.7h0m0 0.2h0m0.1-1.7h0m0 1h0m0.1 0.2h0m0.3 1.2h0m0.2-1.2h0m0.1-0.4h0m0 1.3h0m0.1 2.9h0m0.2-4h0m0.2 3.5h0m0.2-3.1h0m0.4 4h0m0.1-2.7h0m0 1h0m0-2.5h0m0.2 3h0m0.1-1.9h0m0.4 0.7h0m0.1 0.4h0m0.4-2.8h0m0 4.2h0m0.3-4.2h0m0.1 1.7h0m0.2-2h0m0.1 4.1h0m0-3h0m0 0.9h0m0.4 0h0m0.1-1.4h0m0.1 4.5h0m0.2-4.5h0m0.2-0.6h0m0.4 1.8h0m0.1-0.5h0m0 1.7h0m0.2 2.1h0m0.2-4.8h0m0 1.6h0m0.1 1.3h0m0-1h0m0.1 3.1h0m0.6-4h0m0.1 0h0m0 0.2h0m0.2-0.4h0m0 1.1h0m0.2-0.8h0m0.1 1h0m0-0.5h0m0.1 0.9h0m0.1-0.4h0m0-1h0m0 1.2h0m0.1-1.6h0m0 3.5h0m0.1-1.2h0m0-3.4h0m0.1 0.1h0m0 2.1h0m0.2 2.3h0m0.2-4.2h0m0 5.3h0m0.3-1.7h0m0-1.6h0m0.1-0.8h0m0.1 1.9h0m0.2-2.7h0m0-0.3h0m0.5 2.4h0m0.6 0.9h0m0-1h0m0.3-1.4h0m0.1 1.2h0m0.4 0.5h0m0-3.3h0m0.1 4.5h0m0.2-2.2h0m0-2.3h0m0.1 1.2h0m0.2-1.1h0m0 0.1h0m0.3 1h0m0.3 1.9h0m0-0.2h0m0.1-1.7h0m0.1 0.4h0m0 0.3h0m0.1 1.2h0m0.1 0h0m0.3-1.1h0m0.1-0.5h0m0.1-0.4h0m0.2 1.1h0m0.2 0.7h0m0-1.2h0m0-1.5h0m0.1 3.8h0m0-3.1h0m0.1 1h0m0.2-0.6h0m0 4.1h0m0-2.2h0m0.2-1.2h0m0.4 0.2h0m0.1 1.4h0m0.1-0.8h0m0 1.9h0m0.1 0.2h0m0.7-3.1h0m0.6 0.1h0m0 1.2h0m0-0.8h0m0.1 3h0m0.5-2.8h0m0.4-0.5h0m0.1 0.6h0m0.2-2.2h0m0.3 3h0m0 0.2h0m0.5-3.5h0m0 4.7h0m0-4.4h0m0 2.9h0m0.1-0.1h0m0-2.1h0m0.1-0.4h0m0.1 2.5h0m0.3 2.5h0m0.1-3.7h0m0.2-1.6h0m0 3.3h0m0.2-2.8h0m0.2 1.1h0m0-0.4h0m0.2 4.3h0m0.1-3.7h0m0.1 3.7h0m0.2-5.3h0m0 3.8h0m0 0.1h0m0.1-3.2h0m0.1-0.3h0m0.1 1.5h0m0.1-1.9h0m0 0.8h0m0.4 3.9h0m0.2-5h0m0.6 5.2h0m0-2.1h0m0.1-2.2h0m0.4 0.9h0m0.1-1.2h0m0.1-0.5h0m0.3 4.1h0m0 0.9h0m0.1-5.1h0m0.1 2.4h0m0.1 2.8h0m0.3-3.5h0m0-1.5h0m0.3 0.6h0m0 0.1h0m1-0.1h0m0.1 1.9h0m0.3-2.2h0m0 4.2h0m0.2-4.6h0m0.2 2.1h0m0.1-0.8h0m0.3 1.1h0m0.1-0.8h0m0 0.5h0m0.3-1.2h0m0.6 1.5h0m0.8-1.5h0m0.2 1.1h0m0.2-2.1h0m0.1 1.8h0m0.2-2h0m0 4.2h0m0.1 1.2h0m0.1-0.2h0m0.1 0.1h0m0.5-5.4h0m0.3 0.8h0m0 2.9h0m0.7 1.9h0m0.1-1.9h0m0.2 0.9h0m0.2-2.1h0m0.3 2.8h0m0.2-4.4h0m0.1-0.3h0m0.2 1.6h0m0.7-0.2h0m0.2-1.5h0m0.1-0.1h0m0.4 1.9h0m0.1 1.6h0m0-1.3h0m0.1 0.9h0m0.5-2.2h0m0.3 4.4h0m0.6-5.1h0m0.2 0.5h0m0.1-0.7h0m0.3 1.9h0m0.7-0.8h0m0.2 0.2h0m0.1-1.4h0m0.8 4.1h0m0.4-1.5h0m0.3 2.3h0m0.1-0.2h0m0.8-2.6h0m0-2h0m0.1 0.8h0m0 0.7h0m0.5 1.5h0m0.2 2.3h0m0.2-1.6h0m0.3-3.1h0m0.9-0.2h0m0.1 0.9h0m0.4 1.3h0m0.3-1.8h0m0.3 1.6h0m0.4-0.9h0m0.1-0.6h0m0.4-0.8h0m0.3 2.4h0m0.4 3h0m0.2-5.8h0m0.9 2.5h0m0.9-1.3h0m2.1 1.6h0m0.4-1.7h0m0.2 0.2h0m1 4h0m3.5 0.1h0m0.5-2.8h0m0.8 0.8h0m1.6 1.4h0m0.9-1.1h0m0.6-3.1h0m0.8 0.9h0m0.2 1.8h0m0.4 1.7h0m0.1 0.3h0m1.5-5.1h0m0.7 3.7h0m0.2 1.2h0m0.8-3h0m0.5 0.2h0m0.3-1.7h0m0.3 0.3h0m1.2 4.3h0m0.2-4.7h0m0.5 2.3h0m0.6-0.4h0m0.9-2.1h0m0.5 4.6h0m2.2-3.6h0m0.3-1.2h0m1.4 3.6h0m1-1.4h0m2.9-0.3h0m0.3 1.8h0m0.8-3.7h0m1.2 1.4h0m0.3 1.3h0m0.2 0h0m1.3-2.3h0m0.1 0h0m1.2 2h0m1.5-0.6h0m1.6 2.1h0m0.1-0.5h0m4.2 0.7h0m1.1-1h0m0.1-2.4h0m0.1 1.2h0m1.2-0.5h0m3.3 2.5h0m1.7-2.6h0m1.9 1.9h0m1.3 2h0m13.5-4.4h0m0.8 1.6h0m11-0.3h0m12.9 0.2h0m-217.9 6h0m27.1 3.1h0m3.1-4.6h0m2.8 2h0m2.3 1.1h0m2.2-2.4h0m0.4-0.3h0m0.1 3.8h0m0.5 0.4h0m0.7-1.7h0m0.8-2h0m0 1.3h0m0.3 2.3h0m0-5.5h0m0.3 1.8h0m1.4 1.9h0m0.9-3.4h0m0.4 2.2h0m0.3 1.4h0m0.1-2.3h0m1.5-1.3h0m1.9 5.4h0m0.2-2h0m0.3-1.3h0m1.5-1.4h0m0.5-0.8h0m0.1 5.8h0m0.2-2.8h0m0.6-0.5h0m1.4 3h0m0.1-0.2h0m0.7-4.5h0m0.1-0.6h0m0.3-0.2h0m0.2 2.7h0m0.5-0.2h0m1.2-2.4h0m0.4 4.4h0m1-3.3h0m0.2 2.8h0m0.1-2h0m0 0h0m0.5 2.9h0m1.1-2.7h0m0.1 1.3h0m0.5-1.2h0m0-0.3h0m0.1 2.2h0m2.3-3.7h0m0.4-0.3h0m0.3 2.4h0m0.1 2.4h0m0.5-0.4h0m0.4-3.3h0m0-0.5h0m0.2 0.4h0m0-1.4h0m0.2 0.5h0m0 3.3h0m0.1-3.4h0m0.1 0.7h0m0.3 0.1h0m0 3.7h0m0.2-1.2h0m0.1-2.9h0m0.1 0.4h0m0.1 3.7h0m0-4h0m0.1 4.2h0m1-2.8h0m0.7 3.3h0m0.3-3.5h0m0.3 0.4h0m0-0.6h0m0.3 0.6h0m0.4-2.4h0m0.2 4.5h0m0.1-2.4h0m0.3-0.5h0m0.5-1.5h0m0.2 2h0m0.1 0.9h0m0.2-2.3h0m0 3.1h0m0.3-3.8h0m0.1 1.9h0m0.9 2h0m0-0.3h0m0 0.3h0m0.2-2.6h0m0 1.3h0m0.6-0.6h0m0.2 0.1h0m0.1-1.1h0m0.1 0.3h0m0-0.9h0m0.3 4.7h0m0-0.7h0m0.2-2.8h0m0 3.5h0m0.1 0.6h0m0-2h0m0.1 0h0m0.7-1.8h0m0 0.6h0m0.3-1.5h0m0.1-0.2h0m0 1.6h0m0.2-1.1h0m0.1-1.2h0m0.1 3.9h0m0.3 0.5h0m0-2.9h0m0 1.1h0m0.6 2.5h0m0.4-3.2h0m0.1 2.6h0m0.4-1.2h0m0 1.1h0m0.2-0.6h0m0.3-1.2h0m0.3 1.7h0m0.1-3.8h0m0.1 2.5h0m0.1-1.1h0m0 3.3h0m0-5.2h0m0 2.1h0m0.1-1.2h0m0.2 3.6h0m0-1h0m0.1 1.8h0m0.1-2.5h0m0.7 0.6h0m0.6-3h0m0.1 0.8h0m0.3-1.1h0m0 5.5h0m0.4-4.5h0m0.1 0.7h0m0.3 0.3h0m0.1 0.9h0m0.1 0.5h0m0-2.2h0m0.1-1.3h0m0.2 4h0m0-3.4h0m0.1 0.2h0m0 2.4h0m0.8 1h0m0 0.9h0m0-2.6h0m0.1-0.2h0m0.2-0.9h0m0.3 3.8h0m0.2-3.8h0m0.4 1.9h0m0.3-1h0m0 1.4h0m0.4-0.9h0m0.2-0.1h0m0.1 2.6h0m0-5.1h0m0.1 2.1h0m0.2 2h0m0.1-2.1h0m0.1 1.2h0m0.3-1h0m0.1 1.8h0m0.2-2.7h0m0.3-1.4h0m0.1 4.5h0m0.4-2.6h0m0.1-2.1h0m0.1 3.5h0m0.4-1.6h0m0.1 1.1h0m0-3h0m0.1 2.9h0m0.1 0.8h0m0.2-3.3h0m0.2 0.9h0m0.6 0.6h0m0.1 3.9h0m0.2 0.1h0m0.2-1.1h0m0-2.3h0m0.1 1.6h0m0.1-0.7h0m0.1-1h0m0.3 1.3h0m0-2.7h0m0.1 0h0m0.1-0.9h0m0.1 1.5h0m0.1-1h0m0.6 3.3h0m0.2-2h0m0.4 2.1h0m0.9-2.6h0m0.5-0.5h0m0 3.1h0m0.1-3.8h0m0.2 4.8h0m0.3 0.1h0m0.1-5.1h0m0.4 1.1h0m0.1 2.2h0m0.1-2.5h0m0 0.2h0m0.1-0.2h0m0.1 1.7h0m0-2.1h0m0.1 1.3h0m0 1.2h0m0.5 2.4h0m0.1-5.1h0m0 1.3h0m0.7 0.1h0m0.4-1.5h0m0.4 5.5h0m0.1-5.1h0m0 3.1h0m0.3-3.6h0m0.1 3.1h0m0.1-2.5h0m0.2 1.9h0m0.2 1.8h0m0.2-2.4h0m0 2.4h0m0.7 1.5h0m0.1-2.3h0m0 1h0m0.2-1.6h0m0-0.5h0m0.1-0.5h0m0.2 3.8h0m0.1 0.1h0m0-1.9h0m0.4 0h0m0.9-2.7h0m0.3 3.2h0m0.2 1.1h0m0.1-5.4h0m0.7 1h0m0 2h0m0.1-2.2h0m0.2 1.1h0m0.1-0.5h0m0.1 1.8h0m0.4 0.2h0m0.2-1.5h0m0-0.6h0m0.1-0.1h0m0.2 2.4h0m0.1-1.4h0m0-1.6h0m0.3 0.3h0m0 2.8h0m0.1-2.2h0m0.7 0.2h0m0.2 0.2h0m0.2 3.3h0m0-3.9h0m0.1 1.3h0m0.2-1h0m0.1 1h0m0 2.8h0m0.4-4.3h0m0.4 2.6h0m0.1-3.4h0m0.2 0.4h0m0.1 4h0m0.2-3.7h0m0.7 1.8h0m0.2-1.9h0m1.2-0.8h0m0 0.4h0m0.2 3.9h0m0.1 1.4h0m0.7-4.5h0m0.1 2.5h0m0-2.5h0m0.5 1.8h0m0.2 1.5h0m0.1-3.2h0m0.5 1.5h0m0.5-1.2h0m0.1 2.8h0m0.1-4.4h0m0.2 4.7h0m0.1-2.7h0m0.2 1.4h0m0.2 0.5h0m0.6-3.5h0m0.4 0h0m1.1 5h0m0.3-3.2h0m0.3-0.5h0m0.1 1h0m0.3 0.8h0m0.4-3.1h0m0 0.6h0m0.8 1.9h0m1.1-1.7h0m0.4 0.7h0m0.2-1.1h0m0.8 3.6h0m0.2-2.7h0m0.6 0.6h0m1 3h0m0.1-3.1h0m2.2 0.6h0m0.4 0.3h0m0.3-1.6h0m0.9 0.7h0m0.2 0.8h0m0-2.7h0m0.3 0.5h0m0.7 4.8h0m0.6-5.1h0m0.7 3.4h0m0.2-3.4h0m0.7 3.4h0m2.3-1.7h0m0.3 0.8h0m2.2-2.9h0m0.1 4.7h0m1.1-2.6h0m0-1.6h0m0.8-0.6h0m4.5 4.7h0m3-2.5h0m0.9 3h0m0.4-0.8h0m0.4-2.9h0m10 1.9h0m0.2 1.6h0m2.3 0h0m2.4-3.4h0m0.3 1h0m1 2.4h0m2.2-3.3h0m0.6 2.1h0m1-0.1h0m5.4-0.6h0m1.7-0.6h0m2.5 0.3h0m0.9 0.3h0m11.8 0.4h0m2.2-0.4h0m15-3.2h0m-182.5 11.5h0m0.6-2.8h0m15.6 2.1h0m1.1-1.8h0m1 1.5h0m4.4-4.3h0m1.3 0.5h0m0.8 0h0m0.7-0.1h0m0.5 3.4h0m0.8-1.2h0m0.8 1.5h0m0.1-0.9h0m0-3.5h0m0.8 0.9h0m1.3 0.9h0m0.2-0.2h0m0-0.6h0m0.5 2.2h0m0.3 1.4h0m0-0.3h0m0.4-3.2h0m0.4-0.6h0m2.4 0.2h0m0.8 0.9h0m0.6-1.2h0m0 2.3h0m1.9 1h0m0.2-0.2h0m0.1-3h0m0.3 2.2h0m0.3-1.4h0m4.1 1.4h0m0.4-2h0m0.2-0.7h0m0.4 3.1h0m1.6-1.4h0m0.5 2.4h0m0.6-3.6h0m0 3.1h0m0.3-2.5h0m0-0.9h0m0.2 5.2h0m0.1-3.8h0m0.4 4.1h0m0.1-1.8h0m0.6-2.6h0m0.1 3.1h0m0.5-3.9h0m0.6-0.6h0m0.2 3.1h0m0.5-0.9h0m0.9 3.3h0m0.2-4.8h0m0.2 3.9h0m0.8-2.2h0m0.5-2.2h0m0.4 2.9h0m0.6-1.9h0m1.1 1.9h0m0.3 0.9h0m0.3-2.8h0m0.3-0.5h0m0.2 3.3h0m0.9-2.3h0m0.3-1h0m0.2 0.7h0m0.3 1.4h0m0.1 2.4h0m0.1-2.5h0m0.2-0.1h0m1.4 0.7h0m0.2-2.6h0m0.3 1.5h0m0.2-0.5h0m0.4 2.1h0m1-0.2h0m0.1-0.8h0m1.1 3.1h0m0.6-3.1h0m0.2-2.1h0m0 0.7h0m0.4 2.8h0m0.1-2.6h0m1.2 1.4h0m0.3-2.2h0m0.4 0.3h0m0.2 0.6h0m0.5-1.2h0m0.5 0.4h0m1.2 3h0m0.6-2.2h0m0.5-0.8h0m0.1-0.6h0m0.2 5.6h0m0.1-3.7h0m0.2 3.4h0m0.2 0.1h0m0.1-5.2h0m0.2 2.2h0m0.2-2.1h0m0.1-0.1h0m0.3 1.7h0m0 0.2h0m0.2 0.5h0m0.1 0h0m0.1 0h0m0.1-1.5h0m0-0.8h0m0.1 4.9h0m0.6 0.4h0m0-2.7h0m0.3-0.4h0m0.6-1.4h0m0.3 0.7h0m0.5 1.5h0m0.1-3.5h0m0.1 0.6h0m0.5-0.1h0m0 4.1h0m0.1 0.4h0m0.2-2.6h0m0.2 0.4h0m1.1 1.2h0m0.1 0.1h0m0-3.2h0m0 1h0m0.1 1.7h0m0.4 1.8h0m0.1-3.1h0m0 0h0m0-2.2h0m0 2.3h0m0.1 1.6h0m0.1-3.4h0m0.1 0.2h0m1.3 0.6h0m1.1-0.7h0m0.1 3.4h0m0.3-2h0m0.5 2.1h0m0.8-3h0m0.8 3.9h0m0.6-3.1h0m1-0.8h0m1.7 1.3h0m1.6 0.9h0m0.3 1.9h0m0-3.3h0m0.1-1.1h0m0.8 0.2h0m0.1 3.8h0m0.8-4.8h0m0 2.1h0m0.1 0h0m0.6 0.5h0m0.1-2.3h0m0.8 4.2h0m0.7-4.7h0m1.4 2.4h0m0.1 2.7h0m1.3 0.7h0m2.8-1.9h0m0.2 1.4h0m0.1-3.5h0m0.7 1.5h0m1.3 1.4h0m0.5-0.2h0m1-4.4h0m1.3 0h0m0.3 0.1h0m1.4 1.1h0m0.6 2.7h0m4.9-2.3h0m4.7-1h0m0.5 4.2h0m2.6-4h0m0.2 2.9h0m0.1-1.5h0m0.1-2.3h0m2.6 0.7h0m0.7 1.9h0m3.3 3.4h0m3.2-3.2h0m1-2.4h0m6.5 2.1h0m2 0.5h0m0.8-2.1h0m1 1.9h0m10.2-0.3h0m1.8 1.8h0m12.5-3.8h0m-170.5 9.2h0m5.5 1.5h0m11-1.7h0m4.1 0.9h0m4-2.5h0m1.4 4h0m7.7-0.3h0m1.4-5.1h0m0.3 1.3h0m0.4 0.8h0m0.2 3.3h0m1.6-1.7h0m1.1-1.3h0m1 1.3h0m0.8-1.6h0m1.8 1.4h0m0.5-3h0m1.1 4.2h0m0.3-1.7h0m1.3 2.4h0m0.2-2h0m1.2-3.8h0m1.4 1.4h0m1.8 0.8h0m1.8-1h0m1.5 0.1h0m0 2.2h0m1-3.4h0m0.1 1.2h0m1.7 1.5h0m0.9 0.5h0m0.5 1.3h0m0.4 1.2h0m1.8-1.9h0m0.3-1.2h0m0.7-2.3h0m0 5.4h0m0.3-1.6h0m1.7-3.1h0m0.2 1.9h0m0-1.8h0m0.8-1.3h0m0.2 3.4h0m2.3 2.5h0m1.4-2.1h0m0.7-2.7h0m1.4 3.4h0m1-1h0m1.9-1.8h0m1 0h0m0 2.5h0m1-3h0m0.2 0.9h0m0.2 3.6h0m0.3-0.5h0m0.3-2.7h0m0.2 1.5h0m0.5-0.9h0m0.5 1.4h0m0.8-3.2h0m0.1-0.7h0m0.3 1.7h0m1.3-1h0m0.9-1h0m1.3 5.1h0m2-4.7h0m3 2.1h0m0.1 0.3h0m0.8 2.5h0m0.5-1.6h0m0 1.4h0m0.5 0.1h0m0.3-4.5h0m2.8 0.7h0m3.1 0.4h0m0.3-1.9h0m3.4 5.7h0m2.3-5.3h0m0.3 3.9h0m2.9 0.9h0m0.6-3.8h0m6.7-1.2h0m2.2 3.1h0m1.1-1.5h0m1.2-1.3h0m1 3.9h0m0.7-4.3h0m0.7-0.1h0m1.5 3h0m10.6-1.6h0m3.4-0.9h0m2.1 4.9h0m11-0.4h0m6.6-4.7h0m24.6 1.4h0m-172.6 8.6h0m3.4-4.1h0m12.8 2.8h0m4.3 1h0m3.2-0.4h0m3.1-0.7h0m0.4-2.4h0m2.1 1h0m10.2 2.8h0m0.4-3.3h0m2.2-0.7h0m0.1 3.5h0m3.4 1.9h0m4.8-1.2h0m1.7 0.3h0m5.6 0.6h0m4.4-4.4h0m0.8 0.4h0m0.3-0.2h0m4.3 3.7h0m0.9-4.7h0m3.6 2.2h0m1.4 2.4h0m0.6 0.1h0m3-4.5h0m2.2 1.6h0m2.3-0.7h0m1.7 0.4h0m0.3-0.9h0m3.4 1.8h0m7.3 0.9h0m3.5-3h0m0.3-0.7h0m0.7 0.2h0m0.2 2h0m10.4-1.5h0m3.1 2.9h0m1.3-3.6h0m3.4 0.5h0m-100 8.4h0m0.4 2.2h0m2.3-2.6h0m1.6-1.7h0m4.2 2.8h0m7.5-2.9h0m0.7 1.7h0m22.7-1.3h0m0.2 1.4h0m5.1 2.9h0m1.6-3.3h0m0.8 0.4h0m0.8-0.1h0m6.6 0h0m4.4 3.1h0m0.5-2.9h0m0.2 2.2h0m1.2-3.6h0m4.2 4.6h0m0.1-2.1h0m12.5-1.5h0m0.9-2h0m-97.6 11.5h0m4.6-0.8h0m1.7-3.5h0m29.7 1h0m3.6 3.4h0m7.8-5.7h0m3.9 1.8h0m17.8 3.3h0m10-3.3h0m11.7-0.3h0m-46.3 5.9h0m4.9 3.8h0m17.7-4.6h0m37.7 2.6h0m-57 6.2h0m16.7 2.2h0m21.4-2.6h0m6.3-1.1h0m-69 4.8h0" stroke="#000" stroke-width="2.7" stroke-linecap="round" fill="none"/>
<polyline points="172.0,788.8 213.0,788.5 240.0,788.0 252.0,786.7 266.7,782.7 293.3,776.5 320.0,770.7 326.7,768.7 353.3,764.1 380.0,761.2 406.7,759.3 433.3,757.5 450.0,756.0" fill="none" stroke="#d33a2f" stroke-width="1.8" stroke-linejoin="round"/>
<rect stroke-linejoin="round" x="158.5" y="945.3" width="305.3" height="215.20000000000005" fill="none" stroke="#3a3a3a" stroke-width="1.25"/>
<line x1="147.5" y1="959.5" x2="158.5" y2="959.5" stroke="#3a3a3a" stroke-width="1.25"/>
<line x1="147.5" y1="1005.8" x2="158.5" y2="1005.8" stroke="#3a3a3a" stroke-width="1.25"/>
<line x1="147.5" y1="1052.8" x2="158.5" y2="1052.8" stroke="#3a3a3a" stroke-width="1.25"/>
<line x1="147.5" y1="1099.4" x2="158.5" y2="1099.4" stroke="#3a3a3a" stroke-width="1.25"/>
<line x1="147.5" y1="1146.4" x2="158.5" y2="1146.4" stroke="#3a3a3a" stroke-width="1.25"/>
<line x1="259.3" y1="1160.5" x2="259.3" y2="1168.5" stroke="#3a3a3a" stroke-width="1.25"/>
<line x1="359.35" y1="1160.5" x2="359.35" y2="1168.5" stroke="#3a3a3a" stroke-width="1.25"/>
<line x1="459.4" y1="1160.5" x2="459.4" y2="1168.5" stroke="#3a3a3a" stroke-width="1.25"/>
<path d="M248.3 969.9h0m31.2 3.4h0m-115.2 3.6h0m48.7 3.5h0m9.1-0.6h0m8.9-4.5h0m5.4 1.2h0m97.7 0h0m-110.5 10.4h0m6.2-0.8h0m5.1-0.9h0m8.3-4h0m0.4 4.5h0m4.1-4.4h0m6.7 2h0m2.2 3.3h0m16.8 0.2h0m29-4h0m-78.2 6h0m31.7-1.2h0m9.4 4.1h0m5.3-1.2h0m3.3-3.4h0m6.8 3.5h0m4.8 0h0m4-0.3h0m0.8-0.4h0m1.6 2.5h0m8.3-3h0m-94.8 3.7h0m4.7 5.4h0m5.6-1.3h0m5-1.8h0m21.7 3.3h0m1.3 0.2h0m2.2 0.1h0m6-4.3h0m4.5 3.5h0m3.7-2.4h0m1.3-2.2h0m0.1 3.8h0m5.3-4.3h0m6.6 3.7h0m0.3-1h0m3.7-1.2h0m2.5 0.6h0m0.9 0.7h0m3.3-0.3h0m0.9 1h0m1.1-2.6h0m1 4.8h0m0.2-5h0m2 1.2h0m2.4 3.3h0m2-4.6h0m8.5 1.2h0m2.3 1.7h0m3.8 2.1h0m10.4-4.1h0m1.1-1.1h0m4.2 0.7h0m62.5 3.4h0m-156.5 5.4h0m5 1h0m7.8-3.6h0m1.5 4.4h0m5.4 0h0m0.7-1.4h0m1.8-3.3h0m0.4 4.7h0m1.1-3.5h0m5.9 1.4h0m0.5-1.5h0m0.4 3.5h0m2.3-5.3h0m5 0.9h0m1.2-0.8h0m0.7 3.9h0m1.5-3.2h0m0.6 4.5h0m1-2.7h0m0.4 1.9h0m0.8-0.1h0m0.4-0.4h0m2.3-0.6h0m6.1-2.5h0m1.6 1.9h0m3.8-0.7h0m1.7 0.9h0m1.7 1.2h0m3.2 1.1h0m3-2.5h0m0.3 2.8h0m0.3-1.1h0m6-2.2h0m0.6 0.1h0m2.4-1.1h0m5.4 1h0m1.4 2.9h0m1.5-3h0m0.3-1.8h0m0.9 3.8h0m5.2-0.9h0m0.5-3.4h0m3.5 2.9h0m7.1 2.3h0m33.3-1.3h0m-181.3 4.8h0m11.4-1.9h0m12.3 4.8h0m8.5-3.2h0m17.1 2.8h0m1.1-0.9h0m3.2-4.4h0m0.6 4.2h0m2.5-0.4h0m11.2-3.5h0m0.2 4.6h0m2.2-2.3h0m3.7 0.2h0m1 2.2h0m0.9-2.9h0m0.5 2.1h0m0.4 0h0m0 1h0m1.7-2.9h0m0.3 0.3h0m0.8-0.6h0m0.6-2.1h0m0.1 4.7h0m0.4-1.5h0m1 2h0m0.8-0.8h0m1.5-1.5h0m0.9-2.2h0m0 1.9h0m1.3 1.6h0m1.9-1.4h0m0.7 1.8h0m0.2-2.7h0m0.7 2.8h0m0.6-0.2h0m2.9-3.6h0m1.4 0.1h0m0.4 2.2h0m2.1-1.6h0m0.6 2.3h0m0.2-0.2h0m0.2-1.5h0m1.1-0.6h0m1.1-1.1h0m0.2-0.6h0m0.3 0.8h0m1.8 1.8h0m0.5 3.2h0m0.1-3.4h0m0.2 2.1h0m0.7 0.5h0m1.8-1.2h0m0.1 1.9h0m0.2-0.4h0m2.3-4.1h0m2.4 2.1h0m0.7 1.2h0m0.1 0.2h0m0.6-2.2h0m0.2 3.3h0m1.4-5.7h0m1.4 4h0m0.2 0.3h0m0.4-1.4h0m4.8-0.6h0m4.7-1.3h0m7.8 4.9h0m5.9-1.3h0m7.3-4.6h0m58.6 3.5h0m-207.2 6.8h0m4.8-3.3h0m1.1 2.3h0m6.6-3.3h0m28.9 0.4h0m4.1 1.9h0m1.2-1.6h0m8.3-0.8h0m5.3 0.6h0m0.6 4.1h0m0-0.9h0m0.4-2.7h0m0.3 0.1h0m0.3 2h0m0.6-2.7h0m0.3 2.7h0m1.3-0.4h0m2.8 0.5h0m1.4-0.2h0m0.6-1.8h0m0.6 3.3h0m0 1.4h0m0.7-4h0m0.4 1h0m1.3-2.7h0m0.6 5.1h0m1.2-3h0m0.1-0.2h0m0.3-1.9h0m0.2 0.1h0m2.1 4.8h0m0.3-2.9h0m0.3-0.8h0m0.3 0.5h0m0.3-0.6h0m0.4-0.1h0m0.6 0.2h0m0-0.3h0m0.1-0.8h0m0.5 4.4h0m0.6 0.6h0m1.8-4.9h0m1.7 3.2h0m1.2-2.5h0m0.4 3.5h0m0.1 0.7h0m0-2.5h0m0.5-2.8h0m0.5 1.9h0m0.2 3.8h0m0.3 0.2h0m1.3-1.5h0m0.1-3.9h0m0.4-0.2h0m0.5 0.6h0m0.2 0.9h0m1.1 4.1h0m0.1-2.6h0m0.1 1.8h0m0.1-3.8h0m0.1-1.1h0m1.2 3h0m0.3 1.2h0m1.1 0.7h0m0.4-3.2h0m0-1.3h0m1.3 3.7h0m0.4-2.4h0m0.3 2.8h0m0.5-1.7h0m0 1.7h0m0.2-1.3h0m1.4-1.8h0m0.3 3.9h0m1.4-4.9h0m0-0.4h0m0.6 3.1h0m0.1-0.7h0m0.4-1.4h0m0.1 4.5h0m1.2-2.2h0m0 0.4h0m0.1-0.4h0m0.6-0.4h0m0.4 2.2h0m0.8-4.5h0m2 1.1h0m0 2.9h0m0.1-1.6h0m0.1-0.6h0m0 3h0m0.4-4.5h0m0.4 3h0m0.6 0.2h0m0.4-4h0m0.8 2.2h0m0.3-1.6h0m0.2 4.2h0m0.2 0.8h0m0-0.3h0m0.2-0.5h0m0.5-4.9h0m0 3.4h0m2.1 0.8h0m0.4-1.9h0m2 1.5h0m0.9-3.1h0m1 3.1h0m0.3-2.4h0m0 3.4h0m0.8-0.6h0m0.3-0.2h0m3.2-4.1h0m1.2 3.7h0m1.3-2.5h0m1 2.4h0m0.8-2.4h0m0.6 1.5h0m3.7-1.9h0m1.6 1.1h0m2.3 2.6h0m1.4-0.2h0m0.2-1.3h0m1.6-3.1h0m1 5.9h0m1.6-0.6h0m0.8-2.2h0m0.9 2.5h0m0.6-1.8h0m1.8 1.9h0m7.4 0.2h0m2.4-4.4h0m1.7 0.3h0m6.1-1.2h0m2.3 0.7h0m13.6-1h0m4.1-0.3h0m-155 6.2h0m11.4 1.8h0m11.8-2h0m2.5 3.7h0m3.4-2.6h0m3.8 4.3h0m1.4 0.2h0m1.1-0.6h0m0.7 0.3h0m1.6-5.3h0m3.2 1.7h0m0.1 3.2h0m0.1-4.8h0m2.1 4.3h0m0.4-1.5h0m1.3-0.5h0m0.2 3.2h0m0.3-3.2h0m0.3 2.1h0m0-1.9h0m0-0.2h0m0.7 0.9h0m1.2 1.1h0m0.3 1.2h0m0.3-4.1h0m1.5 2.2h0m0.1-0.1h0m0.8-2.9h0m0.3 1.3h0m1.1 2.7h0m0.1-3.4h0m0.3 3.9h0m0.4 0h0m0.3-3.2h0m0.5-1.7h0m0.1 2.4h0m0.5 1.3h0m0.1-3.1h0m0.4 2h0m0.1 2.5h0m0-1.9h0m0.2 2.2h0m0.2-1.6h0m0.2-0.2h0m0.2-0.9h0m0.1-1.6h0m1.2 4h0m0.1-4.5h0m0.5 0.3h0m0.6 0.8h0m0.4 1.8h0m0.1 2.1h0m0.1-1.1h0m0.1-1.1h0m0.5-3.6h0m0 3.8h0m0.2 1.4h0m0.2-0.5h0m0.1 0.9h0m0-3.3h0m0.3 1.8h0m0.3 0.2h0m0.3-0.8h0m0.3 1h0m0.2-4.5h0m0.6 3.6h0m0.1-1.3h0m0.1 1.6h0m0.1-3h0m0.2 2.4h0m0.2-1h0m0.2-2.1h0m0.2 4.8h0m0.7 0.5h0m0.2-5h0m0.3 0.8h0m0.1 0.6h0m0.2 0.2h0m0 0.5h0m0.1 2.5h0m0.7-2.1h0m0.2 2.5h0m0.1-4.3h0m0.5 0.1h0m0.4 3.5h0m0-2.7h0m0.8 1.7h0m0.4 1.2h0m0.1-1h0m0-2h0m0.1-1.6h0m0.2 3.5h0m0.3-3.7h0m0.1 2.5h0m0.8 0.8h0m0.3-3.6h0m0.1 2.5h0m0.4 2.2h0m0.2-0.7h0m0.2 1.1h0m0.2-4.3h0m0.1 2.1h0m1.1 1.8h0m0.1 0.5h0m0.6 0.7h0m0.6-4.7h0m0.6 1.3h0m0.8 2.9h0m0.4-0.2h0m0 0.6h0m0-3.5h0m0 1.7h0m0.4 0.1h0m0.2-2.5h0m0.6 2.2h0m0.1 0.8h0m0.1-2.6h0m0.2 3.8h0m0.4-2.2h0m0.1 1h0m0.1-1.7h0m0.2 2.2h0m0.5-2.9h0m0.1 3.1h0m0.2-3.1h0m0.3 3.4h0m0.3-5.2h0m0.2 3.3h0m0.4 1.4h0m0.2-0.1h0m0.3-0.2h0m0.5-2.8h0m0.5 3.1h0m0.2-3.3h0m0.1-0.2h0m0.4 3.1h0m0.2-3.5h0m0.2 1.7h0m0-2.8h0m1 2.3h0m0.4-2h0m0 0.3h0m0.2 3.9h0m0.5 0h0m0.1-3.1h0m0.5 2.4h0m0-2.6h0m1-0.6h0m0.3 3.2h0m0.5 1.5h0m0.3-5.2h0m0 1.9h0m0.2 3.5h0m0.2-3.7h0m0.4-2h0m0.6 3.5h0m0.2 0.3h0m0.1-1.9h0m0 3.5h0m0.1-2.6h0m0.2-1.9h0m0.7 3.3h0m0.4-0.1h0m0.2-0.5h0m0.6-0.6h0m1.1 1.9h0m0.3-3.7h0m0.3 4.5h0m0.2-1.3h0m0-4.3h0m0.7 5.1h0m0.1-1.9h0m0.8 1.7h0m0.3-3.4h0m0 2.1h0m0 0.5h0m0.4-2.2h0m0 0.6h0m2.4 1.3h0m0.2-3.4h0m0 0.6h0m1.4 3.8h0m0-2h0m0.5-2.4h0m2.1 1.8h0m0.5 1.5h0m1 0.4h0m2.4-3.6h0m0.2 3.7h0m0-0.7h0m0 2.1h0m0.5-2.5h0m5.3-1.4h0m0.5-0.6h0m1.5 4.4h0m3.9-4.7h0m3.5 4h0m2-4.6h0m0.6 3.1h0m0.6 0h0m0.2-3.4h0m0.9 5.7h0m1.9-5.5h0m1.6 4.8h0m3.8-1.2h0m0.6-2.5h0m2.6 1.3h0m-140.3 8.9h0m9.9-3.3h0m3.4 0.2h0m0.7 1.8h0m3.2-1.6h0m1.1-2h0m6.3 0.7h0m0.3-0.5h0m6 5.1h0m1.3-0.8h0m0.9 0.8h0m0.2-5.4h0m0.4 3.5h0m2-2.1h0m0.6 3.1h0m1-2.4h0m2.3 2.7h0m0.4-1.3h0m0.1-0.8h0m0.1 0.6h0m0.2 0.3h0m0.9-1.7h0m2.5 3.2h0m0-3.2h0m0.2-1.6h0m0.1 2h0m0.3-2.3h0m0 1.4h0m0.3 2.9h0m0.6 1h0m0.3 0h0m0.2-3.4h0m0.9-1.5h0m0.2 1.8h0m0.4 2.7h0m0.8 0.2h0m0.2-2.4h0m0.8 0.2h0m0.1 0.4h0m0.3-1.5h0m1.3 1.9h0m0.3 0.5h0m0 0.1h0m0.3 1.1h0m0-1.5h0m0.5 0.3h0m0.1-1.3h0m0.8-3.4h0m0.2 1.7h0m1.1 0.2h0m0.9 0.7h0m0.1-2.3h0m0.5 2.9h0m0.9-0.7h0m0.4 1.5h0m2.3-3.2h0m0.3 4.1h0m0.6-3.7h0m0 3.9h0m0.1-1.7h0m1.4 0.6h0m0.5-3.5h0m0.1 5h0m0.1-4.5h0m0 3.4h0m0.5-2.6h0m0.3 0.2h0m0.3-0.5h0m0.4-1.1h0m0.1 3.7h0m0.3-1.4h0m0.2 1.4h0m0.1 1.7h0m0-3.7h0m0.5-1.8h0m0 2.7h0m0.2-1.9h0m0 1.1h0m0.5 2.5h0m0.3-2.6h0m0.2 3h0m0.2-4.9h0m1.2 1.3h0m0.2 4.5h0m0.2-2.3h0m0.4 1.3h0m0.4-3.6h0m0.3 3.9h0m0.1-1.6h0m0.3-1.8h0m0.2 3h0m0-2.5h0m0 2.4h0m0.1 0.8h0m0-4.8h0m0.4 4.7h0m0.4-1.7h0m0.1 1.9h0m0.2-4.7h0m0.4 3.3h0m0.3-2.7h0m0 4.4h0m0.3-1.1h0m1.3-4.8h0m0.4 4.5h0m0.3-4.5h0m0.2 4.1h0m0.2 0.6h0m0.3-1.6h0m1 1.2h0m0.5-2.2h0m0.3 2.5h0m0.1 1.2h0m0.1-4.1h0m0.6 2h0m0.2-0.1h0m0.1-1.2h0m0.1 0h0m0.1-2.4h0m0 0.6h0m0.2 3.1h0m0.1-3.7h0m0.5 5.3h0m0.2 0.2h0m0.1-0.1h0m0.1 0.4h0m0.2-5.5h0m0.4 0.7h0m0.4 1.6h0m0.1-0.9h0m0-0.5h0m0.2 0.6h0m0 0.3h0m0.1 1.7h0m0.3 1h0m0.3 0.4h0m0.9-3.1h0m0.1-1.7h0m0.4 2.4h0m0-0.1h0m0.2 2h0m0.1 0.1h0m0 0.4h0m0.4-2h0m0-1.9h0m0.1 3.5h0m0.3 1h0m0.5-1.5h0m0.2-3.6h0m0.6 2.5h0m0.1-3.1h0m0.2 5.5h0m0.1-5.4h0m0.1 4.8h0m0.3-0.4h0m0-3.5h0m0.5 4.4h0m0.1-1.9h0m0.3-2h0m0.1-1.3h0m0 5.5h0m0-2.7h0m0.5 2.2h0m0.1-3.1h0m0.2 1.9h0m0-1.5h0m0 1.5h0m0.2 0.2h0m0-4.4h0m0.3 3.9h0m0.1-0.2h0m0.5 1.9h0m0.2-2.2h0m0.1 0.5h0m0.1-0.1h0m0.3-0.1h0m0.4-1.8h0m0.6 0.7h0m0.5 1.2h0m0.3 1.4h0m0.3-3.7h0m0.2 1.1h0m0.1-1.8h0m0.4 1.1h0m0.1 1.4h0m0.8 0.5h0m0.2-2.5h0m0.5 0.8h0m0.4 0.5h0m1.2 2.9h0m0.7-0.8h0m0.1-0.9h0m0.2-0.3h0m0-0.3h0m0.4-3h0m0 0.3h0m0.1 4.6h0m0.1-0.5h0m1.2-2.6h0m0.1 2.7h0m0.2-0.8h0m0.1-0.4h0m0.7-2.6h0m0 0.7h0m0.1 1.7h0m0.4 0.7h0m1.4-2.7h0m0.1 4h0m0.2 0.5h0m0-2h0m0.1-0.7h0m0.9 2.4h0m0.6-5.2h0m0.4 2h0m0 0.4h0m0.9-1.2h0m0.9 4.2h0m0.4-5.4h0m0.2 4.4h0m0.7-3.1h0m0.1 4h0m0.2-4.9h0m0.1 1.5h0m0.8-2.1h0m1.1 0.8h0m0.5 0.9h0m0.6 4h0m0.3-4.9h0m0.3-0.4h0m0.6 5.3h0m2.8-4.5h0m0.2 3.8h0m0.4-2h0m0.7-0.9h0m1 1.5h0m0.4 0.7h0m0.5-2.2h0m0-1.8h0m0.2 4.8h0m2-3.3h0m0.9-1.7h0m2.2 1.4h0m1.2 2.1h0m0.1-3.5h0m0.8 4.1h0m2.1-3.8h0m0.9 2.2h0m0.1-2.4h0m1.8 4.9h0m0.2-2.8h0m0.4 3.5h0m0.2-3.7h0m1.3-1h0m0.1 0.1h0m0.2 4.4h0m0.5-2.9h0m1-0.8h0m0.6 3.5h0m1.6-2.4h0m4.7-2.1h0m0.5-0.5h0m1.5 4.7h0m1.3-3h0m16.5-1.9h0m1.6 5.5h0m5.7-2.4h0m2.5 0.7h0m4.5-0.3h0m19.4 0.8h0m4 0h0m-179 3.2h0m4.6-0.6h0m0.7 4.4h0m5.6-4h0m0.5 1.6h0m6.2-1.1h0m1.5 1.6h0m0.3-3.6h0m0.3 3.4h0m1.7 0.4h0m0.1-2.8h0m0.4 2.1h0m1.3-0.2h0m1.2 2.8h0m1.1-0.1h0m1.4-0.1h0m1.2-4h0m0.5-0.7h0m0.6 1.1h0m1.9 1.8h0m0.1-1h0m2.2 0.2h0m0 1h0m0.4-3.7h0m1.2 4.6h0m0.7 0.9h0m0.2-1.3h0m0.1 0.7h0m0 0.5h0m0.2 0h0m0.2-5.5h0m0.1 4.8h0m0.3-4.5h0m0.5 3h0m0.2 2.4h0m0.2-0.5h0m0.5-3.9h0m0.2 3h0m0.1-2.7h0m0.1 1.5h0m0.6-0.4h0m0.1-2.9h0m0 4h0m0.4 0.7h0m0-1.1h0m0.6-2.8h0m0.5 4.1h0m0-2.4h0m0.2 0.4h0m0.1-0.8h0m0-0.6h0m0.2 2.5h0m0.7-1.5h0m0.6 1.5h0m0.3 0.7h0m0.2-2.2h0m0.5 0.6h0m0.1-1.2h0m0 3.3h0m0.3-1.2h0m0.2-1.4h0m0 2.5h0m0-4h0m0.1 1h0m0.1-1.7h0m0.2 1.2h0m0.3 1h0m0.3-1.9h0m0.4 3h0m0.1 0.3h0m0-2.5h0m0.1 2.8h0m0.2-1.8h0m0.1 1.5h0m0.2 0.6h0m0.1-2.5h0m0.1-1.4h0m0.3 1h0m0.5 3.4h0m0.1 0.4h0m0-5h0m0.5 2.2h0m0-0.8h0m0.2 2h0m0.6-2.4h0m0.2 3.8h0m0.1-3.8h0m0.3 4.4h0m0-2.7h0m0.1-0.4h0m0 1.2h0m0.1 0h0m0.2-1.8h0m0-0.7h0m0.4 2.6h0m0.1-3.9h0m0 0.4h0m0 1.8h0m0.2 2.3h0m0.1-2.4h0m0.2 1.9h0m0.3-4.2h0m0.4 4.2h0m0.1-3.9h0m0.3 4.2h0m0.2-1.4h0m0.1-1.7h0m0.4 1.3h0m0.1 1.2h0m0.1-3.6h0m0.1 0.4h0m0 5.1h0m0.4-3.4h0m0.2 3.2h0m0-2.9h0m0 1.3h0m0.2 0.3h0m0.1-2.9h0m0.1 2.5h0m0-2h0m0.1 2.3h0m0.2 0h0m0-1.1h0m0.1 2.6h0m0-3.9h0m0.5 2.3h0m0.2-2.2h0m0-1.2h0m0.2 3.1h0m0.1-2.3h0m0.7 2.6h0m0.1-1.9h0m0 1.1h0m0.1 2.2h0m0-3h0m0.1-0.3h0m0.2 0.2h0m0.1 0.1h0m0.2 0.5h0m0.1-1.6h0m0.1-0.2h0m0 1.1h0m0 2h0m0.1-0.5h0m0 1.2h0m0.1-1.7h0m0.3 2.4h0m0.4-1h0m0-3.5h0m0.3 2.2h0m0.2-0.5h0m0-1.6h0m0.1-0.7h0m0.1 0h0m0.6-0.2h0m0.3 1.1h0m0.1 3.5h0m0.2-4.4h0m0.9 3.8h0m0.1-2.3h0m0.2-1.5h0m0.2 4.1h0m0.1 0.8h0m0 0h0m0-5.4h0m0.4 1.4h0m0.2 2.8h0m0-0.5h0m0.2-1.4h0m0.3-0.5h0m0.1 1.9h0m0.4 0.5h0m0.1 0.3h0m0-2h0m0 0.1h0m0.1-1.2h0m0.5 1.9h0m0.6-2.1h0m0.1 1.1h0m0.6-1h0m0 3.7h0m0.1-1.7h0m0.1 0.9h0m0.1-0.9h0m0.1-2.2h0m0 1.8h0m0.1-0.4h0m0.1-2.1h0m0.5 4h0m0-3.8h0m0.2 2.4h0m0.3-2.5h0m0.1 3.4h0m0 0.5h0m0.1-2.6h0m0.2 1.4h0m0 1.6h0m0.1-2.3h0m0.2 1.3h0m0.4-1h0m0.1-0.2h0m0.1 0.8h0m0 2.4h0m0.7-5.2h0m0 1.5h0m0.1-0.5h0m0.3 2.1h0m0.1 1.1h0m0.1-2.7h0m0.2 2.2h0m0.3 0.6h0m0.1-4h0m0.6 0.7h0m0.1-1.5h0m0 0.1h0m0.1 0.1h0m0.2 1.3h0m0.1-1h0m0.9 0.9h0m0 1.1h0m0.5 1.8h0m0.2-1.6h0m0 3.1h0m0-3.8h0m0.2 1.3h0m0.7-2h0m0.4 2.2h0m0 1.6h0m0.1-0.7h0m0.5-1.6h0m0.1 1.8h0m0.2-4.4h0m1.2 4.1h0m0.2-2.2h0m0.2-0.7h0m0.4 2.9h0m0.4-0.7h0m0.5 2h0m0.1-5.7h0m0.5 4.2h0m1 1h0m0.2-1.9h0m0.1-0.6h0m0.3-1.9h0m0.3 0.2h0m0.3 4.9h0m0.2-2.1h0m0.1-2.7h0m0.3 0.7h0m0.1 1.7h0m0.1 0.6h0m0.3 0.4h0m0.2-4.5h0m0.1 4.7h0m0.1 0.6h0m0.8-1h0m0.2-4.3h0m0.3 4.1h0m0-2.2h0m0.3 2.4h0m0.1-0.6h0m0.2 0.4h0m0.2 1.5h0m0.9-0.8h0m0.1-1.1h0m0.3-0.2h0m0.7-1h0m0.3-0.3h0m0.1-0.2h0m0.3 3.1h0m0.1-2.4h0m0.4-1.2h0m0.1 3.5h0m0.3 0h0m0.1-3.5h0m0.2 0.2h0m0.1-1.5h0m0.1 5.2h0m0.4-1.7h0m0 0.2h0m0-1h0m0.1 0.4h0m0.5-2.9h0m0.1-0.4h0m0.1 0.2h0m0.7 2.4h0m1.1-0.4h0m0.1 3.1h0m0.3 0.3h0m0.2-0.8h0m1.1 0.5h0m0-2.3h0m0.1-2.7h0m0.2 1.1h0m0.1 3.9h0m1.1-3.2h0m0.1 1.2h0m1.2 0.8h0m0-2.5h0m0.2 2.7h0m0.3-0.7h0m1-2.2h0m0 4.5h0m0.7-4.2h0m0.5 1.4h0m0.4 0.2h0m1.1-0.8h0m0.3-1.3h0m0 3.4h0m0.2 0.4h0m0.2-2.9h0m0.4-1.9h0m0.8 0.8h0m0.7 0.3h0m1.7 1h0m0.2-0.2h0m0 1.4h0m0.1-2.8h0m0.4 3.3h0m0.4-0.9h0m1 0.2h0m0.4-2.9h0m0.5 1.6h0m2.2-1.5h0m0.1 3.6h0m0.7-3.7h0m0.4 1.1h0m0.2 0.1h0m0.5-0.2h0m0.3-0.5h0m0.4 3.3h0m0.5-1.1h0m0.1 2.5h0m5.7-3.5h0m1.9 0.4h0m1.5-1.7h0m0.6 0h0m1.8 1.8h0m1.2 2h0m0.8-3.7h0m1.7-0.4h0m0.1 3.4h0m0.3-3h0m8.6 3.7h0m0.5-4.5h0m0.3 1.3h0m4.9 0h0m0 0.6h0m8 0.7h0m2.2 0h0m6.3 1.5h0m6.2-0.8h0m4.7-0.7h0m-189.5 3.3h0m15 4.7h0m0-2.9h0m10.1 2h0m0.9 1.2h0m3.5-2h0m0.1-1h0m0.1-0.8h0m1.8 1h0m4-1.1h0m2.2 4.1h0m1.1-2.4h0m1.7-2.1h0m0.1 2.8h0m0-2.9h0m1.6 2.3h0m1.3-1.9h0m0.3 1.1h0m0.5 1.5h0m0.9-1h0m0.3 1.8h0m0.8 1.4h0m0.8-5.3h0m0.2 1.5h0m0.6 3.3h0m0.4-2.9h0m0 1.5h0m0.7-0.8h0m0.2 1.3h0m0.1 1h0m0.4-1.4h0m0.4-2.7h0m0.3 0.3h0m0.2 3.9h0m0.3-1.7h0m0.1-1.7h0m0.1 3h0m0.4-0.7h0m0-2.7h0m0.6 3.9h0m0.3-3.2h0m1.3-0.9h0m0.4-0.8h0m0.7 4.8h0m0.5-3.1h0m0.4 1.4h0m0.8-1.6h0m0 3.1h0m0.2-2.2h0m0.1 2.1h0m0.9-4.5h0m0.3 4.4h0m0.1-4.4h0m0.2 4.5h0m0.1-0.1h0m0.2-3.8h0m0 3.4h0m0.2-3.1h0m0.8 4h0m0 0.1h0m0.1-0.8h0m0-1.1h0m0.5-2.2h0m0.4 0.1h0m0.5 1.3h0m0 1h0m0.5 0.6h0m0-2h0m0.1 1.8h0m0 0.2h0m0.1 0.8h0m0.1-0.9h0m0.1-4.1h0m0 5.4h0m0.3-0.9h0m0.1-0.7h0m0.1-2h0m0.1-1.7h0m0.6 1.4h0m0.2 3.3h0m0.5-0.4h0m0.2-2.2h0m0.2-1.6h0m0.2-0.7h0m0.4 4h0m0.2-3.9h0m0 3h0m0.1 1.1h0m0.3-1.4h0m0.3-0.1h0m0.1-2.9h0m0.2 4.7h0m0.3-4h0m0.2 2.2h0m0.1 1.5h0m0-4.6h0m0 3.2h0m0.1-1.3h0m0.4 0.6h0m0.1 0h0m0.1 2.3h0m0.6-3.4h0m0 2h0m0.2-2.9h0m0.2 4.8h0m0.2-5.2h0m0.1 2.2h0m0.1-1.1h0m0.1 0.3h0m0.3 2h0m0.1-0.7h0m0.5 2.4h0m0-2.2h0m0.4 0.2h0m0 1.8h0m0.1-2.2h0m0.1 1h0m0.1 0.9h0m0 0.5h0m0.1-3.1h0m0-1.1h0m0.1 3.3h0m0 0.8h0m0.1-0.1h0m0-4.6h0m0.2 1.3h0m0.4 4.3h0m0.5-3.8h0m0.2-1.3h0m0.2 3.1h0m0.4-1.9h0m0.1 0.5h0m0.2 0.1h0m0.3 1.6h0m0-2.7h0m0 3.5h0m0.1-1.1h0m0.1-1.5h0m0 0.9h0m0.1-0.3h0m0 1.6h0m0.1-3.6h0m0 0.7h0m0.3 4h0m0.1-4.6h0m0.1-1h0m0.1 4.7h0m0.2 1.1h0m0.1-4.4h0m0-0.9h0m0.2-0.5h0m0.2 2.2h0m0.4 3.4h0m0.4-5.4h0m0 0.4h0m0.3 2.5h0m0-1.3h0m0.1 3.4h0m0.2 0.2h0m0.4-4.7h0m0-0.9h0m0 1h0m0.2 0h0m0 0.7h0m0-1.6h0m0.1 4.7h0m0.3-1.8h0m0.1 1.3h0m0.2 0h0m0.3 1.4h0m0-0.4h0m0.1-4.9h0m0.1 2.4h0m0.2-2.6h0m0.2 0.1h0m0.2 1.3h0m0.2 4.1h0m0.1 0.1h0m0.1-1.5h0m0.3-3.2h0m0.1 0.2h0m0.6 3.3h0m0.1 0.3h0m0-0.1h0m0.1-1h0m0.1-1.5h0m0-1h0m0.2-0.9h0m0.1 5.5h0m0-3.6h0m0 2.2h0m0.1-1.3h0m0.2 1.2h0m0-0.5h0m0.2 0.8h0m0-3.6h0m0.1 0.7h0m0 3.7h0m0.1 0.3h0m0.1-4.3h0m0.2-0.1h0m0-0.3h0m0 1.2h0m0.1 0.2h0m0.2 1.4h0m0.1-0.2h0m0.2-3.1h0m0.1 5h0m0.1-5.2h0m0.1-0.1h0m0 2.2h0m0 1.5h0m0.1 1.4h0m0-3.4h0m0.1 3.4h0m0.1-3h0m0.1 3.1h0m0.1-0.5h0m0-0.8h0m0-1.6h0m0.1 2h0m0.1-0.4h0m0.3-1.1h0m0.1-2h0m0.2 2.6h0m0.1-0.2h0m0.2 0.4h0m0-3.4h0m0.2 3.2h0m0.2-1.4h0m0.1 3.5h0m0.1-0.8h0m0.2 0.9h0m0.1-5.7h0m0.2 4.9h0m0.2 0.7h0m0.2-1.1h0m0.2-0.4h0m0.3-1.3h0m0-2.8h0m0.2 3.9h0m0-3.1h0m0 4.3h0m0-1.3h0m0.1-2.4h0m0.2 0.1h0m0 2.5h0m0.1-1.5h0m0 2.7h0m0.3-3.2h0m0.1 0.7h0m0-2.3h0m0.4 1.3h0m0.3-1.1h0m0.4 1.2h0m0.2 0.9h0m0.1-0.4h0m0.1 3.5h0m0.2-3.8h0m0-0.3h0m0.1 2.1h0m0-0.3h0m0.1 1.2h0m0 0.8h0m0.1-0.3h0m0.1-3.9h0m0-1.3h0m0.3 3.8h0m0.8 1h0m0.1-2.1h0m0.1 0.1h0m0.6-0.7h0m0.1 3h0m0.1-4.9h0m0.1 1.7h0m0.2-1.7h0m0.1 3.3h0m0.1 0.7h0m0.1-1.6h0m0.1 1.1h0m0 1.4h0m0.1-0.7h0m0.2-0.7h0m0-1.8h0m0.2 3.9h0m0-5.1h0m0.1 5h0m0.1-3.1h0m0.4 0.2h0m0.5-0.8h0m0-1.3h0m0.1 2.9h0m0.1-0.3h0m0-1.8h0m0.1 0.6h0m0 2h0m0-1.7h0m0.1 1.6h0m0.1-2.8h0m0 1.4h0m0.1 2.9h0m0.1-5.4h0m0.1 0.3h0m0 3.2h0m0.2-1.6h0m0.4-0.3h0m0.1 0.4h0m0.2-0.3h0m0.1 2.7h0m0-3.9h0m0.3 4.6h0m0.6-2.8h0m0.1 2.2h0m0.1 0.7h0m0 0.1h0m0.2-2.9h0m0.1 2.5h0m0.2 0h0m0.2-2.6h0m0-1.2h0m0.2 0.5h0m0.1 1.7h0m0.3-3.2h0m0 3.1h0m0-2.2h0m0.4 3.5h0m0.1-1.4h0m0-1.1h0m0.2-0.1h0m0.1 0h0m0.2 0.2h0m0.1 3.4h0m0.1-4h0m0.2 2.3h0m0-1h0m0.4 0.1h0m0.1-3.1h0m0.3 1.4h0m0 3.9h0m0.1 0.5h0m0.1-2.9h0m0.1 2.6h0m0.2-4.4h0m0.1 3.2h0m0-2.9h0m0.3 0.8h0m0.1-0.6h0m0 1.9h0m0.2-3.4h0m0 2.2h0m0.1 3.5h0m0.6-5h0m0.1 4.9h0m0.1-4.1h0m0-0.5h0m0.2 0.2h0m0.1 3.3h0m0.1-0.7h0m0.1-3.1h0m0 3.9h0m0.1 1.1h0m0.1-3.5h0m0.1-0.7h0m0 4.1h0m0.4-3.2h0m0.2 2.9h0m0.2-1.2h0m0.3-2.2h0m0 0.3h0m0.1-0.2h0m0.2 2h0m0.7-0.8h0m0.8 1h0m0 0h0m0.1 0h0m0.1 1.4h0m0.2 0h0m0.1-0.4h0m0.3-2.7h0m0.1 3.2h0m0-3.6h0m0.1 0h0m0.7-0.1h0m0.2 0.7h0m0-0.8h0m0.5-0.6h0m0.2-1.5h0m0.6 0.7h0m0.2 1.9h0m0.7 0.1h0m0-0.1h0m0.8 1.3h0m0.2-0.4h0m0.1 1h0m0.2 0.4h0m0.3-0.6h0m0-1.9h0m0.1 0.3h0m0.1-1.4h0m0.6 3h0m0.1-0.1h0m1.1-2.6h0m0.2 4.4h0m0.1-1.5h0m0.1-4.3h0m0.3 2.4h0m0.7 0.4h0m0 1h0m0.5-2.7h0m0.1 3.8h0m0.7-0.8h0m0.4 0.9h0m0 0.3h0m0.2 0.4h0m0.1-2.1h0m0.5-3.8h0m1 1.2h0m2.1 4.1h0m0-2h0m1.2 0.9h0m0.1-2.4h0m0 2.5h0m0.1 0.4h0m0.6-3.4h0m0-0.4h0m0.7 4.7h0m0.4-0.1h0m0.3-0.6h0m0.4-0.4h0m1-2h0m1.3-1.7h0m0.1 3.4h0m0.2 1.5h0m0.1-4.6h0m0 0.5h0m0.9 3.7h0m0-1.5h0m0.2 0.7h0m0.1 0h0m1.4-1.8h0m0.4-1.6h0m2.4 1.1h0m0.6 2.4h0m1.7-2h0m0.3 2.2h0m4.9 1.1h0m0.5-2.9h0m3.8 0.5h0m0.3 1.5h0m2.4-1.8h0m1.5 2.7h0m0.6-2.5h0m1.6-3.2h0m3.4 4.4h0m0.9-4.3h0m1.9 3.7h0m0.1-2.5h0m0.3 1.6h0m1-1.2h0m19.3 0.2h0m7.2 1h0m3.1-0.9h0m2.3-0.9h0m-207.1 7.6h0m3.1 2.9h0m17.3-4.1h0m4.4 0.7h0m4.8-0.7h0m13.8 4.1h0m1.9-3.7h0m1 3.5h0m0.2-2.2h0m3.4 0.6h0m0.5-1.7h0m0.2 0.4h0m4.8 0.1h0m0.7-2.5h0m2.9 0.7h0m1.8 0.6h0m0.8 2.2h0m0.7-1.8h0m3.7 1.8h0m0.3-2.7h0m0.3 0.7h0m0.1 4h0m0.3-2.6h0m0.5 1.9h0m0.3-1.2h0m0.2-1.3h0m0-0.5h0m0.2-0.9h0m0.1-0.9h0m0.2 1.7h0m0.4 2.2h0m0.1-0.1h0m0.3-0.3h0m0.5 0h0m0 1.4h0m0.4-4.9h0m0.3 1.4h0m0 1.3h0m0.3 0.3h0m0.3 1.5h0m0.1-1.5h0m0.6 0.8h0m0.2 1h0m0.1-4.4h0m0.2 2.3h0m0.1-1h0m0.3 3.1h0m0.4-4h0m0 1.7h0m0.4-2.1h0m0.2 0.2h0m0.2 4.9h0m0.3-0.7h0m0.6 0.5h0m0-1.6h0m0.7-2.3h0m0.1-1.5h0m0 4.4h0m0.2 1.4h0m0.3-3.7h0m0-2.1h0m0.1 2.1h0m0.1 1.3h0m0-1.1h0m0.1 2.7h0m0.1-0.3h0m0-3.9h0m0.5 4.3h0m0.4 0.5h0m0.3-0.7h0m0.3-3.2h0m0.1 3.9h0m0.5-3h0m0.2 0h0m0.1 2h0m0.1-0.8h0m0 1.9h0m0.2-3.5h0m0.2 3.2h0m0-1.4h0m0.9 0.8h0m0.4-0.5h0m0-3.7h0m0 0.1h0m0.4 1.6h0m0-1.3h0m0.1 3.5h0m0.2-2h0m0.5-0.9h0m0.5-1.1h0m0-0.2h0m0.1-0.2h0m0.3 2h0m0 2.8h0m0.1-1.1h0m0.4-0.7h0m0.1-0.7h0m0-0.3h0m0.3-0.6h0m0.1 1.5h0m0.2-0.1h0m0.1 1.6h0m0 0.2h0m0.3 0.7h0m0-1.8h0m0-2.4h0m0.1 0.3h0m0-1.5h0m0.1 3.3h0m0.2 0.6h0m0.5-1.1h0m0-1.6h0m0.2 1.1h0m0 3.5h0m0-3h0m0.2 0.6h0m0 1.6h0m0.5-4.3h0m0.1-0.4h0m0.1 2.7h0m0 2.2h0m0.1 0.3h0m0-4.2h0m0.1-0.4h0m0 2.2h0m0.1-1.7h0m0-1h0m0.3 1.9h0m0 1.5h0m0-1.6h0m0.2 1.5h0m0-1.9h0m0.2-1.8h0m0.1 0.5h0m0 3.6h0m0.1-2h0m0.1-0.6h0m0.1 3.8h0m0.1-0.2h0m0.2-5.1h0m0.2 3.4h0m0 0.5h0m0.2 1h0m0-0.2h0m0.1-1.4h0m0.2-2.2h0m0 2.2h0m0 0.7h0m0.1 1h0m0.2-2.8h0m0.1-0.3h0m0.2 2.4h0m0.1-2.7h0m0-0.3h0m0.1 0.1h0m0.3-0.5h0m0 4.6h0m0.1-3.8h0m0.1 0.3h0m0 3.7h0m0.1-1.5h0m0-1.6h0m0.2 2.7h0m0.2-3.8h0m0 2.3h0m0.1-1.7h0m0.1 2.5h0m0-4.3h0m0.2 2h0m0.2-2.2h0m0.4 4.5h0m0.2-2.8h0m0.1 0.8h0m0-1.4h0m0.3 0.3h0m0 0.1h0m0.3 1.3h0m0.2 1.1h0m0.1-3h0m0 0.7h0m0-1.6h0m0.1 5.3h0m0.3-4h0m0.1-0.2h0m0.1 4h0m0 0.1h0m0.2-3.5h0m0-1.5h0m0.1 0h0m0 0.9h0m0.1 2h0m0 1.1h0m0.1-3.5h0m0.1 2.9h0m0.1-0.2h0m0-1.2h0m0.5-0.6h0m0 3.3h0m0.1 0.6h0m0-3h0m0.1 3.2h0m0.3-3.7h0m0 0.5h0m0-0.7h0m0.3 0.8h0m0 3h0m0-1.7h0m0.2-1.1h0m0.1 1.1h0m0.3-4.1h0m0.1 4.8h0m0 1.1h0m0.1-0.9h0m0-4.4h0m0.1 0.9h0m0-1.3h0m0.1-0.3h0m0 1h0m0.1 4.6h0m0-2.4h0m0.1 2.7h0m0.1-1.6h0m0-1.8h0m0-1h0m0.1 1h0m0.2 1.1h0m0.1 1.8h0m0-1.4h0m0-1.9h0m0.1-1.5h0m0.1 3.7h0m0.1-3.1h0m0.1-0.2h0m0 2.9h0m0.1 1.2h0m0.1-2.7h0m0 2.7h0m0.1 0.1h0m0.4 0.3h0m0.3-0.1h0m0-5.3h0m0 2.2h0m0.1 0.6h0m0-2.3h0m0.1 3.4h0m0.1-3.9h0m0 5.9h0m0.1-0.5h0m0-1.7h0m0-2.7h0m0.6 1.4h0m0.2 0.9h0m0-0.3h0m0 0.4h0m0.1 2.3h0m0-4h0m0 0.2h0m0-0.2h0m0.2-1.2h0m0.1 4.5h0m0.1-2.2h0m0.1-1.8h0m0-0.6h0m0.1-0.5h0m0 0.4h0m0 5.5h0m0.1-5.5h0m0.1 4.5h0m0.1-0.9h0m0.1-0.6h0m0-2.8h0m0 1.1h0m0.2 1.9h0m0.1-1.4h0m0.2-1.2h0m0 0.6h0m0.1 1.8h0m0 1.3h0m0.1-3.1h0m0.1 1.7h0m0.5 2.7h0m0.1-4h0m0.2-0.3h0m0 2h0m0-0.3h0m0.1-0.2h0m0 0.3h0m0-2.6h0m0 4.6h0m0.1-4.5h0m0.1 3.3h0m0.3-1.6h0m0 1.3h0m0-0.7h0m0.1-2.9h0m0.1-0.2h0m0 1.9h0m0.1 2.2h0m0-1h0m0.2 2.2h0m0-2.2h0m0.1 0.1h0m0.2 2h0m0-0.2h0m0-2.7h0m0-0.1h0m0 0.4h0m0.1 3h0m0.1-0.5h0m0.1-0.2h0m0-3.2h0m0.1 2.6h0m0.1 1.4h0m0.1-0.7h0m0-2h0m0.1-2.3h0m0 0.9h0m0-0.9h0m0.1 1.8h0m0 2.1h0m0.2-3.5h0m0.1 2.7h0m0-3.7h0m0 4.5h0m0.4-2.4h0m0 0.4h0m0 2.4h0m0.2-3.5h0m0 0.2h0m0.1-0.1h0m0.2-0.4h0m0-0.5h0m0.1 0h0m0.3 1.9h0m0-0.8h0m0.1-1.8h0m0 3h0m0.1 2.8h0m0.2-1.2h0m0.2 0.7h0m0.1-4.3h0m0 3.6h0m0.2-2.6h0m0 0.8h0m0.2-2.6h0m0.3 2.4h0m0 2.3h0m0-1.1h0m0-1.4h0m0-1.3h0m0.1 0.2h0m0-0.8h0m0 1.2h0m0.1 2.6h0m0-2.5h0m0 1h0m0.1 0.2h0m0.2-2.8h0m0 3.9h0m0.1-0.5h0m0 2h0m0.1-5.4h0m0 5h0m0.3-2.6h0m0-1.8h0m0.1 1.6h0m0.2-1.9h0m0.1-0.6h0m0.1 3.5h0m0.1 1.1h0m0.2-0.4h0m0 0.5h0m0.1-0.6h0m0.2 1.7h0m0.1-4.4h0m0 3h0m0.2-3.4h0m0 2.9h0m0.3 1.5h0m0-5.2h0m0 0.8h0m0.1 3.8h0m0.2 0.7h0m0.1-3.7h0m0 0.6h0m0.2 0.4h0m0-2.7h0m0.1 1.2h0m0 1.2h0m0.3 0.5h0m0 0.6h0m0-1h0m0.1 2.5h0m0-4.6h0m0 0.1h0m0.2 4.2h0m0.3-3.7h0m0.2 3h0m0.3 0.8h0m0-4.9h0m0.3 2.9h0m0.1-2.7h0m0.3 0.3h0m0.2 0.7h0m0.1 1.9h0m0.1-2.7h0m0 5.3h0m0.4-1.7h0m0.3 0.2h0m0.2-3.5h0m0.2 1.9h0m0 1.3h0m0.1 0.5h0m0.1-3h0m0.1-0.5h0m0 4.1h0m0.1-1.6h0m0.1 0h0m0.1-1.3h0m0.1 1.4h0m0.3-1.3h0m0.4-0.9h0m0.2 0.7h0m0 2.3h0m0.2 0.6h0m0.2-3.6h0m0.3-0.3h0m0.1 1.6h0m0.3-2.2h0m0.2 5h0m0-0.1h0m0.1-5.2h0m0 1.7h0m0 1.8h0m0.1-3.2h0m0.1 0.3h0m0 0.8h0m0.3-0.8h0m0.4 3.3h0m0.1-1.6h0m0.3-2.3h0m0.3 1.6h0m0 4h0m0-4.1h0m0-0.7h0m0.1 4.8h0m0-3.5h0m0.1-0.7h0m0 0.6h0m0.3-0.9h0m0.1-1.2h0m0.1 4.7h0m0.1-3.4h0m0.1 2h0m0.1 0.6h0m0.2-3.4h0m0.1 4h0m0-0.3h0m0.1-0.8h0m0.3 2.1h0m0.1-3h0m0.2 1.4h0m0.4-0.5h0m0.1-1.2h0m0.2 0.4h0m0.5-0.7h0m0.1-0.4h0m0.2 1.5h0m0.7 2.6h0m0.2-0.6h0m0 0.6h0m0-0.1h0m0.1-1.9h0m0 0.1h0m0.2-2.2h0m0 2.2h0m0.4 1.8h0m0-3.9h0m0.8 3.2h0m0.5-1h0m0.1-0.3h0m0 1.1h0m0.1 0.3h0m0.1-3.2h0m0.2 0.8h0m0.1-0.1h0m0.3 0.2h0m0.5-0.8h0m0.1-0.6h0m0-0.8h0m0.2 0.1h0m0.1-0.4h0m0.3 4.9h0m0.1-0.8h0m0.4-3.3h0m0.1 3.5h0m0.1 0.1h0m0.1-2.7h0m0.9-0.3h0m0.1-1.2h0m0.2 3.1h0m0 0.5h0m0.1-0.8h0m0.3 1.6h0m0.1-4.3h0m0.1 2.3h0m0-1.2h0m0.2 3.5h0m0-0.9h0m0.4-0.3h0m0 0.9h0m0.1-3.6h0m0.1 2h0m0.2 0.8h0m0.2-0.1h0m0.3-3.3h0m0-0.4h0m0.1 0h0m0 3.2h0m0.1-2.8h0m0.1 2.4h0m0 2.2h0m0.1-2.5h0m0.1 2h0m0.5-2.6h0m0.3 1.9h0m0.1-0.1h0m0 1.3h0m0.2-0.9h0m0.2-2h0m0.2 1h0m0.1-0.6h0m0.1 0.1h0m0.6 1h0m0.2-2.6h0m0.1 3.3h0m0.1-3.5h0m0.1 3.7h0m0.2 0h0m0.2-2.9h0m0.1-0.8h0m0.3-0.7h0m0.1 4.7h0m0.3-0.5h0m0.1-1.4h0m0.3 1.9h0m0.1-4.5h0m0.2 3.4h0m0.1-3.5h0m0.1 1.8h0m0.1 2.6h0m0.4 0.3h0m0.2-1.6h0m0.7-1.8h0m0.3 2h0m0.2-3.1h0m0.3 4.3h0m0.8-0.3h0m0.1-1.8h0m0.6-2.2h0m0.9 1.6h0m0.6 0.5h0m0.1 2.3h0m0.9-2.1h0m0.5-2.4h0m0.1 5.2h0m1.4-2.3h0m0.2-1.2h0m0.6 3h0m0.1-3h0m0.5-0.4h0m0.7 1.1h0m0.2 3h0m0.7-1.8h0m0.7-1.3h0m0.1-1.8h0m0.1 4.8h0m0.3-0.9h0m0.2-0.9h0m0.5-2.7h0m0.1 4.5h0m0.3-3.3h0m1.8 1.3h0m3.7-1.2h0m0.9 0.9h0m1.3 1.9h0m0.1-2.5h0m1.2-1.4h0m0.6 1.1h0m0.1 2.1h0m0-2.7h0m0.5-1.4h0m0 5.3h0m1.3-5.6h0m0.2 4.1h0m0 1.2h0m0.3-2.7h0m0.6-2.1h0m0.2 5.1h0m0.3-4.9h0m1.5 2.3h0m1.2-1.2h0m0.6-0.6h0m0.6 3.3h0m0.7-4.5h0m0.7 2.8h0m0.1 2.6h0m0.5-2h0m3.3-3.1h0m0.7-0.5h0m1.1 5.6h0m0.1-0.8h0m2.8-2.9h0m0.2 1.6h0m1-2.7h0m0.5 0.5h0m1-0.2h0m7.4 2.2h0m3.1 1.4h0m0.8-2.2h0m0.5-1h0m6.6-1h0m9.6 0.7h0m7.6 1.8h0m5.5-2.4h0m8.3 0.9h0m-188 6.4h0m0.1 2h0m5.7 0.4h0m0-3.4h0m0.6-0.3h0m0.1 3.8h0m1.5 1.5h0m1.5-1.2h0m0.3-2.4h0m2.9-1.6h0m1.2 4.4h0m0.2-1.3h0m0.5-2.3h0m0.5-1.6h0m1.5 5.4h0m1.1-3.8h0m0.1 4.2h0m0.1-1.1h0m0.5-1.8h0m1.8-1.1h0m1 1.5h0m0.1 2.2h0m0.2-1.4h0m0.2 1.4h0m0.2-4.2h0m0 1.8h0m0.6 2.6h0m0.7-5.2h0m0 4.8h0m0.5 0.2h0m0.5-1.3h0m1.5 0h0m0.2 0.5h0m0.3 0.6h0m0.3 0.6h0m0.2-2.7h0m0.2 2.5h0m0.2-4.3h0m0.2 2.8h0m0.1-0.2h0m0.4-3.9h0m0.6 2.2h0m0.2-1.3h0m0.1 4h0m0-4.9h0m0.4 1.5h0m0.2 0.4h0m0.2-1.3h0m0 0h0m0.3 0.9h0m0 4.2h0m0.1-5.2h0m0.1 2.1h0m0 2.5h0m0.1 0.6h0m0-2h0m0.2-1.9h0m0.2 3h0m0.2-0.2h0m0-0.1h0m0-0.4h0m0.3-2.4h0m0.7-0.7h0m0.3 3.1h0m0.1-2.7h0m0.4 0h0m0.1-0.9h0m0.1 2.2h0m0.2 1.6h0m0.3-4.3h0m0.1 4.6h0m0-4h0m0.1-0.3h0m0.4 2.3h0m0.1 1.2h0m0.2 1.8h0m0.1-3.3h0m0.1-1.3h0m0.5-0.7h0m0.7 1.7h0m0 2.1h0m0.2-2.6h0m0.3-0.4h0m0 2.1h0m0.3-2h0m0.2 4.6h0m0.2-5h0m0 4.1h0m0.1 0.9h0m0-5.7h0m0.1 2.1h0m0.1 0.6h0m0-2.2h0m0.1 4h0m0.4-3.9h0m0.9 2.1h0m0 2.8h0m0 0.2h0m0.2-3h0m0.3 1.5h0m0 0.4h0m0-1.6h0m0.3 1.9h0m0-4.5h0m0 0.7h0m0.3 1.3h0m0.2-0.2h0m0.1 3.3h0m0.1-4.2h0m0.4 0.6h0m0.1 0h0m0-1h0m0.4 0.5h0m0-0.4h0m0.1-0.7h0m0.1 3.7h0m0.4 0.9h0m0-0.4h0m0.2-1.4h0m0-1.7h0m0.1-1.5h0m0 1.6h0m0.2 2h0m0-2.3h0m0.1 3.5h0m0.3 1h0m0.1-0.8h0m0.1-0.6h0m0.1-4.5h0m0 5.6h0m0.1-0.2h0m0.1-1.1h0m0.1-1.8h0m0.2 0.2h0m0.3-1h0m0.2 0.3h0m0.3-0.2h0m0-1.3h0m0 4.4h0m0-4.8h0m0.2 3.8h0m0-0.8h0m0.2-1.5h0m0.3 0.7h0m0 1.7h0m0.1-1.3h0m0 2.9h0m0.2-3.2h0m0 1.5h0m0.1-0.3h0m0 1.8h0m0.2-1.1h0m0.2 0.8h0m0 0.8h0m0.3-0.4h0m0-2.3h0m0.1 2h0m0.1-4.3h0m0.3 1.5h0m0.1-2.3h0m0.2 5.4h0m0.2-1.8h0m0.2 0.7h0m0.3 0.2h0m0.1-3.4h0m0 1.5h0m0.1 1.6h0m0.1 1.6h0m0-2.2h0m0.1-2.5h0m0.1 3.1h0m0-2.1h0m0.1-0.6h0m0 0.7h0m0 3.1h0m0.1-4.5h0m0.1 3.1h0m0-3.4h0m0.5 4.5h0m0.1-0.3h0m0.2-2.1h0m0 2.2h0m0.7 0.4h0m0.1-2.2h0m0.1-2.7h0m0.1 1.7h0m0.3-1.2h0m0.1 4.3h0m0-3.8h0m0 0.1h0m0 2.9h0m0-2.4h0m0 2.1h0m0.1 0.9h0m0-2.5h0m0.1 3h0m0 0.1h0m0.2-4.7h0m0 4.3h0m0.2-2.6h0m0.1 0.3h0m0.1 1.1h0m0-3.4h0m0.2 1.5h0m0-0.5h0m0.2 1.4h0m0.1 1.8h0m0.1-1.1h0m0.1 0.9h0m0.1-3.4h0m0 4.3h0m0.1-2.8h0m0.3-1h0m0.2 4.2h0m0.1-4.5h0m0 0.3h0m0.1-1.7h0m0.1 1.3h0m0 0.6h0m0 2.4h0m0.2 0.1h0m0.1-4h0m0.2 4.8h0m0.1-1.1h0m0-0.2h0m0.2-0.3h0m0.1-3.4h0m0 1.2h0m0 4.6h0m0-0.9h0m0.2-4.2h0m0 1.5h0m0.1-2.2h0m0.1 3.4h0m0.5 0.4h0m0.2 1.5h0m0.1-4h0m0 0.9h0m0.2-1.6h0m0.2 4.4h0m0.1-4.9h0m0 2.3h0m0.2 1.6h0m0.1 0.6h0m0-2.5h0m0 3.3h0m0.2-0.9h0m0.2 0.9h0m0-1.4h0m0.2-1.4h0m0.1 0.8h0m0 2h0m0.5-4.3h0m0 2.5h0m0 0h0m0 1.2h0m0.3-4.3h0m0.3 3.4h0m0.1 1h0m0.3-0.1h0m0-4.3h0m0.1 4.3h0m0-1.7h0m0.1-2.5h0m0 2h0m0.1-1.5h0m0.1 2.8h0m0-0.7h0m0 1.4h0m0-1.8h0m0.2 1h0m0-2.9h0m0-1.1h0m0 2.6h0m0 1.6h0m0.4-0.7h0m0.3-1.3h0m0.1 0.5h0m0.2 0.2h0m0 1.3h0m0.1 0.7h0m0 1.1h0m0.1-5.2h0m0 1.3h0m0.1 1.7h0m0.1 0.8h0m0.1-3.5h0m0 0.7h0m0.1 3h0m0-3.6h0m0.1 2.6h0m0-3h0m0 0.6h0m0.1 1.9h0m0.1-3.2h0m0.1 4h0m0.1-0.8h0m0.2 1.4h0m0.2-0.8h0m0.1-3.2h0m0 4.5h0m0 0.3h0m0.2 0.3h0m0.1-1h0m0-1.2h0m0.1-1.6h0m0.1 0.1h0m0 2.5h0m0-2.6h0m0 2.8h0m0.3-3.1h0m0.1 2.1h0m0 0.5h0m0-0.2h0m0.1-0.4h0m0-2.3h0m0-1.1h0m0.1 5.2h0m0-3.4h0m0-1.5h0m0.1 0.3h0m0 0.3h0m0.1 4.8h0m0.3-4.4h0m0 1.9h0m0.1-1.9h0m0.2 1.8h0m0 0.4h0m0.1-2.5h0m0.1 4.6h0m0.1-0.9h0m0.1-2.9h0m0.1-0.1h0m0.1 3.3h0m0.1-5h0m0.2 2h0m0.1 0.1h0m0-1.7h0m0-0.4h0m0.1 0.6h0m0 5.1h0m0.1-1.4h0m0-1.6h0m0.1-0.2h0m0 0.2h0m0.1 2.5h0m0-0.8h0m0.1-1.2h0m0-0.9h0m0.1-2h0m0.1 3.6h0m0.1 1.2h0m0-2.9h0m0.2 1.4h0m0.1 1.7h0m0-3h0m0.1 0.4h0m0.1-2h0m0 1h0m0.3 1.5h0m0.2-1.6h0m0.1-1.3h0m0.1 2.4h0m0 0.8h0m0.4-2h0m0.1 2.6h0m0 0.2h0m0.1 0.3h0m0 0h0m0.1-0.6h0m0-0.1h0m0.1-2.2h0m0.2 1h0m0-2.2h0m0 0.7h0m0.1 0.2h0m0 4h0m0.1-2.1h0m0.4-0.7h0m0.1 2h0m0-4.3h0m0.1 2.6h0m0-2.8h0m0.3 4.1h0m0.1-3.5h0m0-0.9h0m0.2 0.9h0m0 4.6h0m0-1.7h0m0-3.8h0m0.1 2.6h0m0.2 0.7h0m0.4 1.8h0m0.1 0.1h0m0-1h0m0.2-3.7h0m0.3-0.3h0m0.1 4.2h0m0-3.1h0m0.1 1.9h0m0.1 1.4h0m0-4.5h0m0 0.9h0m0.1 1.4h0m0.1 0.3h0m0.1 3h0m0.1-5.6h0m0.1 4.1h0m0.1-3.7h0m0.1 1.4h0m0.1 1.9h0m0 1.6h0m0.1-1.1h0m0.1-0.2h0m0.1 0.2h0m0.2 0.6h0m0.3-4.6h0m0.1 3.5h0m0 0.5h0m0-0.6h0m0.2-0.2h0m0.2-3.4h0m0 5.3h0m0-2.3h0m0.3-1.6h0m0 1.5h0m0-0.4h0m0 1.8h0m0.2 0.7h0m0.2-1.9h0m0.1-2.4h0m0 1.6h0m0.1 2.6h0m0.1 0.1h0m0-3.7h0m0-0.1h0m0.2-0.4h0m0.5 4.2h0m0.1-0.1h0m0.1-4.5h0m0 1.8h0m0.3-1.6h0m0 1h0m0.2-0.1h0m0.1 1.7h0m0.1 1.7h0m0 0.5h0m0.2-3.4h0m0.3 2.2h0m0.1 0.5h0m0-2.4h0m0 1h0m0.1 2.2h0m0.3-2.8h0m0.1-0.4h0m0.1 2.5h0m0.1 0.3h0m0.2-3h0m0.1 1.3h0m0.2-2.8h0m0.1 0.9h0m0.2-1.5h0m0 0.8h0m0.2 1.2h0m0.2 1.7h0m0.3-3.9h0m0 5h0m0.3 0.7h0m0-1.9h0m0.1-3.6h0m0.5 0h0m0.1 1.5h0m0 3.4h0m0.7-4.6h0m0 2.1h0m0.3 0.4h0m0-1.3h0m0.1-1.6h0m0 2.2h0m0.2 3.5h0m0.1-5.2h0m0.1 3.5h0m0-1.6h0m0.5-1.3h0m0 1.4h0m0.1 2.6h0m0.2-2h0m0.5-1.2h0m0.4 3h0m0 0.2h0m0.2-3.5h0m0 0h0m0.7-1.5h0m0.2 1.6h0m0.1 1.1h0m0.2-2.4h0m0.2 3.3h0m0.2-0.1h0m0 1.9h0m0.1-1.1h0m0-1.2h0m0.1 2.3h0m0-2.9h0m0.1 3.1h0m0 0.1h0m0.2 0.1h0m0.7-4.1h0m0.2-0.1h0m0.3 0.3h0m0.1-0.2h0m0.1-1.8h0m0.2 1h0m0.1 2.5h0m0.2 1.1h0m0.1 0.1h0m0.1-0.8h0m0 1.1h0m0.1-0.4h0m0.1-2.2h0m0.3-2h0m0.1 0.2h0m0.2 0.6h0m0 4.6h0m0.1-2h0m0-1.3h0m0.1 2.5h0m0.1-4.8h0m0.2 3.3h0m0 1.5h0m0.1-4.9h0m0.1 3.7h0m0.3-2.8h0m0.2 3h0m0.1-0.4h0m0.2 1.6h0m0.5-4.8h0m0.2 0.7h0m0.6 0.5h0m0.1 3.3h0m0.1 0.9h0m0.2-4h0m0.3 0.3h0m0.1 1.4h0m0.6-0.3h0m0.1-2.7h0m0.1 2.9h0m0-0.6h0m0-1.3h0m0.4 0.7h0m0 1.7h0m0.1-0.3h0m0.1 0.4h0m0.3 0.3h0m0-3.7h0m0.3 3.4h0m0.2-0.6h0m0.1 1.5h0m0.2 0.8h0m0.4-2.1h0m0.6-1.6h0m0.1 2h0m0.2-0.2h0m0.4 0h0m0.5-0.3h0m0 0.3h0m0.1 0.9h0m0.1-0.5h0m0.1-3.6h0m0 0.7h0m0.1 1h0m0.2 1.8h0m0.7-2.2h0m0.5 3.7h0m0.2-3.8h0m0.3 3.7h0m0.1-4.3h0m0.4 2h0m0.1-1.9h0m0.2-0.9h0m0.7-0.4h0m0.3 3.9h0m0.6-3h0m0.1 3.4h0m0.3-1.6h0m0.1 0.9h0m0.8-2.3h0m0.4 4.1h0m0.3-3.3h0m0.1 3.1h0m0.2-1.7h0m0.4 1.1h0m0.7-0.1h0m0.3 1.2h0m0.6-2.2h0m0.4 1.9h0m0.1-3.3h0m0.2 0.7h0m0.9 2.2h0m0.6-0.9h0m0.3-4h0m0.3 3.1h0m0.2 0.8h0m0.6 0.9h0m0.7-3.4h0m0.1 3.3h0m0.5 0.8h0m0.1-4h0m0.5 1.7h0m0.4-2.9h0m0.3 2.8h0m0.6-2.1h0m0 0.6h0m1.1 0.7h0m0.2 2.1h0m1.9-0.9h0m0.1-0.4h0m0.4-2.9h0m0 1.5h0m0.9 3.2h0m0.8-4.1h0m1.1 2.4h0m1.2 0.9h0m4.1-3.2h0m0.2 0.2h0m0.6 4.3h0m1.1-0.8h0m8 0.4h0m0.1-1.3h0m1.5-2.8h0m0.7 1.9h0m2.5-2.1h0m1.7 2.2h0m1.9 0.5h0m5.6 1.9h0m0.2 0.4h0m4.3-0.5h0m0.7-0.1h0m8.6-3.6h0m3 1.2h0m0.4-0.4h0m1.6 1.7h0m13.2-1.8h0m-232 8.3h0m47.8-4h0m0.6 4h0m4.1-1.6h0m1-0.2h0m2.1-0.6h0m1.8 1.2h0m4.7-3.5h0m0.1 1.9h0m0.8 2.2h0m0.1 0.2h0m0 0h0m1.3-0.8h0m2.3 0.1h0m0.5 1.3h0m0.3-1.4h0m1.3-0.4h0m0.2-1.4h0m0.3 1.5h0m0.1-0.4h0m3 2.5h0m0.7-0.7h0m0.3-1.3h0m0.4-1.9h0m1.2-0.4h0m0.5 4.8h0m0.1-0.5h0m2.4-1.5h0m0.3 0.3h0m0.2 0.2h0m0.3-3.8h0m0 3.9h0m0.2-4h0m0.1 0.6h0m0.1 4.5h0m1.2-3.1h0m0.1-1.9h0m0.4 2.8h0m0.2-2.4h0m0.2 5h0m1.1-5h0m0.1 1.9h0m0.1-1.9h0m0.4 1.6h0m0.5-1.1h0m0.6 1.5h0m0 0.8h0m0-2.7h0m0 1h0m0.4-0.5h0m0 4.2h0m0.1-4.1h0m0-1.5h0m0.4 5.1h0m0.4-1.3h0m0.4 1.6h0m0.1-5.3h0m0 4.6h0m0.1-3.7h0m0.3 1.6h0m0.1-0.1h0m0-1.6h0m0 2.7h0m0.1-1.2h0m0.6 1.4h0m0.3 1.3h0m0.2 0.3h0m0-1.2h0m0.1 1.6h0m0.1-0.5h0m0.4-0.1h0m0.1-1.2h0m0-3.1h0m0.1 2h0m0.1 1.2h0m0.3-3.2h0m0.5 0.3h0m0.4 2.2h0m0.3-2.2h0m0.2 2.4h0m0-2.1h0m0.3-0.6h0m0.5 1.9h0m0.2-2.2h0m0 1.1h0m1.4 3.2h0m0.1 0.4h0m0-3h0m0.2 2.6h0m0.1-3h0m0.1 3.4h0m0.1 0.4h0m0-1.6h0m0.2-2.4h0m0.1 1.2h0m0-0.1h0m0.1-2.2h0m0.1 1.7h0m0.2-0.4h0m0.2 1.8h0m0.1-0.8h0m0.1 2.4h0m0.1 0h0m0-1.3h0m0.5-4.1h0m0 3.9h0m0.1-3.5h0m0.2 0h0m0.3 1.8h0m0.1 2.2h0m0-4h0m0 2.7h0m0-2.7h0m0 0.5h0m0.1 2h0m0.1-0.2h0m0.1 0.6h0m0.3-3h0m0 1.8h0m0.1 2.7h0m0-1.1h0m0.2-0.3h0m0.9 0.7h0m0.1-2.7h0m0 1.7h0m0.1 1.3h0m0 0.5h0m0.1 0.7h0m0.2-4.3h0m0.1 1.5h0m0.1 2.2h0m0.3 0.9h0m0.1-1.1h0m0.1-2.1h0m0-2.2h0m0.1 5.5h0m0.1-5.2h0m0.1 0.5h0m0 4.5h0m0-4.1h0m0-0.3h0m0.1-0.1h0m0.1 0.3h0m0 2.9h0m0.1-1.8h0m0.1-2.2h0m0.5 4.9h0m0-4.7h0m0.1 4.5h0m0.1-0.6h0m0.2-0.9h0m0.1 2h0m0.4-3.2h0m0.1 0.2h0m0.3-1.5h0m0.1 2.3h0m0.1 1.7h0m0-4.9h0m0.2 0.7h0m0 2.6h0m0.1 0.1h0m0.4-1.5h0m0 3.3h0m0.1-0.6h0m0-4.8h0m0.1 4.9h0m0 0.2h0m0-2.5h0m0.1-0.3h0m0.2 1h0m0-2h0m0.3-0.8h0m0.3 2.7h0m0-1.3h0m0 1.7h0m0.2-3.1h0m0 3h0m0.2-0.6h0m0 0.8h0m0.2-3.5h0m0.1 0.4h0m0 4.1h0m0.3-4.2h0m0 0.6h0m0 4.7h0m0.1-5.3h0m0 3.3h0m0.1-2.4h0m0-0.6h0m0.4 1.8h0m0.2-2.7h0m0.1 4h0m0.1-3.9h0m0 5.1h0m0.1 0.4h0m0.1-1.1h0m0.1-4h0m0 4h0m0-4.3h0m0.1 5.7h0m0-0.8h0m0.2-2.2h0m0 1.5h0m0.1-3.2h0m0 2.9h0m0.8-2.6h0m0 3.2h0m0.1-4.4h0m0 4.7h0m0.1 0.7h0m0.3-5.1h0m0 3.5h0m0.1 1.4h0m0.1 0.1h0m0 0.3h0m0.1-5.1h0m0.1 1.6h0m0.1-0.4h0m0 3.6h0m0.1-3.3h0m0.1 1.7h0m0 0.2h0m0.2 0.9h0m0-2.1h0m0.1-0.4h0m0.2 0.9h0m0 1.1h0m0.1-3.4h0m0-0.7h0m0.1 2.6h0m0-2.4h0m0 0.4h0m0.3 1.5h0m0 1.6h0m0.1 0.7h0m0.2-4.2h0m0.1 0.1h0m0.1 4.5h0m0.4 0.6h0m0.1-4.8h0m0 4.6h0m0.3-2.7h0m0 1.5h0m0-3.1h0m0.1 3.4h0m0.1-1.3h0m0.3-3.4h0m0 5.3h0m0.1-2.8h0m0 0.3h0m0.1-0.1h0m0.3 2.4h0m0.1-4.6h0m0.4 0.8h0m0.1 1.7h0m0-2.7h0m0.1 0.4h0m0 2.7h0m0.2 1.6h0m0-1.8h0m0.1-0.3h0m0.1-2.9h0m0 0.8h0m0 0.9h0m0.1-1.3h0m0 2.3h0m0.1-1.3h0m0.1-0.8h0m0 4.1h0m0-4.2h0m0 0h0m0.1-0.6h0m0.3 1.6h0m0 3.7h0m0.1-1.4h0m0-1h0m0.3-1.2h0m0 2.5h0m0.3-2.5h0m0 3.6h0m0-3.1h0m0.1-1.4h0m0 2.1h0m0-2.2h0m0.2 2.3h0m0.1 0.2h0m0 1.1h0m0.3 0h0m0 0.8h0m0.1 0.1h0m0.3-1.5h0m0-1.4h0m0.1-0.5h0m0.1 3.8h0m0.1-4.7h0m0 1.8h0m0.3 0.6h0m0.1 2h0m0-5h0m0.2 1.4h0m0.1 2.9h0m0.1-1.5h0m0 0h0m0.2 1.2h0m0.2 0h0m0-1.9h0m0.1 0.4h0m0 0.4h0m0 1.3h0m0-0.2h0m0-3.8h0m0.1 3.5h0m0-1.6h0m0.2-1.5h0m0.1 3.9h0m0.1-0.5h0m0 0.5h0m0.2 0.1h0m0.1-4.6h0m0 5.6h0m0-5.2h0m0.1 3.1h0m0-3.1h0m0.1 3h0m0 0.8h0m0-3.1h0m0.1 0.8h0m0-2.1h0m0 4.5h0m0.1-4.4h0m0 3.9h0m0.1-2h0m0.1 2.6h0m0.1-3.1h0m0.1 1.7h0m0.1 0.8h0m0.1-3.8h0m0.1 5.5h0m0-0.4h0m0-0.9h0m0.1-0.2h0m0-4.2h0m0.1 2.9h0m0-2.8h0m0 5h0m0.1 0.3h0m0-0.1h0m0-2.3h0m0.1 0.3h0m0 2.2h0m0 0.2h0m0.1 0h0m0-0.7h0m0.1-0.8h0m0-0.5h0m0-2.2h0m0.1 0.8h0m0-0.1h0m0.1 1.4h0m0.1-1h0m0.2-1.8h0m0 2.7h0m0-3.1h0m0.1 1.4h0m0 2.2h0m0.1 0.6h0m0.1-0.5h0m0 0.7h0m0.2-0.1h0m0.1 0h0m0.3-1.1h0m0.2 0.7h0m0-0.9h0m0.2 1.3h0m0-0.3h0m0.2-0.7h0m0-3.3h0m0 1.3h0m0.2 0.9h0m0.1 0.1h0m0.1-1.9h0m0.2 3.4h0m0-3.3h0m0 4.8h0m0.4-4h0m0 3.4h0m0.1-5.2h0m0.1 5.6h0m0.1-0.3h0m0.1-4.6h0m0 3.6h0m0.1-2.1h0m0.1 2.8h0m0.2 0.1h0m0.2-2h0m0.1 0.3h0m0.2-2.6h0m0-0.2h0m0.1 3.7h0m0 0.9h0m0.1-0.1h0m0-0.9h0m0 0.2h0m0-1.8h0m0.2 1.6h0m0.2 1.7h0m0-0.2h0m0.1-3.1h0m0.4 2.7h0m0.2-5.2h0m0.2 0.1h0m0.1 2.4h0m0.4 1h0m0 1.4h0m0-1.3h0m0.1 0.2h0m0.1-3.9h0m0 1.1h0m0 2.8h0m0.1 0.7h0m0.1-1.2h0m0-1.7h0m0.1 3.2h0m0.1-2.8h0m0 2.3h0m0.2 1.5h0m0 0h0m0.1-0.1h0m0.2-0.5h0m0.1-2.5h0m0.1 1.7h0m0 0.9h0m0.1-5.2h0m0.1 1.9h0m0-1.6h0m0.1 1.5h0m0 1.6h0m0-2.4h0m0.1-0.8h0m0.1 1.6h0m0.2-1.4h0m0 2.9h0m0.1-0.6h0m0.2 2.9h0m0.1 0.1h0m0-0.8h0m0-4.7h0m0.1 3h0m0.1-2.3h0m0.2 1h0m0.1-0.3h0m0 1.7h0m0-2.9h0m0.1 4.2h0m0.1-4.1h0m0 4.4h0m0-4.3h0m0.2 3.9h0m0.2-0.9h0m0.4-1.1h0m0 2h0m0.2 0.5h0m0.3-4.8h0m0.1 2.9h0m0-0.2h0m0.1 1h0m0.2-1.6h0m0.2 3.4h0m0-3.3h0m0.1 0h0m0-0.6h0m0 4h0m0-6h0m0 4.3h0m0.2 0.4h0m0 0.3h0m0.4-2.1h0m0-2.4h0m0 5.3h0m0-0.8h0m0-1.3h0m0.4-3.3h0m0.1 3.5h0m0.2 0.1h0m0 1.2h0m0-3h0m0.5 0.3h0m0.2 3.3h0m0.1-3.2h0m0.2 0.2h0m0-1.2h0m0.1 2.3h0m0.1-1h0m0 1.3h0m0.1-2.5h0m0 0.6h0m0.2 3.4h0m0.2-2.8h0m0.1-1.4h0m0.2 2.7h0m0.2-1.4h0m0.1-1.3h0m0 3.8h0m0 0.5h0m0.2-3.8h0m0 2.9h0m0.2 0.7h0m0-2.4h0m0.4-2.9h0m0.1 3.5h0m0.2-1.1h0m0-1.8h0m0.1 0.1h0m0 3.5h0m0.2 1.3h0m0-0.5h0m0.2-0.8h0m0.1 0.4h0m0.2-2.7h0m0-0.1h0m0.1-0.9h0m0.1 2h0m0.1 2h0m0.1 0h0m0.2-5.2h0m0.1 2.3h0m0 3.2h0m0 0.1h0m0.2-4.8h0m0.2 0.1h0m0 1.4h0m0.2 3.4h0m0.2-2h0m0-3.2h0m0.1 1.2h0m0.3-0.6h0m0.1-0.2h0m0.1 4.2h0m0.3-1.7h0m0.1 1.6h0m0-1.2h0m0-3.1h0m0.3 1.9h0m0.1 0.8h0m0-3.3h0m0.1 3.9h0m0-0.5h0m0.1-1.9h0m0 4.1h0m0.3-4.9h0m0.1 0.9h0m0 0.1h0m0.1 4h0m0-2.2h0m0.1 0.4h0m0.2 0.4h0m0-0.9h0m0.2 0.5h0m0-1.1h0m0-0.4h0m0.4-0.2h0m0.1-0.2h0m0.3 1.8h0m0.1 1.9h0m0.2-2.3h0m0.1 0.7h0m0.3 1.5h0m0-3.5h0m0.1-1.1h0m0.3 0h0m0 3.8h0m0-4.9h0m0.2 4.2h0m0.1-3.3h0m0.1 3.4h0m0.1-2.4h0m0.6 0.9h0m0-2.1h0m0.3 1.2h0m0.7 2.5h0m0.1-0.6h0m0.2-0.2h0m0-0.5h0m0.2 0.2h0m0.5-1.5h0m0.2 4h0m0.5-2h0m0.1-2.4h0m1.3-0.5h0m0.1 1.9h0m0.1-2.4h0m0.1 3.6h0m0.5-2.3h0m0.7 0.9h0m0.1-1.7h0m0.2 0.3h0m0.5 2.4h0m0.1-0.2h0m0.1-0.6h0m0.1 1.2h0m0.4-0.4h0m0-2.5h0m0.2 0.3h0m0.2 1h0m0.2-0.1h0m0.4-1.5h0m0.7-0.4h0m0.4 1.8h0m0.1-1.1h0m0.7 3.5h0m0.3-2.5h0m0.1-1.9h0m0.2 3.3h0m0.8 1.7h0m0.2-3.6h0m0.3-0.6h0m0-0.7h0m1.1 4.8h0m0.2-1.7h0m0.3 1.9h0m0.7-2.2h0m0 0.5h0m0.4 2.1h0m0-2.6h0m0 1.3h0m1.1-3.6h0m0.4 3.4h0m0.8 1.3h0m0.5-0.2h0m0.2-1.6h0m0.3-0.6h0m0-2.6h0m0.7 3.5h0m0.4-3.5h0m0.1 0h0m0.1 3.8h0m0.2-1.7h0m0.4 2.9h0m0.7-1.9h0m0.1 0.1h0m0.2 2h0m0-4.9h0m0.2 4.1h0m0-0.9h0m0.5-3.1h0m0.4 4.3h0m0.7 0.4h0m0.6-3.4h0m0.1 1h0m0.7 2.3h0m0-4.4h0m1 1.8h0m0.4-1h0m0.1 2.3h0m0.1 0.5h0m0.1 0h0m0-4h0m0.2 0.3h0m0.3 0.4h0m0.1 3.2h0m1-2.2h0m0-1.6h0m1.1 4.7h0m0.4-3.3h0m0.7 3.4h0m0.1-2.7h0m1-1.2h0m0.9 3.8h0m0.6 0.4h0m0.7-4.2h0m0.6-0.3h0m0.4 3.7h0m0-1h0m1.4-3.7h0m0.2 5.3h0m1.5-1.9h0m1.5 1.9h0m1.2-2.3h0m4.7-0.3h0m0-2.1h0m2.9-0.5h0m1.8 4h0m2.2-0.3h0m0.8-3.4h0m1.7 4.9h0m4.6-0.8h0m7.6-3.3h0m6.6 3.8h0m1.8-5h0m0.3 5.5h0m11.7-3.7h0m-213.3 6.8h0m37.9 0.5h0m3.3-1.4h0m8.7 2.4h0m1.8-3.3h0m2.5 0.8h0m2.3 3h0m1-0.6h0m1.8-4.1h0m0.3 5.5h0m0.5-4.3h0m0.4 4.2h0m0.1-1.9h0m0.4 0.6h0m0.1-3.2h0m0.5 4.1h0m0.3-0.4h0m0.9-1.3h0m0.3-0.8h0m0.2-1.5h0m0 3.4h0m0-1.4h0m0.1 0.7h0m0.2-0.1h0m0.1-1.2h0m0.7 1.1h0m0.1 2.1h0m0.1-3h0m0 1.1h0m0.6-0.9h0m0.8 0.6h0m0.1 1.7h0m0.2-1.1h0m0.4-2.2h0m0 3.2h0m0.2-2.6h0m0.4-1.8h0m0-0.6h0m0.1 4.7h0m0.1-2.3h0m0.2 0.5h0m0.2-3.1h0m0.2 3.4h0m0.2 1.3h0m0-3h0m0.2 0.3h0m0.4 2.4h0m0-0.4h0m0.1 0.1h0m0.2 0.7h0m0 0h0m0.6 1h0m0.1-5.1h0m0.4 4.6h0m0.1-2.8h0m0 2.5h0m0.8-1.5h0m0.2-0.4h0m0.4-2.9h0m0 0.6h0m0.1 2.5h0m0.3 1.9h0m0-4.1h0m0.1 1.8h0m0.1-2.2h0m0 4h0m0.1-4.6h0m0.1 1.8h0m0 1.7h0m0.1 1.8h0m0.1-4h0m0.1 1.4h0m0 0.3h0m0.3 0.8h0m0 0h0m0.1 1.6h0m0.1-1.7h0m0 1.1h0m0.1-1.5h0m0-2h0m0.2-0.7h0m0.1 2.1h0m0.1-2.5h0m0.1 5.4h0m0.2-1h0m0.2-0.4h0m0.3 0h0m0.3 0.6h0m0-0.6h0m0.2 0.1h0m0-3.1h0m0.2 3.5h0m0-0.3h0m0-0.7h0m0.1-3.6h0m0.1 3.2h0m0.4 0.7h0m0 1.1h0m0-3.6h0m0.5 3.7h0m0-1.8h0m0 1.5h0m0.1-0.3h0m0.2-1.3h0m0.3-1.8h0m0 1.9h0m0 0.6h0m0.1 1.3h0m0.1-5.4h0m0.1 0.4h0m0.1 5.1h0m0-1.3h0m0 0.4h0m0.5 0.7h0m0.1-0.1h0m0.1-5h0m0.1 4.3h0m0-2.8h0m0.1-0.4h0m0.3 2.2h0m0.1 1.1h0m0.1-1.2h0m0.1 0.7h0m0.1 0.4h0m0.2-1.6h0m0.1 0.4h0m0 2.3h0m0.1-4.2h0m0 1.8h0m0.1-0.3h0m0.3-1.8h0m0 3.8h0m0 0.4h0m0.6 0h0m0-3.7h0m0 2.8h0m0.1-3.8h0m0.1 4.9h0m0 0.3h0m0-3.1h0m0 2.5h0m0.1-2.3h0m0 2.1h0m0.1-3.8h0m0 2.4h0m0.1 0h0m0 1.6h0m0.1-5h0m0 3.1h0m0.2-2.4h0m0.1 2.4h0m0.1 1.7h0m0.1-3.9h0m0.2 3.1h0m0-3.4h0m0-0.5h0m0.1 3.2h0m0.2-2.9h0m0.1 2.6h0m0 0.3h0m0.1-2.5h0m0 2.9h0m0.2 0.1h0m0-3.4h0m0.1 1.8h0m0 1.1h0m0.1-1.9h0m0.1 3.6h0m0.1-3.9h0m0 2.1h0m0.2-3.3h0m0 4.8h0m0.1 0.8h0m0.1-5.3h0m0.2 0.5h0m0-0.1h0m0.2 2h0m0.1-0.4h0m0.3-1.2h0m0 2.8h0m0.3-1.3h0m0-1.6h0m0 4.1h0m0.1-2.7h0m0.4 2.4h0m0-4.2h0m0.2 2h0m0 1.3h0m0-2.9h0m0.1 4.1h0m0.2-0.9h0m0-2.3h0m0.1 1.4h0m0.1-2.1h0m0.1-0.7h0m0.1 0.8h0m0.2-0.2h0m0.1 2.6h0m0 0.9h0m0.1-0.1h0m0 0.2h0m0.1-2.9h0m0 4h0m0.1-0.1h0m0.1-4.7h0m0-0.2h0m0.1 3.2h0m0.1-2.5h0m0 1.8h0m0 2.4h0m0.2-3.2h0m0-0.7h0m0.2 0.7h0m0.1 0.6h0m0-1h0m0.1 2.7h0m0-2.3h0m0.2 1h0m0.1 2.2h0m0.3-1.7h0m0.3 0.6h0m0-3.1h0m0.1 0.3h0m0 1.8h0m0.1-2.4h0m0 1.8h0m0.2-2.2h0m0 2.8h0m0.3 1.1h0m0.1 0.5h0m0.2-0.2h0m0.1-2.4h0m0-0.5h0m0.1 2h0m0.1-2.3h0m0 0.8h0m0.1 3.1h0m0-0.4h0m0.1-4.4h0m0 3.8h0m0.1-3.8h0m0 0.5h0m0.2 0.8h0m0.1-0.9h0m0.1 2.4h0m0 0.4h0m0-4.2h0m0.2 1.4h0m0 4.1h0m0.2-1.2h0m0.3-0.7h0m0.1-3.3h0m0.1 5.3h0m0-0.2h0m0.1 0h0m0 0.5h0m0.1-2.8h0m0.2-2h0m0.1 0.9h0m0 1.3h0m0 1.1h0m0.1 0.1h0m0.1-0.7h0m0-0.6h0m0.1 0h0m0-0.2h0m0.1-2.9h0m0 2.1h0m0.1 3.2h0m0.1-2.7h0m0 1h0m0.1 1.5h0m0.1-0.8h0m0.1-0.1h0m0.1-2.2h0m0.1 0.2h0m0.1 2.2h0m0.2-2.8h0m0.1 2h0m0 1.1h0m0.2 0.9h0m0-0.6h0m0-1.6h0m0-0.5h0m0.1 1.7h0m0 0.6h0m0.1-4.8h0m0 2.9h0m0.2 2.4h0m0-2.2h0m0-0.5h0m0.1 1.7h0m0 0.5h0m0.1-2.1h0m0.1 2.3h0m0.1-4.8h0m0.1 0.8h0m0-1.2h0m0 5h0m0.1-3.5h0m0.2-0.1h0m0.1 3.6h0m0.1-0.9h0m0 1h0m0-4.1h0m0.1 4.3h0m0-2.2h0m0 0.6h0m0 1.8h0m0.1-1.5h0m0-0.4h0m0-0.2h0m0 1h0m0.1-4.4h0m0 3h0m0.1 0.1h0m0 0.8h0m0.1-0.9h0m0.1-0.4h0m0 1.5h0m0.1-1.8h0m0.1 2.1h0m0.1 0.1h0m0-1.3h0m0 1.8h0m0.1-4.4h0m0.1 3.4h0m0-1.1h0m0 2.6h0m0-1.8h0m0.1-0.4h0m0.1 0.6h0m0 1.3h0m0.1-3.3h0m0.2-0.9h0m0.1 1.2h0m0 0h0m0.1 2.5h0m0 0.8h0m0-0.9h0m0.1-0.9h0m0-2.1h0m0 3.2h0m0-4.5h0m0.3 3.5h0m0.1-0.7h0m0.1 0.2h0m0.1-3.7h0m0 4.6h0m0-1.4h0m0.1-0.6h0m0 3.4h0m0.1-2.2h0m0 1.4h0m0.1-1h0m0-0.8h0m0.1 0.5h0m0 1.4h0m0-5.1h0m0.1 2h0m0.1-0.1h0m0-2h0m0 4.8h0m0.2-4.3h0m0 3.5h0m0 1.2h0m0.1-0.6h0m0.1-4h0m0 1.7h0m0.1 1.9h0m0-0.4h0m0.1-0.6h0m0 1.9h0m0-0.9h0m0 1.4h0m0.1-2h0m0.1 2h0m0.1-0.4h0m0.1-0.8h0m0.1-3.8h0m0-0.7h0m0.1 5h0m0.1-4.7h0m0.1 4.8h0m0-4.3h0m0.2 3.7h0m0-0.8h0m0-2.3h0m0.1-0.1h0m0.1 3.5h0m0 0.8h0m0.1-2.3h0m0-2.3h0m0.1 2.8h0m0.1-3.2h0m0.2 3.2h0m0-0.1h0m0.1 2h0m0.1-4.8h0m0 3.5h0m0 1.2h0m0.1-1.4h0m0-0.6h0m0 0.3h0m0.2 2h0m0-3.9h0m0.1-1h0m0.1 1.6h0m0-2.1h0m0.2 3.5h0m0-3.5h0m0.1 0h0m0 4.6h0m0.1-1.6h0m0-2.4h0m0-0.2h0m0 2h0m0.2-0.5h0m0.1 3.2h0m0-0.5h0m0.2-0.6h0m0-2.6h0m0 1.7h0m0.1 1.8h0m0-2.2h0m0 1.7h0m0-0.7h0m0.2-1.4h0m0 2.2h0m0.1-4.8h0m0.1 2.5h0m0 3.1h0m0-3.2h0m0.1 1h0m0 1.5h0m0 0.2h0m0.1 0.2h0m0.1-4.1h0m0-1.3h0m0 2.5h0m0.1 3.3h0m0-0.1h0m0.1-5.3h0m0 2.8h0m0 2.6h0m0.2-0.3h0m0.2-4h0m0 2.1h0m0.1-1.4h0m0.1 3.3h0m0-5.5h0m0 0.8h0m0.1 3h0m0 0.7h0m0.1-0.2h0m0.1-0.8h0m0 1.1h0m0.1 0h0m0-0.1h0m0.2 0.3h0m0 0.9h0m0.1-0.4h0m0 0.2h0m0.1-1.7h0m0.1-0.9h0m0 0.6h0m0 0.2h0m0.3 1.7h0m0-3.2h0m0-0.2h0m0.1 2.3h0m0 1.2h0m0.1-5.5h0m0 4.6h0m0.2-2.2h0m0.1-1.7h0m0.2 4.1h0m0.1-1.5h0m0.1-0.2h0m0 0.5h0m0-0.2h0m0-2.9h0m0.1 0.8h0m0.3 3.2h0m0 1.3h0m0-1h0m0.2 0.7h0m0-2.3h0m0.2-0.4h0m0 1h0m0.1 1.7h0m0.2-2.7h0m0-2.1h0m0.1 2.5h0m0-2.1h0m0 2.1h0m0.2 0.6h0m0-1h0m0 0.3h0m0-0.1h0m0.1-0.1h0m0 2.1h0m0.1-2.7h0m0 1.8h0m0-4.1h0m0.1 1.9h0m0.1 3.2h0m0 0.5h0m0.1-1.2h0m0-3.2h0m0 3.2h0m0-0.2h0m0.1-1.3h0m0 2.5h0m0-0.4h0m0.1-1.2h0m0 1h0m0-1.8h0m0.1 1.1h0m0.1-0.5h0m0 1.9h0m0.1-3.5h0m0 3.6h0m0.1-3.5h0m0 0.1h0m0 0.3h0m0.1-1.9h0m0.1 2.9h0m0-3.6h0m0.1 0.2h0m0 3.4h0m0-0.9h0m0.1-2.7h0m0 3.2h0m0-0.7h0m0.1 2.8h0m0.1-1.3h0m0 0.5h0m0-0.8h0m0 2.1h0m0-1.2h0m0.1-1.6h0m0.2 1.3h0m0 0.7h0m0.2-5h0m0.1 0.3h0m0.1 4.1h0m0-1.2h0m0-1.9h0m0.1 1.2h0m0 2.5h0m0 0.3h0m0.3-0.3h0m0.1-0.4h0m0.1-2.6h0m0 1.3h0m0.1 0.1h0m0-1.6h0m0 2.5h0m0-1.9h0m0 2.9h0m0.2-1.9h0m0.2-0.1h0m0.2-2.3h0m0 3.3h0m0.2-3.6h0m0 4.5h0m0.1-2.6h0m0 1.3h0m0-0.9h0m0.1 0.6h0m0 1.4h0m0.1-4.8h0m0 3.7h0m0.1-0.1h0m0.1-0.4h0m0.1 2.2h0m0.1 0.3h0m0-1h0m0.1 0.9h0m0 0h0m0.1-1.9h0m0.3 2h0m0.1-4h0m0-1h0m0.2 2.9h0m0 1.7h0m0-0.2h0m0.1-3.4h0m0.2 1.7h0m0-1.2h0m0 2.6h0m0.1-3.7h0m0 2.5h0m0.3 0.2h0m0.1 1.5h0m0-1.7h0m0.2-0.2h0m0 1h0m0.2-0.6h0m0-0.1h0m0.1-1.5h0m0-1.4h0m1 1.2h0m0 2.2h0m0 0.9h0m0.1 0.2h0m0-0.6h0m0.1-1.8h0m0.1-0.1h0m0.1-2.6h0m0 1.6h0m0.2 1.1h0m0.1 1.3h0m0.1-1.4h0m0.1 1.3h0m0.4-0.1h0m0-1h0m0.1-0.1h0m0-0.3h0m0.1 0h0m0 2.4h0m0 0.5h0m0.1-0.3h0m0-0.8h0m0-3.2h0m0-1.2h0m0 5.2h0m0.1-0.8h0m0.1-2.2h0m0 3.3h0m0.1-3.2h0m0.1 0.9h0m0.2-0.7h0m0.1 2.4h0m0 0.7h0m0.3-4.3h0m0 4.4h0m0.1-0.4h0m0-1.5h0m0.2-1h0m0 0.8h0m0.1-0.6h0m0.1 0.7h0m0-3.8h0m0.1 3.8h0m0-3.2h0m0.1 2.7h0m0-2.6h0m0 1.6h0m0.1 2.8h0m0.1-0.2h0m0.1-4.7h0m0.1 4.5h0m0.1-2.1h0m0.2 0.1h0m0.1 3.2h0m0-2.8h0m0.1-2.7h0m0.1 5.1h0m0-5.6h0m0.2 5.8h0m0-4.3h0m0.1 1.8h0m0.4-2.3h0m0 4.1h0m0.1 0.1h0m0-5h0m0 1.2h0m0.1-1.1h0m0 5.6h0m0.1-1.2h0m0-2.5h0m0.1 0.7h0m0-0.9h0m0.1 2.3h0m0.1-0.5h0m0.1-2.8h0m0 1.3h0m0 2.1h0m0.5-0.6h0m0-0.3h0m0 2.3h0m0.1 0h0m0.2-2h0m0.2-2.4h0m0.3 4.4h0m0.1-3.8h0m0.1 3.6h0m0.3-3.3h0m0.1 2.5h0m0 0.4h0m0-1.9h0m0.1-0.2h0m0.2 1.3h0m0.2-1h0m0-3.2h0m0.1 4.2h0m0 0.1h0m0-1.9h0m0.3 1.3h0m0-3.8h0m0 0.9h0m0.3-0.3h0m0.1 1.6h0m0.3-1.2h0m0 2h0m0.3-0.3h0m0 1h0m0.1 0.7h0m0.3 0.3h0m0-0.4h0m0.5-1.5h0m0.1-2.7h0m0.1 5.2h0m0-4.3h0m0 0.4h0m0 4.4h0m0-0.1h0m0.1-3.6h0m0.1 0.9h0m0.1-2h0m0.1 0.2h0m0.1 1.1h0m0-2.1h0m0.1 2.6h0m0.1 2.6h0m0.1-0.3h0m0.1-1.2h0m0.3-1.1h0m0 2.6h0m0.1-0.5h0m0.1-3.6h0m0-1.1h0m0 1.1h0m0.1 2h0m0-2.8h0m0 4.1h0m0.1-2h0m0.1 2h0m0.1 0.5h0m0-3.9h0m0.1 4.1h0m0-4h0m0.1 2.4h0m0 1.4h0m0-4.7h0m0.2 0.8h0m0 3.4h0m0-2.4h0m0.1 0.7h0m0.1-0.6h0m0-0.5h0m0.3 2.4h0m0.4-2.3h0m0.1 1.5h0m0 1.9h0m0.1 0.1h0m0.4-3.2h0m0.1 3.5h0m0.1-4.6h0m0.1 3.3h0m0.1-0.5h0m0 1.8h0m0-3.5h0m0.2 3h0m0.3-1.5h0m0.4 1.1h0m0-0.4h0m0.1-3.6h0m0.1 4.9h0m0-1.8h0m0.1-2h0m0.1 2.3h0m0 0.7h0m0-4.3h0m0-0.5h0m0.1 4.5h0m0-0.5h0m0.2-3.9h0m0.1 0.5h0m0.1 2.4h0m0.1 2.1h0m0.1-0.8h0m0-3.4h0m0.1 3.1h0m0 0.9h0m0.1-0.2h0m0.2-2.8h0m0.2 3h0m0.2-1.5h0m0.2 1.8h0m0.1-0.8h0m0.2-1.1h0m0 0.4h0m0.1 0.1h0m0.1 1.5h0m0-2.9h0m0 2.3h0m0.1-1.5h0m0.1-0.6h0m0.4-2.2h0m0 4.5h0m0.4-3.9h0m0.1 3.7h0m0.3-3.9h0m0.2 3.1h0m0.1-1.6h0m0 2h0m0.1-3h0m0 1.6h0m0 0.5h0m0.1 0.9h0m0.6-0.9h0m0-0.7h0m0.2-1.1h0m0.1 1.3h0m0 0.1h0m0.1 0.8h0m0.1-1.1h0m0.1 1.9h0m0 0.6h0m0.1 0.3h0m0-3.2h0m0.1 2.7h0m0.2-4.8h0m0 1h0m0.1 3.2h0m0.4 0.3h0m0.1 0h0m0.4-2.7h0m0.1 2.2h0m0 0.5h0m0.2-0.2h0m0.1-1.2h0m0.4-2.9h0m0 4.3h0m0.1-4.4h0m0.2 4.5h0m0.3-4.5h0m0.3 2.1h0m0.3 0.6h0m0.3-1.3h0m0.1 2.6h0m0.1-2.9h0m0.1-0.5h0m0-1h0m0.1 2.9h0m0-1.8h0m0.4 3.6h0m0.1-1h0m0.6 1.9h0m0.1-1h0m0.4-0.5h0m0 0.7h0m0.3-1.6h0m0.2-2.4h0m0 2.5h0m0.3-0.8h0m0.1-0.1h0m0.3 1.4h0m0 1.8h0m0.1-3.4h0m0.1-0.5h0m0 0.4h0m0 2.8h0m0.3-4.4h0m0.1 5.3h0m0.2-0.4h0m0.4-2h0m0.3-1.7h0m0.3 3.3h0m0-0.5h0m0.2-3.1h0m0 3.6h0m0 0.3h0m0.5-4.8h0m0.6 4.7h0m0.3-2.2h0m0-0.1h0m0.1-2.7h0m0.3 5h0m0.4-0.6h0m0-1.2h0m0-1.9h0m0.2 4.3h0m0.2-2.7h0m0.1 2.7h0m0.1-2.2h0m0.3-1.1h0m0.5 0.8h0m0.2 1.6h0m0-1.1h0m0.1-0.2h0m0.7-0.5h0m0.2 0.6h0m0.4-2.7h0m0.2 4.2h0m0.4-1.8h0m0.9 1.2h0m0.6 0.2h0m0.4-1.5h0m0.1 1.1h0m0.5 1.3h0m0.2-1.2h0m0.7 0h0m0.1-1.8h0m0.3-2.8h0m0.3 5.3h0m0.1 0.4h0m0.1-1.5h0m0.5 0.2h0m0.2-2.1h0m0.8 1.5h0m0.3-0.2h0m0.2 1.9h0m0.6 0.4h0m0.4-0.3h0m0.2-2.2h0m1.3 1.6h0m0.1-2.1h0m0.6 2.6h0m0.3-3.9h0m0.6 2.1h0m1.1 0.2h0m0.6 1.6h0m1.8-1.6h0m0.1-0.8h0m0.7-1.7h0m0.1 1.7h0m0.2-0.5h0m0.2 0.6h0m0.3 0.3h0m0.6 0h0m1.2 0.7h0m0.2-1.5h0m0 0.9h0m0-0.2h0m1.3-0.1h0m0 0.7h0m0.2-1.1h0m1.3 2.8h0m1.3-2.5h0m0.1-1.1h0m0.5 0.1h0m0.2 1.5h0m0.8-0.7h0m0.5 0.4h0m0.2-0.6h0m0.8 1.8h0m3 1h0m0.8-0.2h0m1.2-3.4h0m0.2 4h0m1.9-2.2h0m3.8-1.1h0m1.4-0.9h0m2.5 1.2h0m1.7 2.4h0m2.5-1h0m1.8-0.7h0m0.7 0.7h0m1-3.9h0m3.6 3.5h0m4-1.3h0m5.6-1.4h0m0.8 3.3h0m12.4-2.5h0m3.7-1.3h0m2.6 3.7h0m-231.3 2h0m14.2 3.6h0m26.6-2.7h0m3.7-1.1h0m4.6 0h0m0.6 3.5h0m3.5 0.3h0m2-0.4h0m0.7-0.5h0m0.9-1.9h0m1.5 1.2h0m1.5-2.2h0m0.9 2.3h0m0.3 2.7h0m0.2-5.3h0m0.3 4h0m0.1-1.6h0m0.6 2.9h0m0.1 0.3h0m0.7-3.4h0m0.1 1.3h0m1.3 1.6h0m0.3-1.8h0m0.4-2.1h0m0.5-1.1h0m0.2 1.4h0m0.1 1.1h0m0.1-1.3h0m0.4 4.7h0m0.6-3.2h0m0.2 2.4h0m0.3-0.2h0m0.4-1.9h0m0.4 2.7h0m0.4-4.3h0m0.1 0.8h0m0.6-0.7h0m0.3 4.1h0m0.5-2.5h0m0.1 2.3h0m0.2-3.9h0m0.4-0.1h0m0.6 2.6h0m0.1-1.9h0m0.2 2.9h0m0.5-4.1h0m0.6 0.4h0m0.1 4.5h0m0.1-3.9h0m0.2 1h0m0.2 1.5h0m0.2-0.8h0m0.2-1.4h0m0.2 2.1h0m0.4-3.5h0m0.1 2.7h0m0 1.5h0m0.1-3.8h0m0.1 0.6h0m0-0.4h0m0 0.4h0m0.3 0.5h0m0.5 2.2h0m0.3-3.4h0m0.3 4.4h0m0.1-1.7h0m0.2 1h0m0.4-1.9h0m0.1-1.7h0m0.6 0.7h0m0.2 2.5h0m0 1.1h0m0.1 0.1h0m0.1-5h0m0.1 4.6h0m0.2-1.6h0m0.5-1.5h0m0.1 0.6h0m0.1 1.9h0m0.1-2.5h0m0-2.2h0m0.1 4.3h0m0.1-3.5h0m0 1.1h0m0.3 1h0m0.1-1.4h0m0.2-0.6h0m0.2 0.7h0m0 3.2h0m0.4-0.9h0m0-0.4h0m0 0.7h0m0.3-2.5h0m0.2 3.1h0m0.3 0.9h0m0-3.4h0m0.1-1.8h0m0.1 2.5h0m0.2 3h0m0.1-3h0m0 0h0m0 2.9h0m0-5.9h0m0.1 3.3h0m0.1-1.9h0m0-0.4h0m0.1 3.9h0m0-4.1h0m0 5h0m0.1-4.1h0m0.4-1h0m0 4h0m0.1-1.6h0m0.2 0.9h0m0-3.7h0m0 2.7h0m0.4 0.4h0m0.2-0.2h0m0.1-3.1h0m0 2.6h0m0 1.5h0m0.1-2.8h0m0-0.7h0m0.1 1.2h0m0.2 3.6h0m0.1-2.1h0m0.1 0.4h0m0 1.4h0m0.1-4.2h0m0 5h0m0-3.6h0m0.1 3.4h0m0-4.1h0m0.2 4h0m0.1-1.8h0m0 0.3h0m0 0.5h0m0-2.4h0m0.1 2.9h0m0.1-4.3h0m0.2 3.2h0m0-3h0m0-0.3h0m0.1 3.6h0m0.4-2.2h0m0-2.1h0m0 1.5h0m0.2 2.1h0m0.1-2h0m0-1.5h0m0.1 2.6h0m0.3-0.9h0m0.1 0h0m0 3.1h0m0.1-1.8h0m0 0.2h0m0-1.1h0m0-1.4h0m0.1 2.3h0m0.1 1.3h0m0.4-1.9h0m0.1 0.3h0m0-0.9h0m0 3.9h0m0.1-3.3h0m0.1-2.4h0m0.2 1.5h0m0 1.5h0m0.2-2.4h0m0.2 0.2h0m0.1 4.9h0m0.1-5h0m0.3-0.6h0m0.1 4.5h0m0.1-0.7h0m0.1-0.8h0m0-1.7h0m0.2 3.2h0m0.2-2.6h0m0.1 1.9h0m0.2-2.4h0m0.1 1.9h0m0.2-0.3h0m0.1-1.4h0m0-1.6h0m0.1 1.5h0m0 3.8h0m0.1-3.2h0m0.2-1.2h0m0.1-1.1h0m0.3 1.6h0m0.1 3.9h0m0.2-1.4h0m0-1.9h0m0.1 1.7h0m0-0.3h0m0.1 0.9h0m0.1-1.9h0m0-1.6h0m0.1 3.7h0m0-2.5h0m0 0.8h0m0.1 0.9h0m0-3.1h0m0 3.2h0m0.1-0.8h0m0-2.7h0m0.1 4.4h0m0.1 0.9h0m0-3.6h0m0.2 1.8h0m0.1-2.2h0m0 1.6h0m0-0.2h0m0-2.1h0m0.1 0.5h0m0.2 3.3h0m0-3.2h0m0.1-0.9h0m0.2 3.8h0m0.1-1.3h0m0 0h0m0.1-2.9h0m0 5h0m0.1-4h0m0 0.9h0m0-1.8h0m0.1 0.3h0m0.2 2.7h0m0 0.8h0m0 1.2h0m0.1-2.2h0m0.1 2.4h0m0-3.8h0m0-1.3h0m0 1.8h0m0.1 1.5h0m0 0.7h0m0.1-3.8h0m0 4.9h0m0.1-3.8h0m0 1.2h0m0.1 2.1h0m0.1 0h0m0-3.2h0m0.1 0.1h0m0.1 1.5h0m0-1.6h0m0 0.6h0m0-1.3h0m0-0.9h0m0 4.7h0m0.1-4.8h0m0 2.9h0m0.1 1.1h0m0.1-1.3h0m0 0.8h0m0.1-1.9h0m0.1-0.5h0m0 3.5h0m0.1 0.3h0m0-0.2h0m0.1 0.5h0m0.1-2.4h0m0-2.8h0m0.1 3.7h0m0-3.8h0m0.1 3.5h0m0-0.9h0m0.3 0.4h0m0-2.2h0m0.1 4.6h0m0-2.6h0m0-0.3h0m0 1.7h0m0.1-4.1h0m0 3h0m0-2.7h0m0-0.3h0m0.2 4.5h0m0-4.9h0m0.1 2.3h0m0-0.4h0m0 3.4h0m0-2h0m0.1-0.6h0m0-2.6h0m0.1 5.5h0m0-3.8h0m0 1.5h0m0 0.6h0m0.1 1.3h0m0.2-2h0m0 2.7h0m0-5.2h0m0 4.5h0m0.1-2.3h0m0.1 2.3h0m0.1-2.8h0m0.1-0.5h0m0 3.1h0m0-2.2h0m0.3-2.5h0m0 3.7h0m0 1h0m0.1-4.7h0m0 1.4h0m0-1.3h0m0.1 0.2h0m0 0.2h0m0-0.7h0m0.1 3h0m0 0.5h0m0.1 1.1h0m0.2-4.2h0m0 0.2h0m0 0.5h0m0.1 0.2h0m0 0.5h0m0.1 2.1h0m0-1.7h0m0 0.2h0m0-0.5h0m0.1-0.5h0m0.1-1.5h0m0 3.9h0m0-2.2h0m0.1 3.5h0m0-1.8h0m0.1 2.4h0m0-2h0m0.1-3.7h0m0 1.8h0m0.1 1.6h0m0.1 0.8h0m0.1 1.6h0m0-1.3h0m0-3.2h0m0.2 3.5h0m0 1h0m0.1-3.9h0m0 1.6h0m0.1-3.1h0m0 4.3h0m0 1.2h0m0-0.4h0m0.1-5.5h0m0 3h0m0-2.4h0m0.1 3.7h0m0.1-3.2h0m0.1 3h0m0.1-1.6h0m0-1.7h0m0.2 2.4h0m0 1.8h0m0.1-4.8h0m0 0.2h0m0 4.9h0m0.1-2.9h0m0 3.2h0m0-4.5h0m0.1 0.5h0m0 2.9h0m0.1-0.5h0m0.1 0h0m0 0.6h0m0.1-3.4h0m0.2 0.7h0m0-1.5h0m0 4h0m0.1-4.1h0m0 4.9h0m0.1-1.8h0m0-2.6h0m0.1 5h0m0-1.2h0m0-3.5h0m0 3.3h0m0.1-3.7h0m0.1 1.8h0m0.1-1.8h0m0.2 4.2h0m0-4.8h0m0 5.7h0m0.1-1.6h0m0.1-3.4h0m0.1-0.7h0m0.1 3.1h0m0.1 1.1h0m0.1-2.2h0m0.1 1.2h0m0 0.4h0m0-2h0m0-0.5h0m0 0.2h0m0.1 2.6h0m0-4h0m0 3.2h0m0-0.8h0m0 1.2h0m0.1-0.4h0m0 1.7h0m0-4h0m0.1 0h0m0.1-0.5h0m0 5h0m0.2-0.9h0m0-0.7h0m0-1.2h0m0.2-2.6h0m0 5.1h0m0 0.8h0m0-2.7h0m0-2.3h0m0.1-0.8h0m0.1 1.9h0m0.1 3.8h0m0.2-3h0m0 1.6h0m0.1-3.1h0m0.1 3.8h0m0 0.7h0m0.1-0.8h0m0-4.7h0m0.1 4.1h0m0.3-3.9h0m0.1 2.1h0m0 1.5h0m0 1.4h0m0-2.6h0m0 0.9h0m0.1-1.8h0m0 2.6h0m0 0h0m0-3.8h0m0 2.9h0m0.1 0.8h0m0-0.2h0m0.1-0.1h0m0.1-1.1h0m0.1-1.2h0m0.1-0.6h0m0 3.6h0m0.1-1h0m0.1-2.8h0m0.1-0.1h0m0-0.2h0m0 1.8h0m0-0.6h0m0-2h0m0 2.1h0m0-1.2h0m0.2 0.7h0m0 0.6h0m0.1 2.2h0m0-2.5h0m0.1 4h0m0.3-2.4h0m0-1.5h0m0 0.8h0m0-0.5h0m0.1-0.1h0m0 2.9h0m0.1-2.5h0m0-0.8h0m0.1-0.5h0m0 1.6h0m0.1 0.3h0m0-0.2h0m0.1 0.9h0m0.1-0.3h0m0.1-1.9h0m0.1-0.5h0m0.3 1.7h0m0 2.3h0m0-2h0m0 2.1h0m0.1-1.1h0m0.1-1.6h0m0 1.7h0m0.1-1h0m0-2.1h0m0 2h0m0.1 0.5h0m0-2.1h0m0 4.1h0m0.1-0.7h0m0-4.9h0m0 0.1h0m0.1 1.8h0m0-1.6h0m0.1 3.6h0m0.1 0h0m0-1.8h0m0 1.1h0m0-1.2h0m0.2 0.2h0m0-2.3h0m0.1 0.2h0m0 1.5h0m0.1 0.9h0m0.1-0.8h0m0 3.7h0m0-4.6h0m0.1 1.4h0m0-0.3h0m0 0.5h0m0.1-0.9h0m0-1.3h0m0 3.3h0m0.1-1h0m0 1.2h0m0.1-0.1h0m0-2.4h0m0.1-0.2h0m0 3.7h0m0 0.5h0m0 0.4h0m0-3.7h0m0.1 2.4h0m0.1-2.4h0m0 1.7h0m0-1.1h0m0.1 3h0m0.1-1.9h0m0.1 1.3h0m0.1-2.9h0m0.1-1.9h0m0.1 4.7h0m0.1-2h0m0.3-0.3h0m0-0.4h0m0.1-1.1h0m0.1 0h0m0.1 4.7h0m0-0.9h0m0.1-4.9h0m0.1 0.5h0m0 3.2h0m0.1-2h0m0.1-0.4h0m0.1 0.9h0m0.1-1.6h0m0 0.1h0m0.1 1.5h0m0 0.8h0m0.1-0.5h0m0.1-1.9h0m0.2 0.4h0m0 3.6h0m0.1-1.5h0m0.1-0.6h0m0.1-1.3h0m0 1.6h0m0.1-0.2h0m0-1.2h0m0 4.3h0m0.1-1.6h0m0.4-3.7h0m0 5.3h0m0-1.5h0m0.1-0.9h0m0-0.8h0m0-0.3h0m0 0.7h0m0.2-1.2h0m0-1.1h0m0.1 1.6h0m0.1 0.2h0m0 2.3h0m0.1-4h0m0.1-0.4h0m0 0.3h0m0.1 0.1h0m0 4.1h0m0.1-2.1h0m0.1-1.3h0m0 1h0m0.1 1.9h0m0.2-0.8h0m0.1 0.6h0m0.2 1.7h0m0-1.4h0m0.2-2.2h0m0.1 1.5h0m0-3.5h0m0.2 5.5h0m0.1-0.4h0m0-4.3h0m0 4.2h0m0.2-2.1h0m0-2.7h0m0.2 0.7h0m0 3.3h0m0-2.2h0m0.1 2.8h0m0-0.3h0m0-1.7h0m0.1-0.1h0m0.2-1.5h0m0 2.8h0m0.5-3.4h0m0 1.9h0m0.3 0.6h0m0-0.5h0m0.1-0.2h0m0.2 0.4h0m0 2.7h0m0-3.4h0m0.1-1.8h0m0 3h0m0-2.6h0m0.1 0.8h0m0 1.8h0m0.2-1.2h0m0 1.6h0m0 0.4h0m0.1-3h0m0 1.1h0m0.1 1.7h0m0.1 0.8h0m0-4.3h0m0 1.4h0m0-1.4h0m0.1 5.1h0m0.2-3.1h0m0-0.5h0m0.1-1.8h0m0 0h0m0.1 4.7h0m0.1 0.9h0m0.1-2.2h0m0-0.4h0m0.1 2.5h0m0-2.5h0m0.1-2.6h0m0.1 2.8h0m0.4 2.1h0m0.2-3.6h0m0-1.2h0m0.2 3.2h0m0 1.4h0m0.5-2.7h0m0 0.3h0m0-0.5h0m0.1-0.9h0m0-1.2h0m0.1 0.5h0m0.1 3.4h0m0.1 0h0m0-1.3h0m0.1 1.4h0m0-1.1h0m0.1-1h0m0.2-2h0m0 1.5h0m0.1 3h0m0-1.2h0m0 0.4h0m0.1 1.1h0m0-1.3h0m0.2-0.7h0m0.1-2.7h0m0.1 2.5h0m0 1.2h0m0.1 1.2h0m0.1-3.6h0m0 0.8h0m0.1 2.5h0m0.1-1.4h0m0-2.5h0m0 3.2h0m0.1-0.6h0m0-3.5h0m0 5.5h0m0-5.3h0m0.1-0.2h0m0 4.8h0m0.3 0.4h0m0-0.1h0m0.1-0.8h0m0.2-0.5h0m0-3h0m0.1-0.3h0m0.1 1h0m0-0.4h0m0 4.5h0m0-0.3h0m0.1-5.2h0m0 0.1h0m0 0.7h0m0.2 1.9h0m0-0.6h0m0.3 1.9h0m0-1.9h0m0.1 1.7h0m0-2.5h0m0.1 2.9h0m0.1-0.2h0m0-3.5h0m0 0.7h0m0 0.2h0m0.1 2.6h0m0-3.5h0m0.1 2.4h0m0.2-2.5h0m0 5h0m0-1.8h0m0.1-2.6h0m0.3 2.7h0m0.1 0.8h0m0-3.4h0m0 1.1h0m0.2 3h0m0.1-2.2h0m0-0.7h0m0.1-1.5h0m0.1-0.4h0m0-0.3h0m0.1 1.3h0m0-1.4h0m0.1 0.1h0m0.1 3h0m0-0.8h0m0.2 1.5h0m0-2.3h0m0.2 0.4h0m0.3-2.2h0m0 3.8h0m0.2-0.9h0m0-2.1h0m0.1 1.7h0m0.2 0.6h0m0-0.9h0m0.1 2.3h0m0-3.1h0m0-0.2h0m0 0.6h0m0.1 1.5h0m0.1 1.4h0m0-3.9h0m0 1.2h0m0.1 0h0m0.1 3.2h0m0.2-0.2h0m0.1-1.8h0m0.1 0.3h0m0 0.6h0m0.3-3.1h0m0 0.6h0m0.1 2.3h0m0.1-1.4h0m0-0.5h0m0 0.8h0m0.1-1.5h0m0 1.9h0m0.1 0.6h0m0.1-2.3h0m0 2h0m0.1-3.4h0m0.1 1.8h0m0 0.8h0m0.1-1h0m0 3.3h0m0-4.6h0m0.1 3.3h0m0 0.5h0m0 0.2h0m0.1-1.2h0m0 1.3h0m0.2 0.4h0m0.1-2.1h0m0.2-2.1h0m0.1-0.6h0m0 4.1h0m0.1-3.8h0m0 2.6h0m0.2-1.6h0m0 0.7h0m0.2 3.7h0m0.1-1.8h0m0.2-3.9h0m0 0.7h0m0.3 3.2h0m0-1.3h0m0.1-2.6h0m0.3 2h0m0.1-0.6h0m0 2.3h0m0.1-3.8h0m0 4.8h0m0.2-0.8h0m0.1 1.1h0m0-2.5h0m0.2-1.9h0m0 3.8h0m0.1-2.2h0m0 0.2h0m0.3-2.4h0m0.1 2.9h0m0.1 0.2h0m0 1.2h0m0.1-2.2h0m0-1.7h0m0 1h0m0.1 4.2h0m0-3.1h0m0 3.2h0m0.2-2h0m0-2.9h0m0.1 2.2h0m0.9 2.7h0m0.1-3.1h0m0.1 0.8h0m0.1-3.2h0m0 0h0m0 4.8h0m0.5-4.4h0m0.1 4.5h0m0-2.3h0m0.3 0.9h0m0.1-3.1h0m0.2 3h0m0.2-1.7h0m0.1-2h0m0 1.5h0m0.3 3.1h0m0.2-1.7h0m0.1-1.6h0m0.2-1.3h0m0.3 3.9h0m0.1-1h0m0.4-1.6h0m0 2.9h0m0.1-1.1h0m0 2h0m0.1-0.6h0m0.1-3.3h0m0.2 4.1h0m0-5h0m0 1.1h0m0.2 3.3h0m0-2.6h0m0.3-0.8h0m0.1 1.7h0m0-1.3h0m0-0.3h0m0.1 2.8h0m0-4.3h0m0.2 1.8h0m0.1-0.3h0m0 3.2h0m0.1-1.3h0m0 1.3h0m0.1-2h0m0.2 2h0m0-1.1h0m0.3 1.6h0m0-0.7h0m0.3-1.1h0m0 1.6h0m0-0.9h0m0.1-4h0m0 5.6h0m0-4.4h0m0.1 0.1h0m0.1-0.5h0m0.2-0.4h0m0.1 5.1h0m0.2-4.3h0m0.4 1.6h0m0.4 1.8h0m0.1-2.4h0m0 1.9h0m0.1-3.9h0m0.5 2.5h0m0.2-2.1h0m0 4.3h0m0.7 0.1h0m0-0.8h0m0.1 0.9h0m0-4.9h0m0 3.5h0m0.3-1.7h0m0.5 0.7h0m0.1 2.9h0m0.3-3.5h0m0.3 0.7h0m0 1.4h0m0-4.2h0m0 5.4h0m0.3-3.5h0m0.1 2.2h0m0.1-1.2h0m0.3 1.7h0m0.1 0.4h0m0-3.6h0m0 4.2h0m0.2-4.5h0m0 2.5h0m0.1 1.3h0m0.2 0.6h0m0.2-4h0m0.1 2.6h0m0-1.8h0m0.5-0.4h0m0.2 2.8h0m0.1-0.1h0m0.2 0.7h0m0.8-2.9h0m0.8-1.3h0m0.8 2.2h0m0 1.5h0m0.4 0.1h0m0.3-1.8h0m0.9-0.2h0m0.1-2.2h0m0.1 3.9h0m0.2-4h0m0.5 3.2h0m0-0.7h0m0 1.9h0m0.3-4.1h0m0.5-0.6h0m0.5 1.9h0m0.6 0.5h0m0 2.8h0m0.2-1.5h0m0.2-1.8h0m0.6 1h0m0.4-1.5h0m0.1-1.2h0m0-0.5h0m0.1 1.1h0m0 2.5h0m0.1-1h0m0.4 2.3h0m0.2-4.5h0m0 1.1h0m0.1 0.4h0m0.3 3.9h0m0.1-5.6h0m0.2 4.3h0m0.7-0.3h0m0.2-1h0m0.3 1.7h0m0.2-0.6h0m0.3-1.8h0m0.1 1.9h0m0.4-1h0m0.4-1.9h0m0.7 3.3h0m0.1-0.8h0m0.8 0.3h0m0.6-0.7h0m1.3 2h0m0.1-1.2h0m0.2-4.4h0m0.3 0.8h0m0 3.9h0m0.7-2.9h0m0.1-0.9h0m0.9 0.6h0m0.6 0.3h0m0.7 2.3h0m0.4-0.4h0m0.4-0.6h0m0.1-0.2h0m0.2 1.3h0m1.9-3.3h0m0.2 2.3h0m1 2.6h0m0.9-5.2h0m0.1 0.9h0m0.3 4.3h0m0.2-5.7h0m0.2 4.1h0m0.4-2.2h0m0-1.1h0m0.7 2.7h0m0.7 2.1h0m0-5.7h0m0.2 3.3h0m0 1.8h0m0.2-3.7h0m0.6 3.6h0m0.9-0.2h0m0.5 0.2h0m1.1 0.2h0m0.4-2.4h0m1.4-1.2h0m0.6-0.7h0m0.9 2.9h0m0.7 1.9h0m2-1.4h0m1.7-4.4h0m2.2 5.8h0m0.1-0.8h0m1 1h0m0.4-2.8h0m1.5-1.3h0m1.6 3.8h0m1.2-4.4h0m3.4 4.3h0m7.2-1.5h0m12.6-3.2h0m5.8-0.2h0m11.2 4.3h0m3.3-4.6h0m-199.4 8.9h0m4.7-0.2h0m6.7-2.2h0m4.2 4.3h0m1.1-4h0m1.6 3.9h0m0.2-3.9h0m0.2 2.8h0m0.5 0.2h0m0.5-0.3h0m3.1 1.1h0m0.7-3.9h0m2.1 4.9h0m0.1-1.9h0m1.3-2.6h0m0.1 0.7h0m1-0.4h0m0.1 1.5h0m0.5 0h0m0.1-1.5h0m0.4 0.7h0m0.5-1.8h0m0.2 4.5h0m0.3-3.8h0m0.9 1.9h0m1.1-1.5h0m0.1 2.6h0m1-1.1h0m0.2 1.4h0m1.1-4.4h0m0.3 5h0m0.1 0.4h0m0.4-5.1h0m0.2 0h0m1.4 0.2h0m0.3 1.8h0m0.6-1.5h0m0.3 0.7h0m0.2 1.8h0m0.7 1h0m0.1-3.3h0m0.1 2.7h0m0.3-3.2h0m0.2 1.7h0m0.5 1.4h0m0.1-0.1h0m0-2.3h0m0 0.7h0m0.1 1.1h0m0.3-2h0m0.5 4h0m0.1-2.5h0m0-2.6h0m0.1 0.8h0m0.4 2h0m0 1.2h0m0.4-0.6h0m0.3-3.4h0m0.3 1.4h0m0.2 4.1h0m0-2.6h0m0.2-0.9h0m0.2-1h0m0.1-1.1h0m0 5.3h0m0.8-0.4h0m0.7-0.3h0m0-3.9h0m0.6 2.3h0m0.2 1.9h0m0.1-3.5h0m0.2 1.7h0m0-2h0m0.3 4.5h0m0-2.3h0m0 2.3h0m0.5 0.2h0m0.1-2.5h0m0.1-1.1h0m0.1-1.8h0m0-0.5h0m0.1 2.9h0m0.3 2.7h0m0-2.8h0m0.1-2.1h0m0 5h0m0.1-0.4h0m0.1 0.3h0m0-3.2h0m0.1-2.2h0m0 0.5h0m0 3.1h0m0.2-0.9h0m0.1 1.3h0m0-3.4h0m0.1 0.8h0m0.1-1h0m0.3-0.2h0m0.2 0.4h0m0 1.4h0m0.1 1.4h0m0 1.6h0m0.4-0.7h0m0 1h0m0.1-3h0m0.3 0.2h0m0.2-2.1h0m0 3.4h0m0.1-0.2h0m0.2-1.8h0m0.2-0.8h0m0 3.8h0m0-3.8h0m0.4 0h0m0.2 3.9h0m0.4-2.9h0m0 1h0m0.2 0.7h0m0.3-0.5h0m0.1-3.2h0m0 0.1h0m0 1.3h0m0-0.7h0m0.2 2h0m0 0.7h0m0.1 2h0m0.3-3.9h0m0-1.4h0m0.4-0.2h0m0.7 2h0m0 0.2h0m0.5-1.5h0m0.1 4.6h0m0-2.4h0m0.1 0.1h0m0.1-0.7h0m0 0.9h0m0.2-2.8h0m0.2 0.9h0m0.1-1.3h0m0.2 1.1h0m0.1 4.1h0m0.1-3.2h0m0 0.5h0m0.4-0.1h0m0-1.1h0m0 4.5h0m0.2-1.6h0m0.1 0.5h0m0.1-3.7h0m0.2 3.1h0m0-1.8h0m0.1 1.7h0m0-1.9h0m0-1.3h0m0.1 2.5h0m0.2-2.4h0m0.1 2.1h0m0-2.4h0m0.5 2.4h0m0-2.9h0m0 3.9h0m0 0.1h0m0-3.6h0m0 1h0m0.2 3.8h0m0.2-1.6h0m0.1-0.9h0m0.1-1.9h0m0.2-0.2h0m0.1-0.1h0m0.2 0.6h0m0-0.3h0m0.1 0.4h0m0.1 1.8h0m0.1-1.4h0m0.2-0.7h0m0.1 0.2h0m0 0h0m0 2.3h0m0.1-0.3h0m0.1 2.5h0m0.1-2.7h0m0.1 0.3h0m0.3 2.5h0m0.2-5.4h0m0.1 5h0m0.1-1.6h0m0.1 0.7h0m0-4.5h0m0.1 0.6h0m0.1 5.1h0m0-3h0m0.1-1.6h0m0.1 0.9h0m0.2 2.9h0m0 0.2h0m0-4.3h0m0 1h0m0.1 3.9h0m0-3.7h0m0 1.8h0m0 0.4h0m0-0.5h0m0.1-1.7h0m0.1 0.9h0m0 2h0m0-3.5h0m0-0.6h0m0-0.4h0m0 4.4h0m0.1-4.3h0m0.1-0.4h0m0-0.1h0m0.2 1.7h0m0.2-1.4h0m0 4.6h0m0.1-3.9h0m0-0.9h0m0.2 4.2h0m0.1-4.4h0m0 4.3h0m0.1-4h0m0.1 4.5h0m0-4h0m0.1 1.2h0m0 1.5h0m0.1 2.4h0m0-5.7h0m0 2.4h0m0.3-0.3h0m0-0.1h0m0.2 0h0m0.1 3.4h0m0.1-0.2h0m0-5h0m0.2 4.7h0m0-2.5h0m0.1 0.3h0m0.1 1.2h0m0.1 0h0m0-1.9h0m0.2-0.5h0m0.1-0.6h0m0-0.8h0m0.1 1.2h0m0 0.8h0m0.1 2.1h0m0-3.9h0m0.1 2h0m0 3.4h0m0-2.7h0m0.1-1.4h0m0.2-0.1h0m0.1 0.8h0m0-2.3h0m0.1 1.7h0m0.2 0h0m0 0.6h0m0.1 0.1h0m0 2.1h0m0.1-4.6h0m0 4.9h0m0.1-3.6h0m0 3.4h0m0-0.1h0m0.1-3.3h0m0 1h0m0.1 2.9h0m0-4h0m0.1 0.1h0m0 1.3h0m0 0.1h0m0.1 2.2h0m0.1-4.5h0m0-0.3h0m0.1 2h0m0.1 0.2h0m0 3.1h0m0.1-4.8h0m0.1 1h0m0 1.8h0m0 2.3h0m0.1-3.2h0m0.1 1.8h0m0.1-3.7h0m0 3.6h0m0.1-2.4h0m0 1.9h0m0-3.7h0m0.1 4.5h0m0.1-0.3h0m0.1-1.2h0m0-1.8h0m0.1 3.7h0m0-2.8h0m0.1 1.9h0m0-3.9h0m0.1 5.8h0m0-3.7h0m0 0.4h0m0.1-0.8h0m0-1.7h0m0.1 2.7h0m0.1-2.6h0m0 0.5h0m0.1 4h0m0-3.1h0m0.1 2.2h0m0.1-0.5h0m0-0.2h0m0.2 0.1h0m0-1.6h0m0.1 3h0m0.1-3.2h0m0.1 2.6h0m0-1.6h0m0 1h0m0.1 1.5h0m0-2.7h0m0.1 1.3h0m0 1.9h0m0.1 0.4h0m0-2.4h0m0.5 0.3h0m0-3.3h0m0 2.9h0m0.1 1.3h0m0-2.7h0m0.1 1.3h0m0-2.3h0m0.1 0.7h0m0.1-1.5h0m0.2 4h0m0.1-4h0m0 2.3h0m0.1 1.3h0m0 1.1h0m0.2-3.4h0m0.1 4.1h0m0.1-2.6h0m0.1-1.6h0m0-1h0m0.2 3h0m0.2-1.1h0m0.1-2h0m0 5.4h0m0.1-2.3h0m0 1.8h0m0.1-1.6h0m0 0.6h0m0.3-4.2h0m0.3 5h0m0.1 0.6h0m0.1-1.1h0m0-4.4h0m0.4 0.9h0m0.2 1.7h0m0-1.8h0m0.1-0.3h0m0 0.8h0m0-0.1h0m0.2 1.4h0m0.2 1.2h0m0-3.1h0m0-0.7h0m0.1 2h0m0-1.4h0m0.1 4.2h0m0.1-2.5h0m0-1.6h0m0.1 2.2h0m0.1 1.8h0m0-3.6h0m0.1 0.7h0m0.1-1.3h0m0.1-0.5h0m0.1 5.7h0m0-4.1h0m0.1 0.4h0m0 3.2h0m0.1-1.5h0m0.1-3.4h0m0.1 4.5h0m0.1-4.8h0m0 5.8h0m0.2-0.5h0m0-1.1h0m0.1-1.1h0m0.1-2.2h0m0.1 4h0m0 0.1h0m0.2-0.9h0m0-4.2h0m0 2.7h0m0.2-1.1h0m0 0.3h0m0.1-1.5h0m0.2 5.6h0m0.1-0.7h0m0-2.4h0m0-2.1h0m0.2 3.7h0m0-0.9h0m0-2.5h0m0 2.7h0m0.1-3.6h0m0.1 3.1h0m0-0.5h0m0 0h0m0.3 3.2h0m0.1-4.2h0m0.1 2.1h0m0.1-1.7h0m0.1 0.8h0m0.1 0.3h0m0.3 1.6h0m0.3-4.5h0m0.1 0.2h0m0 2.3h0m0-2.2h0m0 3.8h0m0-3.6h0m0.1 4.6h0m0-3.3h0m0.2 3.5h0m0-4.7h0m0 4.2h0m0.1-0.1h0m0.2-2.5h0m0 3.3h0m0-5.6h0m0 1.4h0m0.1-1.1h0m0.3 1.9h0m0.1 2h0m0.1-2h0m0.1-1.4h0m0 2h0m0.1 1h0m0-0.9h0m0 1h0m0.1-3.8h0m0.1 2.8h0m0 1.4h0m0.2 1.2h0m0 0.2h0m0.1-0.5h0m0.1-0.1h0m0.1-3h0m0.2-1.8h0m0 2.7h0m0-2.3h0m0.2-0.6h0m0.1 2.2h0m0.1 2.8h0m0.1-1.2h0m0.1-3.8h0m0.3 1.7h0m0 3.3h0m0.1-4.7h0m0.1-0.3h0m0.2 5.4h0m0.1 0h0m0-0.8h0m0.3-3.3h0m0.1 0.3h0m0-1h0m0 2.4h0m0.1-1.9h0m0.1 0.7h0m0.2-0.5h0m0.1 2.5h0m0.1 0.9h0m0.4-2.8h0m0 0h0m0 1.4h0m0.1-1.2h0m0.2 0.2h0m0 1.2h0m0.1-3h0m0.3 0.4h0m0.1 0.8h0m0.1-1.7h0m0.3 1h0m0.2 0h0m0.1-1h0m0.2 2h0m0.1-2.3h0m0 4.8h0m0.3 0.2h0m0-2.9h0m0 2.6h0m0.1-1h0m0-1.6h0m0.1 1.7h0m0.1-2.5h0m0 2.6h0m0.1-3.6h0m0 0.2h0m0.1 1.6h0m0.1 3.3h0m0.1-1.9h0m0 2.3h0m0-0.1h0m0.3-2.8h0m0-1.2h0m0.2 2.8h0m0.2 0.6h0m0 0.6h0m0-2.1h0m0.1 0.1h0m0.1-3.3h0m0 4.7h0m0-4.2h0m0.1 2.6h0m0.1-2h0m0.2 2.7h0m0-1.3h0m0.2-1.7h0m0 1.9h0m0.1 2h0m0-3.6h0m0.1 0.7h0m0.1 2.9h0m0 0h0m0.3-4.7h0m0 5.3h0m0-2.9h0m0.1 0.9h0m0.2-2.1h0m0.2-1.1h0m0.1 1.1h0m0 0.1h0m0 2.1h0m0.1-0.9h0m0-0.4h0m0.2-0.6h0m0.1 2.1h0m0.2-1h0m0.1 2.5h0m0.1-0.2h0m0-1.9h0m0-0.1h0m0.1-3.1h0m0 2.2h0m0.1 1.6h0m0 0h0m0 0.3h0m0.1 0.2h0m0.1 1.3h0m0.1-0.1h0m0-5.2h0m0 4.2h0m0-2h0m0.2 2.3h0m0.3-3.1h0m0.1 0.9h0m0.1 1.2h0m0-1.3h0m0.2-1.2h0m0.1-1.2h0m0.2 2.1h0m0-1.5h0m0.3 3.8h0m0-1.4h0m0.1 1.7h0m0-3.1h0m0 2.8h0m0.1-3.9h0m0.1-0.4h0m0.3 3.7h0m0-2.5h0m0.1 1.9h0m0.1-2.7h0m0 4.4h0m0.5-3h0m0 0.8h0m0.1-2h0m0-0.9h0m0 2.7h0m0-0.2h0m0.2 0.5h0m0.2-0.6h0m0.1 0.7h0m0.1-2.5h0m0 3.7h0m0.1-4.2h0m0 4.7h0m0.1-2.6h0m0 0.5h0m0.3 0.9h0m0-2.5h0m0 1.7h0m0.1-0.5h0m0-2h0m0 3.2h0m0.1 0.2h0m0.3-2.6h0m0 2.4h0m0 0.8h0m0.1-1.4h0m0.2-2h0m0.1-0.8h0m0.1 3.7h0m0-0.6h0m0.1 1.5h0m0.1 0.1h0m0.2-0.5h0m0.1-2h0m0.3-1.5h0m0.2 2.6h0m0-0.4h0m0.1 1.5h0m0.1-0.4h0m0.2-4h0m0.1 5.7h0m0.2-4.8h0m0-0.3h0m0.2 1.3h0m0 1.6h0m0 0.8h0m0.2-3.5h0m0.2 0.8h0m0 0.8h0m0-0.4h0m0.2 0.3h0m0 1.6h0m0.1-1.8h0m0.1 1.2h0m0.3-1.6h0m0 2.9h0m0 0.6h0m0-0.7h0m0-1.4h0m0 2.1h0m0.2-1.2h0m0.1-2.3h0m0-1.3h0m0-0.2h0m0.2 2.7h0m0-1.3h0m0 0.4h0m0 2.2h0m0.3-4.1h0m0.1 3.1h0m0 0.8h0m0.1-3.2h0m0.1 2.7h0m0.1-1.2h0m0-0.1h0m0 0.3h0m0.1-2.2h0m0.1 3.9h0m0.1-0.5h0m0 1.5h0m0.2-4.8h0m0.1 4.4h0m0.3-1.5h0m0.2 0.9h0m0.2 0.4h0m0.3 0.4h0m0.2-0.1h0m0.2-0.7h0m0.1-2h0m0.1 1.4h0m0.1-0.4h0m0.1-1.3h0m0.3 0.5h0m0.2-1.2h0m0 3.3h0m0-3.2h0m0.1 1.1h0m0.1-1.9h0m0 2.3h0m0.2 2.6h0m0-0.8h0m0.2-4.3h0m0.1 1.1h0m0.1 0.8h0m0.1-2.5h0m0.1 2h0m0-0.8h0m0.3 4.2h0m0.4-4h0m0.1 1.6h0m0 2.9h0m0.2-2h0m0.1-1.5h0m0.2-2.2h0m0.1 3.2h0m0.1-2.2h0m0.2-0.7h0m0 3.5h0m0-2.5h0m0.1 0.2h0m0.1-0.5h0m0 2.8h0m0.1-3.1h0m0.2 3h0m0.4 1.7h0m0.1-4.4h0m0.2 3.7h0m0.1 0.9h0m0-3.6h0m0.2 3.3h0m0.1-0.1h0m0.4-2.2h0m0.1-3.1h0m0.3 2.4h0m0.1-2.1h0m0.7 3.5h0m0.2 0.1h0m0.4-2.9h0m0.1-0.5h0m0.2 5h0m0-1.8h0m0.3-3.7h0m0.2 3h0m0.1-2h0m0 4.7h0m0.1-0.5h0m0.3-0.6h0m0.2-0.4h0m0.2-2h0m0.2-2h0m0.2 4.8h0m0-2.2h0m0.9 2.4h0m0.1-2.1h0m0.4 0.2h0m0.1 1.5h0m0.1 0.7h0m0.2-5.2h0m0.1 4.5h0m0-1.4h0m0 2.3h0m1-0.1h0m0.1-0.4h0m0.3-3.1h0m0.1-1.3h0m0.2-0.8h0m0.4 5.5h0m0.6-0.1h0m0.2-4.5h0m0.3 4.6h0m0.2-0.9h0m0.2-3.7h0m0 0.8h0m0.1 2.2h0m0.4 1h0m0.2 0.2h0m0.8 0.8h0m0-3h0m1 0.1h0m0.1-0.4h0m0.3-1.6h0m0 2.5h0m0.1 1.8h0m0.2-1.8h0m0.1-3.1h0m0.1 1.2h0m0.2-0.4h0m1 3.3h0m0.4-3.9h0m0.8 4.7h0m0.1-1.8h0m0.3 1.2h0m0.3-0.1h0m0.3-1.6h0m0.1 0.4h0m0.2 1.6h0m0-0.3h0m0.4-1.2h0m0.2-3h0m0.2 4.2h0m0.6-4.1h0m0 1.1h0m2 3.5h0m0.2 0.1h0m0.3-0.5h0m1.1-2.8h0m0.8-1.9h0m0.2 3.8h0m1.4 0.3h0m0-3.8h0m0.3 1.6h0m0.6 2.7h0m0.5-4.8h0m0 2.1h0m0.3 1h0m0.1-1h0m0.3 0.1h0m0.9-0.2h0m0.4 0.3h0m2.4 0.4h0m0.7 1.6h0m2.8-3.7h0m0.2-0.4h0m0.2 3h0m1.1 0.3h0m0.5 0.3h0m1.9 1.2h0m0.3-1.2h0m0.7-0.9h0m3-2.2h0m0.5 3.4h0m0.7 0.3h0m2.3 1.4h0m2.8-0.4h0m1.5-4.5h0m3.3 0.9h0m5.6 2.8h0m7.7-2.8h0m0.8 0.8h0m2.2 2.8h0m0.6-3.3h0m0.5 1.1h0m19.9-0.8h0m2.1 2.8h0m22.3-0.6h0m-232.2 1.6h0m21.3 3.6h0m8.9-0.4h0m0.4-1h0m0.3 2.6h0m1.9-4h0m2.6-0.2h0m4.4 1.4h0m0.5 2.9h0m1.2-3.5h0m0.2 4.2h0m0.1-0.7h0m1.5-3.5h0m0.2 2.3h0m0-0.6h0m0.7-2.3h0m0.4 1.8h0m1.7-2.2h0m0.7 1.2h0m1-0.8h0m0.7 3.2h0m0.4-4.1h0m0.5-0.1h0m0.2 2h0m0.3-1.4h0m0.2 3.2h0m0-2.9h0m0.1 2.1h0m0.1 1.6h0m0.2-4.2h0m0.4 3.6h0m0.5-1.7h0m0.2-2.2h0m0 4.2h0m0.2-0.7h0m0.2 1.4h0m0.1-1.7h0m0.1-2.7h0m0.1 0h0m0.2 5.4h0m0.6-3.4h0m0.2-1.3h0m0.4 1.5h0m0.5-1.1h0m0 0.2h0m0 1.5h0m0.1-0.2h0m0.9-2h0m0.1 1.2h0m0.2 2.1h0m1-4h0m0.1 0.6h0m0.4-0.9h0m0.6 5.2h0m0-2.5h0m0.1 1.7h0m0.1-3.3h0m0.2-0.5h0m0 0.2h0m0.3 4.7h0m0.4-1h0m0.3-2.4h0m0-1.1h0m0-0.5h0m0.1 5.1h0m0.1-1.4h0m0-3.7h0m0.1 4.4h0m0.7-1.2h0m0-2.8h0m0.1-0.1h0m0.1 3.3h0m0.3 0.8h0m0.3-5h0m0.4 4.9h0m0 0.6h0m0.3-2.4h0m0.1-1.7h0m0.1 2.2h0m0.1 1.6h0m0.1-4.3h0m0.4-0.9h0m0.1 2.7h0m0-2.8h0m0 1.2h0m0.1 4.1h0m0-1.5h0m0.9-2.8h0m0.1 1.6h0m0.4-0.9h0m0 1.6h0m0.2 0.1h0m0.1 0.2h0m0.2-2.8h0m0.5 4.9h0m0.2-3.2h0m0.3-2.1h0m0.3 0.9h0m0.2 3.2h0m0-3.8h0m0 5.1h0m0.1-5.5h0m0.2 1.5h0m0.1 2h0m0.7-2.2h0m0-1.4h0m0.1 3.1h0m0.5-1.6h0m0 1.5h0m0.5-0.8h0m0.2-0.9h0m0.5 2.3h0m0.2 0h0m0-2.8h0m0.6 4h0m0-4.5h0m0 1.3h0m0.2 3h0m0.1 1h0m0.2-1.5h0m0.1-1.8h0m0.2-1.2h0m0 1.9h0m0.1 0.5h0m0.1-1h0m0.1-2.3h0m0.2-0.2h0m0.1 2h0m0.2-1.3h0m0.1 0.3h0m0.1 1.5h0m0.1-0.5h0m0.3 2.6h0m0-0.2h0m0.1-1.6h0m0.1-2.7h0m0.2 4h0m0 1.1h0m0.2-1.1h0m0.4-1.2h0m0 0.3h0m0.1-1.8h0m0 0.9h0m0.3 2.7h0m0.1-2.6h0m0.1 3.1h0m0.2-3.1h0m0.3 1.2h0m0.1-0.7h0m0-2.8h0m0.1 5.4h0m0.2-5.6h0m0 1h0m0.2-0.1h0m0.2-0.5h0m0-0.4h0m0.1 4.8h0m0.1 0.3h0m0-4.6h0m0.1 2.1h0m0 1.9h0m0.1-4.2h0m0 0.2h0m0.2 3.9h0m0 1.3h0m0-3.2h0m0.1 2h0m0-4.6h0m0.1 4h0m0.1-0.8h0m0 0.9h0m0.1-2.7h0m0.1 3.8h0m0.1-2.6h0m0.2-0.3h0m0.2 3.2h0m0-2.3h0m0.1-0.4h0m0 2h0m0.1-2.2h0m0.1 1.1h0m0-0.9h0m0.2-0.9h0m0 2.9h0m0.2-3.9h0m0-0.5h0m0.1 4.8h0m0.1-2.8h0m0.1 1.1h0m0.1-0.8h0m0.2 2.2h0m0.3-0.1h0m0-0.1h0m0.2-3.9h0m0.1 3.6h0m0.3-0.3h0m0-1.7h0m0.1 0.5h0m0.1 2.3h0m0.2-4.1h0m0 0h0m0 3.5h0m0-4.3h0m0.2 4.2h0m0-2.3h0m0 1.5h0m0.2-0.9h0m0-1.7h0m0.1 0.6h0m0.2-0.8h0m0 0.6h0m0.2 4.2h0m0.2-2.9h0m0.3-2.5h0m0.1 0.6h0m0.1 1.4h0m0 3.6h0m0.1-5.2h0m0 0.6h0m0.1 2.8h0m0.1-3.4h0m0.1 1.6h0m0.2-1.4h0m0 1.8h0m0.1 2.1h0m0.1-0.6h0m0 0.5h0m0.1-3.7h0m0 1.9h0m0.1 2.9h0m0.1-3.4h0m0.3 1.9h0m0 0.9h0m0-3.1h0m0.1 2.2h0m0.1-1.5h0m0.3-1.9h0m0.1 2.5h0m0.1-1.9h0m0.2 3.4h0m0.1-1.5h0m0.1-2.3h0m0.4 2.4h0m0 0.7h0m0.1-2.6h0m0 2.3h0m0.4-2.2h0m0 0.9h0m0-0.1h0m0.2-1.2h0m0 1.5h0m0.1 1.2h0m0-0.1h0m0.1-2.3h0m0.2-0.8h0m0 0.4h0m0.1 4.1h0m0.2-4.1h0m0.1 2.5h0m0.1-2.4h0m0.1 3.5h0m0-0.8h0m0-0.8h0m0.1-2.3h0m0.1 3.1h0m0-1.4h0m0.1 1.8h0m0-1.8h0m0.5 0.6h0m0.1 0h0m0.2-0.8h0m0-0.2h0m0.1 3.4h0m0.2-3.4h0m0.1 2.9h0m0.3 0.6h0m0.1-3h0m0 1.7h0m0.3 0.1h0m0.1-3.6h0m0 3.5h0m0.3-1.8h0m0.1-0.5h0m0.1 3.9h0m0-2.5h0m0-1.2h0m0.1-0.1h0m0-0.1h0m0.1 0.3h0m0.1 0.4h0m0-1.3h0m0 2h0m0 0.1h0m0.2-1.4h0m0.1-1.1h0m0.1-0.2h0m0 3.1h0m0-3.1h0m0 0.2h0m0.1 2.3h0m0.3 0.1h0m0-0.6h0m0.2-2.8h0m0 1.6h0m0.1-1h0m0 2.5h0m0.2-1.8h0m0-0.5h0m0.1 0.2h0m0.1 1.8h0m0.9 2.3h0m0.2-4.4h0m0.3 3.2h0m0.3-1.4h0m0.1 0h0m0 0.7h0m0.3 2.5h0m0-2.5h0m0.2-2.6h0m0 4.1h0m0.2-3.9h0m0.1 0.7h0m0.1 0.6h0m0 1.2h0m0.7 0.6h0m0.1 1.4h0m0-5.1h0m0.5 1.7h0m0.1 2.6h0m0.1-0.8h0m0.3-1.2h0m0 0.2h0m0.4 1.9h0m0-2.5h0m0.4-0.2h0m0.2 1h0m0 2.9h0m0-5.8h0m0.2 0.3h0m0 3.9h0m0.2-1.6h0m0-2h0m0.2 1.3h0m0.2 1.2h0m0-2.8h0m0 3.4h0m0.4 0.4h0m0.1-3.2h0m0 3.9h0m0.1-4.6h0m0 0.1h0m0 3.2h0m0.1-2.7h0m0.2 1.3h0m0.1 2.1h0m0-3.3h0m0.3 3.9h0m0.2-3.1h0m0-1.2h0m0.2 3.7h0m0.1-3.5h0m0.1 3.3h0m0 1.6h0m0-3.2h0m0.1 2.2h0m0-1.2h0m0 2.3h0m0.2-1.3h0m0.2-2.1h0m0 0.8h0m0-2.3h0m0.1-0.2h0m0.2 4.4h0m0-4.4h0m0 1.1h0m0.2-1.7h0m0 1h0m0.1 0.5h0m0.1-1.4h0m0.1 5.1h0m0.1-3.7h0m0 3h0m0.2-3.3h0m0.1 2.9h0m0.1 0.1h0m0.3 0.3h0m0.1-4.4h0m0.2 3.9h0m0-0.7h0m0.1-1.7h0m0.1 1.5h0m0.2 2.5h0m0-1.4h0m0-3.7h0m0.1 3h0m0.3-2.7h0m0.2 0.5h0m0.1-0.7h0m0 0.2h0m0.1 0.6h0m0 1.1h0m0.1-2h0m0.2 1.7h0m0.3 0.4h0m0.1 0.1h0m0.1-0.3h0m0.4-2h0m0 2.1h0m0.1 2.5h0m0.1-2.8h0m0.4-0.4h0m0.4 0.3h0m0-1h0m0.3 4.3h0m0.1-2.7h0m0.1-0.4h0m0.2-2.3h0m0.2 1.8h0m0.4 2.3h0m0 1h0m0.5 0.5h0m0-0.1h0m0.5 0.1h0m0-0.1h0m0.1-2.3h0m0.3-2.2h0m0.1 3.7h0m0-2.8h0m0.6-0.8h0m0.1-0.6h0m0.1 3.8h0m0.1 0.4h0m0.1-4.6h0m0.1 3.1h0m0.1-1.8h0m0.1 4.1h0m0 0.1h0m0.2-0.2h0m0-5.3h0m0.1 1.9h0m0.1 1h0m0.1-2.8h0m0.2 3.7h0m0.5-1.9h0m0.2 0.8h0m0-2.8h0m0.5 1.6h0m0.1 3.2h0m0-2.6h0m0.2 1h0m0.1 0.7h0m0.3-2.9h0m0.3 2.1h0m0.4 0.3h0m0.3 1.5h0m0.4 0.5h0m0-3.7h0m0.1-0.5h0m0.1 0.7h0m0 3.6h0m1.2-4.1h0m0.1 3.2h0m0.6 1.2h0m0.5-0.8h0m0.2-0.7h0m0.9-2.1h0m0.2 1.3h0m0 0.5h0m0.5-1.7h0m0 0h0m0.1-2.3h0m0 1.4h0m0 2h0m0.1 1.6h0m0.1-0.4h0m0.2-0.3h0m0.3-0.2h0m0.1-1.6h0m0.2 2.4h0m0-2.7h0m0.5 0.6h0m0-2.8h0m0 0h0m0 0.5h0m0.1 0.9h0m0.2 2.7h0m0.1-0.6h0m0.5-3.3h0m0.4 3.8h0m0.4-1h0m0-0.6h0m0.1 0.1h0m0-2.3h0m0.2 2.5h0m0 1.5h0m0.5-0.4h0m0.1 1h0m0.2-1h0m0.1-0.5h0m0 2.6h0m0-1h0m0.4-1.2h0m0.4-1.3h0m0.1-0.7h0m0 1.6h0m0.5 0.5h0m0.1-0.6h0m0.7 0.8h0m0.2 1.7h0m0-5.1h0m0.1 3.7h0m0.2-0.3h0m0.1-1.8h0m0.1 3.3h0m0.2 0h0m0.1-2.5h0m0-1.1h0m0.4 3.4h0m1.3-2.2h0m0.4 2.1h0m0.3-2.1h0m0-2.3h0m0.2 0.5h0m0.1 0.7h0m0 2.1h0m0.3-0.8h0m0.5-0.1h0m0.4 2.5h0m0.1-5.3h0m0.1 5h0m0.1-2h0m0.3-3.4h0m0.3 2.7h0m0.1-2.5h0m0.5 3.5h0m0.1-0.2h0m0.6-2.3h0m0.4 3.5h0m0.4-3.2h0m0.7 1.1h0m0.7 0.7h0m0.2-0.1h0m0-3h0m0.3 3.7h0m0.6 1.5h0m0-4.6h0m0.7 1.7h0m0 0.3h0m0.1-1.1h0m0.2 1.9h0m0.1 1.6h0m0.1-2.9h0m0.3 1.2h0m0-3.2h0m0.2 1.6h0m2.5-1.1h0m0.7 0.6h0m0.4-1h0m0.4 1.7h0m0.9-0.7h0m0.5-1.1h0m0.2 0.6h0m0.4 4h0m0.2-4h0m0.2-0.4h0m0.3 1.4h0m2.8 1.6h0m0.2-0.9h0m1.2-1.6h0m0.3-0.5h0m0.1 1.5h0m0.4 3.2h0m0.4-3.1h0m3.2 0.6h0m2.7-1h0m1 2h0m1.5-1h0m1.5-1.4h0m0.8 0h0m0.1-0.1h0m0.4 3.4h0m0.6-1.8h0m0.4-1.5h0m0.6-0.7h0m1.5 4.6h0m1.4-1.3h0m0.3-3.6h0m0.1 2.3h0m2.2-1.7h0m0.2 3.4h0m0 0.1h0m0.5-1.8h0m2.1 2.1h0m1-3.1h0m0.1 2.9h0m1.4-2.9h0m0.9-0.8h0m4.3 2.9h0m0.1 1.8h0m2.1-3.2h0m0.7-1.9h0m0.4 2.8h0m0.2 0.9h0m1.4-1.2h0m2.1 1.1h0m0.9-2.4h0m5.1 2.8h0m0.3 0.2h0m1.2 0h0m2.6-4.2h0m1.9 1.8h0m15.9-1.3h0m-188.5 6.1h0m3.3 4.9h0m7-4.6h0m3.9-0.5h0m0-0.6h0m1 5.3h0m2.2-4.1h0m0.5-1h0m3.1-0.2h0m4.6 0.3h0m2.9 3.1h0m0.1-2.4h0m1.2 0.5h0m1.6-0.7h0m2.9 1.2h0m0.1-2.2h0m0.4 0h0m1 0.5h0m0.2 0.9h0m0-1.1h0m0.3 1.8h0m0.2-0.6h0m0.1-0.6h0m0.5 3.3h0m0.3-3h0m0.4-1h0m0.4 3.4h0m0 0.1h0m0.2 1.6h0m0.6-1.8h0m0.7 0.6h0m0.4 1.8h0m0.2-4.6h0m0.5 1.7h0m0 0.6h0m0.1 1.2h0m0-0.3h0m0-0.7h0m0.6 0h0m0.1-1.8h0m0.1-1.6h0m0.3 0.5h0m0.2-0.1h0m0 2.1h0m0.1-0.5h0m0.2 1h0m1-1.1h0m0.2 3h0m0.4-2.9h0m0.1-2.4h0m0 1.8h0m0.1 2.6h0m0.4-3.3h0m0.3 0.2h0m0.4 1.8h0m0.2 0.1h0m0.2 0.9h0m0-3.6h0m0.3 4.2h0m0.3-4.8h0m0.5 1.8h0m0.4 0.3h0m0.1-0.1h0m0.1 0.7h0m0.1 2.5h0m0 0.5h0m0.5-1.4h0m0.5-0.6h0m0.2-2.6h0m0.5-0.4h0m0.4 4.7h0m0.2-4.4h0m0.2 1.2h0m0.2-0.1h0m0.2-1.9h0m0.3 1.7h0m0.3 2.4h0m0.2 0.1h0m0.1-1.6h0m0.1 1.8h0m0-3.5h0m0.2-0.5h0m0.2-0.5h0m0.7 2h0m0 0.6h0m0 1.2h0m0.1-2.2h0m0.2 1.5h0m0.2-2.8h0m0.1 3.2h0m0 0.5h0m0.2-3h0m0 2.5h0m0.1-2.4h0m0.2 4.6h0m0.1-1.8h0m0-2.6h0m0.1 2.1h0m0.2-1.3h0m0.3 0h0m0-2.1h0m0.2 3.1h0m0-1.5h0m0.2 2.5h0m0.3 0.9h0m0.1-4.8h0m0.1 4.5h0m0.6-4.4h0m0.2 1h0m0.1 1.4h0m0.3-2.3h0m0 1.9h0m0.2-0.5h0m0.1 0h0m0 2.2h0m0.3-3h0m0.1-0.2h0m0 0.6h0m0.2 2.5h0m0.2 0.9h0m0-4.3h0m0.1 2.6h0m0.1-0.3h0m0.3-2.2h0m0.2 1h0m0.1-1.2h0m0.3-0.4h0m0.3-0.1h0m0.2 1.4h0m0.1 2.8h0m0.6-2.7h0m0 1.9h0m0.2-2h0m0.1-0.2h0m0.1 0.1h0m0.2 1.4h0m0.1 1.8h0m0.1-3h0m0.1 2.1h0m0-2.8h0m0.1 0h0m0.1 4.2h0m0.3-2h0m0.1-0.7h0m0.4-2.3h0m0.3 3.5h0m0.1-1.7h0m0.1 3.3h0m0-0.1h0m0.1-4.6h0m0.2 0.2h0m0.3 0.3h0m0.1 2.2h0m0.1-2.9h0m0.2 0.8h0m0.9 2.1h0m0.4-0.2h0m0.3 0.8h0m0.2-1.7h0m0.5-1.9h0m0 3.1h0m0.3-2.1h0m0.1 2h0m0-3h0m0.6 0.3h0m0.9 2.6h0m0.9-1h0m0.1 1.5h0m0.2-0.7h0m0.1-2.7h0m0.2 2.8h0m0.1 1h0m0.2 0.8h0m0.1 0.4h0m0.3-2.1h0m0.3 1.1h0m0.1 1.6h0m0.1-1h0m0.6-2.7h0m0.2 3.1h0m0.4 0.5h0m0.8-2.7h0m0.1-0.3h0m0.2-0.7h0m0.2-0.6h0m0.1 4.5h0m0-3.7h0m0 2.8h0m0.5-3h0m0.3-1.1h0m0.1 4.7h0m0-5h0m0.2 4.6h0m0.3-4.4h0m0.2 2.3h0m0.4-1.6h0m0-1.1h0m0 2.4h0m0.1-2.3h0m0.3 2.2h0m0.2-0.5h0m0 3.5h0m0.9-2h0m0-3.3h0m0.1 5.3h0m0.1-0.5h0m0.3-2.2h0m0.2 1.2h0m0.4 0.8h0m0.4 0.6h0m0.3-5h0m0 3.3h0m0.1-0.1h0m0 1.3h0m0-3.9h0m0 4.6h0m0.5-2.9h0m0.4 0.5h0m0-0.6h0m0.3-2.1h0m0.1 4.2h0m0.4-1h0m0.2-2.4h0m0.1 0.3h0m0-1.6h0m0.1 4.4h0m0.2-3.7h0m0-0.5h0m0.7 0.5h0m0.1 1.6h0m0.2 0.1h0m0.1 3.2h0m0.2 0.1h0m0.6-0.1h0m0.1-0.8h0m0.3-3.4h0m0 2.4h0m0.1 1.1h0m0.1-4.9h0m0.3 4.6h0m0.3-3.7h0m0.2-0.3h0m0.2-0.6h0m0 4.1h0m0.1-1.4h0m0.1-0.3h0m0.5-1h0m0.2 2.6h0m0-0.8h0m0 2.7h0m0.1-5.2h0m0.1 2.9h0m0.4-0.5h0m0.2 2.1h0m0.5-4.6h0m0 1.2h0m0 1.3h0m0.2-2.4h0m0.3-0.6h0m0 2h0m0.1 1.7h0m0.3-2.4h0m0.2-0.7h0m0.2-0.8h0m0.2 3.1h0m0.2-2.5h0m0 1.8h0m0-0.9h0m0.6 3.6h0m0-3.5h0m0.2 2.9h0m0-1.7h0m0.1-1.3h0m0.1 2.5h0m0.1-3h0m0.6 4.2h0m0-4h0m0.1 0.7h0m0 2.9h0m0.1-3h0m0.3 4.2h0m0.1-0.1h0m0.1-0.8h0m0.5 0.8h0m0.1-1.1h0m0.3-0.1h0m0.2-3.2h0m0 2h0m0.1-3.4h0m0 4.2h0m0-3.3h0m0.7 4.1h0m0.1-1.6h0m0.3-2.6h0m0.4 3.2h0m0.1 1.6h0m0.1-1.9h0m0.1 0.3h0m0.3-0.3h0m0.4-1.6h0m0.5 2.3h0m0.1-0.3h0m0.2 1.7h0m0-3.5h0m0 0.2h0m0.4-0.6h0m0 2.1h0m0.1-1.1h0m0.2 1.8h0m0-1.9h0m0.6-1.3h0m0.1 2.8h0m0.4 1h0m0.3-3.3h0m0.1-0.8h0m0.4 3.6h0m0.5 0.7h0m0.1-1.3h0m0.1 0.5h0m0.2-0.6h0m0.1-3.5h0m0 5.2h0m0-5.2h0m0.6 2.3h0m0.3-1h0m0.2 1h0m0.5-2.3h0m0.3 1.2h0m0.2-1.6h0m0.4 3.6h0m0.8-3.4h0m0.1 1.1h0m0.1 2.1h0m0.2-3.2h0m0.4 2.5h0m0.1 2.9h0m0.2-5.8h0m0 1.7h0m0.2 3.5h0m1-0.1h0m0.1-4.6h0m0 0.3h0m0.2 0.4h0m0.4 0.6h0m0-1.5h0m0.2 4.7h0m0-4.9h0m1 5h0m0.1-5h0m0.4 3.4h0m0.8-1.4h0m1 0.1h0m1.7-2.3h0m0.2 0.5h0m1.6 0.4h0m1.2 1.3h0m0 2.6h0m0.5-4.4h0m0.2 3.5h0m0.5-3.2h0m1.5 5.1h0m0.4-4.5h0m2 2.6h0m0.1 1.6h0m0.6-2.2h0m0.3-1.4h0m1-0.9h0m0.2 3.2h0m0.4-1.9h0m0.5-2.2h0m0.3 4.3h0m0-2.7h0m0.6-1.1h0m0.4 3.2h0m0-3.1h0m1 4.2h0m0.2 0.2h0m0.1-2.6h0m0.4 3h0m2.2-2.5h0m2.5 0.7h0m0.2-1.3h0m0.4 2.5h0m1-4.1h0m3 5h0m3.7-3.3h0m0.1-1.8h0m0.5 2.5h0m0.7 2.8h0m4-5.1h0m1.4 4.4h0m1.3-0.5h0m2.9-1.2h0m3.5-1.5h0m2.9 1.8h0m1.7-2.9h0m0.6 0h0m1.3 3.1h0m0.5-1.7h0m3.5 1.5h0m4.2-2.3h0m5.8 1.4h0m-162.1 7h0m2.1-3.6h0m0.2 1.6h0m8.5 4h0m4-3.4h0m4.2-0.9h0m0.4 0h0m4.7 0.5h0m1.4-1.3h0m0.4 3.9h0m0.3-3.6h0m0.1-1.2h0m0 4.1h0m0.9-3.4h0m1.2 2.6h0m0.1-2.2h0m0.7 2.4h0m0.8 0.1h0m0.2 0.7h0m2.7-2.3h0m0.7-1h0m0.9 1h0m1 2h0m0.2-0.2h0m0.3-3.2h0m0.1 4.1h0m0.4 0.9h0m0.6-4.1h0m0.7-0.1h0m0.3 2.5h0m0.1-0.9h0m0.3-0.7h0m0.2-0.3h0m0.1 1h0m0 1.3h0m0.7-4.2h0m0.7 5h0m0.4-0.8h0m0.1-2.3h0m0.3 0.5h0m1.2-2.1h0m0 3.9h0m1.1-1.4h0m0.2-0.9h0m0.2 0.1h0m0.6 0.2h0m0.2-1.9h0m0.1 1.5h0m0 1.6h0m1.3-0.4h0m0-1.2h0m0.7 1.4h0m0.7 2.4h0m0-3.2h0m0.2 0.1h0m0.3 2h0m1-1.6h0m0 2.1h0m0.6-3.9h0m0 1.5h0m0.5 1.6h0m0.1-1.3h0m0 1.4h0m0.5 0.3h0m0.3-4.5h0m0.3 0.9h0m0.3-0.4h0m0.5 1.7h0m0.3-0.7h0m0.3-1h0m0.3 3.6h0m0.3-3.8h0m0.1 3h0m0.1-0.1h0m0.2-2h0m0.3-0.2h0m0.2 2h0m0.5 1.5h0m0.5-0.8h0m0.1-3.8h0m0.3 0.1h0m0.7 2.6h0m0.2-1.6h0m0.7-0.6h0m0 0.6h0m0.2 1.2h0m0.1 2.8h0m1.2-1.1h0m0.1-3.6h0m0-0.2h0m0.1 0.3h0m0.2-0.1h0m0.3 2.6h0m0 2.7h0m0.1-3.7h0m0.3 1.6h0m0.1-0.1h0m0.4 1.8h0m0.5-4.8h0m0.5 1.4h0m0.2 2.6h0m0.1-3.7h0m0.1-0.8h0m1.6 5.4h0m0.4-3.6h0m0 0.8h0m1.2 1.8h0m0.4-2h0m0.4 2.1h0m0.5-0.9h0m0.8-0.8h0m0.8-1.6h0m0.9 3.7h0m0.2-1.9h0m0.1-1h0m0.3 3.2h0m0-4.2h0m0.6 1.8h0m0-1.5h0m0.9-0.6h0m0.3 2.5h0m0.3-0.9h0m0.3-2.3h0m0.3 2.9h0m0.4 0.6h0m0.1-0.2h0m0.1 0.7h0m0.1 1.5h0m0.6-4.4h0m0.2-0.9h0m0 5.4h0m0.4-0.6h0m0.3-1.8h0m1.2-2.4h0m0.3 0.5h0m0.1 0.3h0m0.1 0.7h0m0.1 3.2h0m0.7-0.5h0m0.1-1.3h0m0 0.9h0m0.5-1.8h0m0.2 3.1h0m0.1-0.2h0m1.1-0.3h0m0-4.1h0m0.8 3.7h0m0 0.8h0m1-2.5h0m0.6 1.9h0m0.4-0.2h0m1.6-4.6h0m0 5h0m0.5-4.2h0m0.2-0.6h0m0.5-0.1h0m0.3 2.8h0m1.5-0.5h0m0.6-2.7h0m0.1 1h0m0.2 2.1h0m0.2-2.4h0m0.2 2.1h0m0.2-2.1h0m0.2 3.1h0m0.4-3.3h0m0.5-0.5h0m0.2 3.5h0m0.2-1.5h0m1.1-1.6h0m0.1 2.1h0m0.2 2.8h0m0.2-4.6h0m0.4 5.1h0m0-4.2h0m0.8 1h0m0.4-1h0m0.2 0.7h0m0.2-2.3h0m0.3 4.9h0m0.2 0.8h0m0.3-2.3h0m0.3-1.1h0m0.1-2h0m0.8 1.4h0m0.3 3.1h0m0.2-0.7h0m0.2 1.6h0m0-3.2h0m0.1 2.5h0m0.4-2.1h0m0.3 0.2h0m0.1-1.8h0m0.3-0.8h0m0.4 2h0m1.7-1.8h0m0 1h0m2 3.6h0m2.2-4.6h0m0.1 1.9h0m4.1-0.4h0m0.2 1.8h0m2.2-1.3h0m0.7 1.4h0m1.2-1.4h0m0.7 1.1h0m3.1 1h0m0.1 0.1h0m1.8-3.9h0m0.5 4.8h0m1.2-2.2h0m2.1-0.7h0m0.3-0.9h0m0.4-1.5h0m6.7 1.3h0m0.6 1.1h0m0.1 0.9h0m0.3-2.8h0m0.6 3.5h0m3.1-2.4h0m6.1-1.3h0m0.2 1.5h0m1 1.4h0m2.2 0.4h0m4.1 1.7h0m0.1-3.5h0m3.2 1.2h0m2.2 1.4h0m7.4-4.5h0m0.3 2.6h0m1.3-2.8h0m22.7 4.5h0m-178 2.4h0m2.4 0.6h0m5.5 3.1h0m4.3-4.2h0m3.1 2.1h0m3.3-0.6h0m1.4 1.9h0m1.6-3.8h0m1.2-0.3h0m2.5 4h0m0.9-0.8h0m0.2 2.4h0m3.2-3.9h0m1.3-0.3h0m1.1-1.3h0m0.5 1.5h0m0.7 4h0m1.2-1.7h0m0.3-0.3h0m0.3-3h0m0.6 4.2h0m0.3-2.9h0m0.3 0.5h0m2.3-1.8h0m0.1 1.7h0m0.9-1.8h0m0.7-0.4h0m0.8 0.4h0m0.5 2.3h0m0.4-2.8h0m0 1.5h0m0.4-0.7h0m0.2 2.7h0m1.2-3.2h0m0.2 5.2h0m2-0.3h0m1-4.9h0m0.6 3.1h0m1.5 0.4h0m1.2 0.7h0m2.3-2.4h0m0.3 0.3h0m0.7-0.5h0m2.3-1.8h0m0.3 1.5h0m0.6 2.9h0m0-4.4h0m0.1 4.8h0m0.1-1.7h0m0.1 0.3h0m0.6-0.6h0m0.2-1.5h0m1.9-0.6h0m1.5 0.9h0m0.1 3.7h0m0.1-3.8h0m0-1h0m0.7 3.3h0m0.3-3.6h0m0.4 3.6h0m0.4 1.4h0m0.8-5.2h0m1.2 1.9h0m1.4-1.1h0m0.3 2.8h0m0.9 0h0m0.5-2.3h0m0.8 1.8h0m0.2 1.4h0m0.2 0.8h0m0.5-2h0m0.2 2.4h0m0.2-3.5h0m0.8 2.4h0m1-4.3h0m0.6 4.3h0m0-2.3h0m0.3-1.9h0m0.2 4.8h0m0.3-3h0m0-0.6h0m0.7 2.7h0m0.4-2.8h0m0.1 2.3h0m1.6-0.3h0m0.2-1h0m0.2-1h0m0.1 1.2h0m0 0.7h0m0.5-3h0m0.1-0.1h0m0.5 0.6h0m0.3 2.4h0m0.3 0.2h0m0.1-1.2h0m0.7 1.7h0m0.1 0h0m0.3-4h0m0.1 4.6h0m0-3.7h0m0.4 3.2h0m0.9-3.7h0m0 4.2h0m1.9-3.9h0m0.1 1.3h0m0.4 0.9h0m0.8-0.1h0m0.6 2.3h0m2-4.3h0m0.1 4.4h0m1.4-3.5h0m0.1 3.1h0m0.4-0.5h0m0.4-4.4h0m0.6 3.4h0m0.2 0.4h0m0.8-3.6h0m0.3 2.7h0m0.3 0.5h0m3.1 1.6h0m0.3-1.9h0m0.8 1.2h0m1.8-3.3h0m0.8-0.7h0m0.1-0.1h0m0.6 1.8h0m0 1.9h0m2.2-0.1h0m0.9 0.3h0m1.1-2.6h0m1.5 3.4h0m1.1-3.9h0m0.6-0.4h0m3 1.6h0m4.5-0.8h0m0.1 3.7h0m0.9-4.5h0m2.2 4.7h0m0.4-4.7h0m3.6 0.8h0m1.7 0.8h0m4.2 1.3h0m0.7-0.7h0m1.1 1h0m0.8 0.2h0m9.4 1.9h0m0.4-5.6h0m1 0.7h0m1.8 0.2h0m8.7 3.4h0m11.6-2.2h0m-189.9 9.5h0m11.5-2.6h0m2.8-1h0m15.8 2.5h0m3.9-1.7h0m13.6-0.6h0m1.5 2h0m2.1-3.7h0m0.1 2.6h0m4.8-1.4h0m2.3-0.4h0m0 4.1h0m3.5-3.1h0m0.6 0.4h0m1.8-0.2h0m0.4 2.2h0m1.5-2.9h0m0.9 0.6h0m0.1-1.5h0m0.2 1.7h0m5.9-1.7h0m0.4-0.9h0m0.7 3.5h0m0.5 0.4h0m0.1-0.9h0m1.8-3.2h0m0.6-0.1h0m0.2 3.7h0m0.9-2.6h0m7.2 1.4h0m2.5-1.2h0m0.5 0.8h0m0.4 2h0m2.2-3.3h0m0.6 1.6h0m0.2-0.2h0m1.6 0.7h0m2.1 0.4h0m0.5-2.9h0m1.2-0.5h0m0.2 3.1h0m2.1 0.4h0m1-2.2h0m2.8 3.9h0m3.9-0.4h0m1.2-2.8h0m0.8 1.1h0m0.6 1.5h0m0.2-0.9h0m0.7 1.3h0m2-0.1h0m1.6-3.7h0m1.7-0.5h0m0.1 4h0m8-0.6h0m0.8-3.8h0m0.9 2h0m0.1 0.8h0m5.5-2.8h0m2 0.5h0m5.8 2.9h0m1.3 0.3h0m0.3-1.2h0m0.2-1.6h0m0.3 0.3h0m0-1.4h0m5.6 0.6h0m16.3 0.3h0m6.1 3.5h0m-219.8 1.6h0m81.3 0.5h0m22.3 2.6h0m3.7-1.6h0m0.5 3.3h0m7.2-4h0m0.1 1.8h0m0.9-0.4h0m2.2-2h0m8.2 1.8h0m12.8 0.2h0m1.2 2h0m0.3-2.9h0m0.7-0.9h0m0.3 1.1h0m2.2 4.3h0m3.3-5.5h0m1.1-0.4h0m2 0.1h0m1.3 3.4h0m0.2-1.1h0m7.3-2.1h0m6.4 3.3h0m1.2 2.3h0m0.2-4.4h0m1.9-1.3h0m0.6 1h0m3.2 2.4h0m0.1-0.4h0m0.5 0.3h0m2.7 2h0m1.8 0h0m0.9-5.2h0m1.4 1.3h0m6.5 2.7h0m0.5 1.5h0m6.5-1.8h0m1.3-3.7h0m0.4 5.3h0m2.6-2.9h0m14.5 0.4h0m10.4-2.4h0m5.5 0.9h0m1 3.8h0m-149 1.3h0m9.2 1.6h0m33 1.1h0m9.2-1.5h0m2.7-0.7h0m0.6 4h0m9-5.2h0m9.4 5.9h0m1.8-4.6h0m19.1 3.7h0m0.4-2.4h0m1-2h0m0 5h0m2.4-4.8h0m21.8 4.1h0m3.8-3.6h0m9.7 2.8h0m4.5-0.5h0m24.2-1.1h0m2.9-1.7h0m-137.9 6.4h0m25.5 2.9h0m12.5-1.3h0m2.4 1.7h0m7.3-2.7h0m28.4 2.6h0m7.1 1.2h0m37-1.3h0m18.3-0.8h0m-112.7 3.6h0m27.1 1.7h0m9.5-2.6h0m-62.3 17.5h0m60 0.1h0m60.5-2h0m26.1 0.3h0" stroke="#000" stroke-width="2.7" stroke-linecap="round" fill="none"/>
<polyline points="171.0,1014.6 185.0,1022.0 205.0,1031.0 225.0,1041.0 245.0,1050.6 255.0,1055.0 265.0,1058.0 280.0,1059.5 305.0,1062.0 330.0,1066.2 355.0,1071.2 380.0,1077.5 405.0,1083.8 422.5,1089.5" fill="none" stroke="#d33a2f" stroke-width="1.8" stroke-linejoin="round"/>
<text x="51.38" y="45.5" text-anchor="middle" font-size="17.5" font-weight="bold" stroke="#000" stroke-width="0.75" fill="#000">a</text>
<text x="253.25" y="49.2" text-anchor="middle" font-size="15.95">HSA4: 1,000–14,000 kb</text>
<text x="507.5" y="63.2" text-anchor="middle">7,910</text>
<text x="507.75" y="168.7" text-anchor="middle">4,000</text>
<text x="507.25" y="222.0" text-anchor="middle">2,000</text>
<text x="490.62" y="272.0" text-anchor="middle">1</text>
<text x="127.25" y="290.0" text-anchor="middle">1</text>
<text x="264.45" y="290.7" text-anchor="middle">5,000</text>
<text x="398.75" y="290.0" text-anchor="middle">10,000</text>
<text x="478.25" y="290.0" text-anchor="middle">13,000</text>
<text x="300.0" y="311.0" text-anchor="middle">(kb)</text>
<text x="101.6" y="162.4" text-anchor="middle" font-size="16.07" transform="rotate(-90 101.6 162.4)">GGA4: 77,340–85,250 kb</text>
<text x="550.25" y="160.75" text-anchor="middle" transform="rotate(-90 550.25 160.75)">(kb)</text>
<text x="52.25" y="352.25" text-anchor="middle" font-size="17.5" font-weight="bold" stroke="#000" stroke-width="0.75" fill="#000">b</text>
<text x="106.9" y="354.0" text-anchor="middle">20</text>
<text x="107.4" y="457.0" text-anchor="middle">10</text>
<text x="110.2" y="560.8" text-anchor="middle">0</text>
<text x="132.65" y="586.2" text-anchor="middle">–0.5</text>
<text x="230.0" y="585.5" text-anchor="middle">0</text>
<text x="325.25" y="586.0" text-anchor="middle">0.5</text>
<text x="422.2" y="586.7" text-anchor="middle">1.0</text>
<text x="292.0" y="604.0" text-anchor="middle">log(length ratio)</text>
<text x="84.4" y="438.6" text-anchor="middle" font-size="16.16" transform="rotate(-90 84.4 438.6)">Percentage</text>
<text x="51.38" y="646.5" text-anchor="middle" font-size="17.5" font-weight="bold" stroke="#000" stroke-width="0.75" fill="#000">c</text>
<text x="138.25" y="647.2" text-anchor="middle">3</text>
<text x="137.78" y="711.4" text-anchor="middle">2</text>
<text x="137.15" y="775.4" text-anchor="middle">1</text>
<text x="138.15" y="838.9" text-anchor="middle">0</text>
<text x="234.12" y="659.9" text-anchor="middle" font-size="16.09">Correlation = 0.326</text>
<text x="220.75" y="876.7" text-anchor="middle">0.0</text>
<text x="318.75" y="877.0" text-anchor="middle">0.5</text>
<text x="417.88" y="876.7" text-anchor="middle">1.0</text>
<text x="308.25" y="891.7" text-anchor="middle" font-size="16.28">log [length ratio</text>
<text x="308.35" y="911.3" text-anchor="middle" font-size="16.06">(human:chicken; all bases)]</text>
<text x="95.3" y="745.25" text-anchor="middle" font-size="16.19" transform="rotate(-90 95.3 745.25)">log [repeat-masked sequence</text>
<text x="112.5" y="745.5" text-anchor="middle" font-size="16.1" transform="rotate(-90 112.5 745.5)">ratio (human:chicken)]</text>
<text x="52.12" y="933.0" text-anchor="middle" font-size="17.5" font-weight="bold" stroke="#000" stroke-width="0.75" fill="#000">d</text>
<text x="133.0" y="965.8" text-anchor="middle">0.2</text>
<text x="130.5" y="1012.0" text-anchor="middle">0.1</text>
<text x="130.3" y="1058.3" text-anchor="middle">0.0</text>
<text x="130.75" y="1106.0" text-anchor="middle">–0.1</text>
<text x="132.5" y="1153.5" text-anchor="middle">–0.2</text>
<text x="388.85" y="966.3" text-anchor="middle" font-size="16.31">Correlation = -0.256</text>
<text x="263.25" y="1184.8" text-anchor="middle">0.0</text>
<text x="362.25" y="1184.8" text-anchor="middle">0.5</text>
<text x="462.6" y="1184.8" text-anchor="middle">1.0</text>
<text x="308.8" y="1203.7" text-anchor="middle" font-size="16.27">log [length ratio (human:chicken;</text>
<text x="309.3" y="1220.5" text-anchor="middle" font-size="16.16">non-repeat-masked bases)]</text>
<text x="83.3" y="1050.25" text-anchor="middle" font-size="16.18" transform="rotate(-90 83.3 1050.25)">log [G+C ratio (human:chicken;</text>
<text x="100.8" y="1051.0" text-anchor="middle" font-size="16.16" transform="rotate(-90 100.8 1051.0)">non-repeat-masked bases)]</text>
</svg></body></html>
